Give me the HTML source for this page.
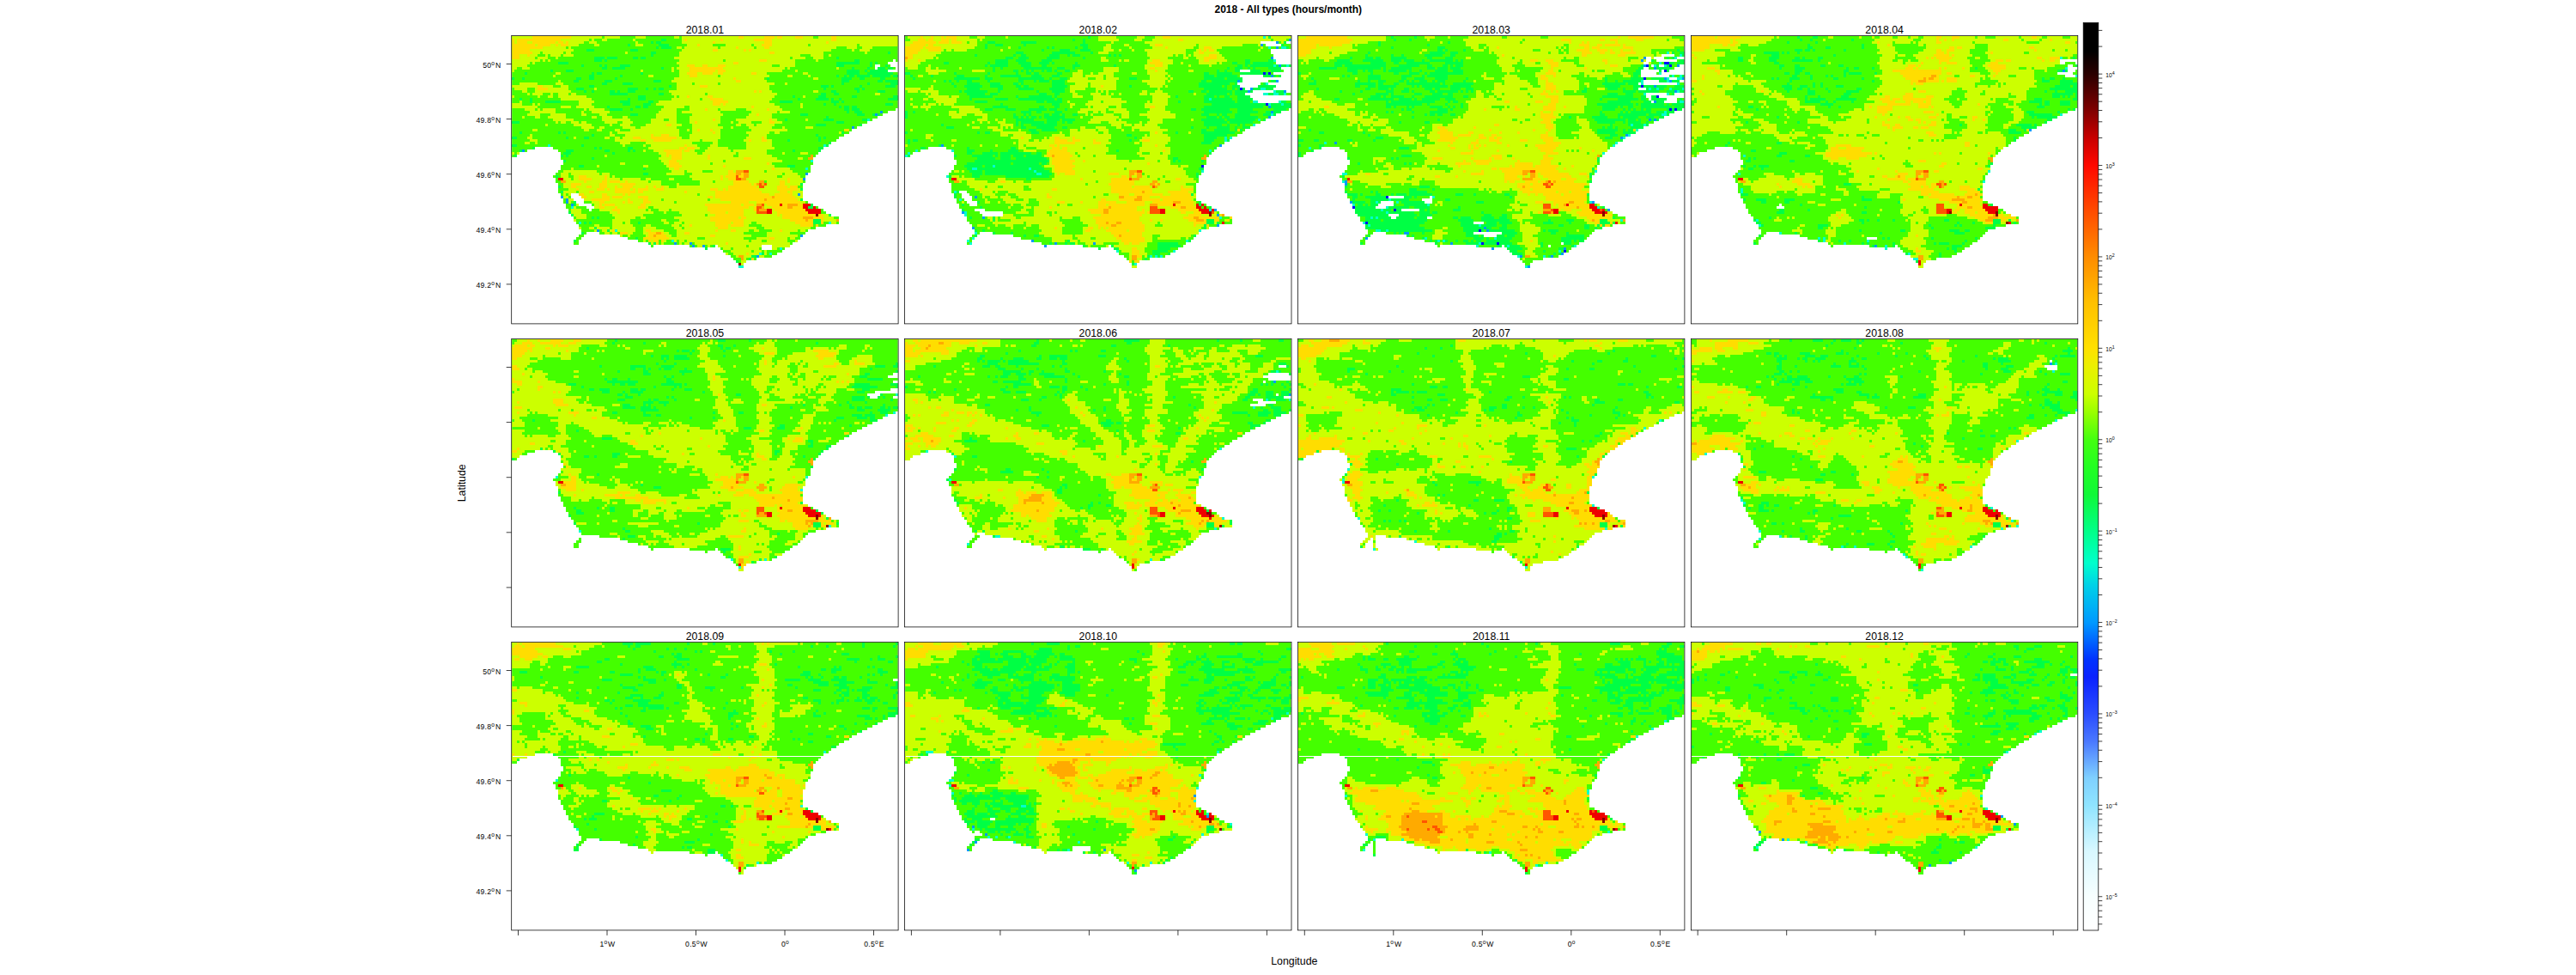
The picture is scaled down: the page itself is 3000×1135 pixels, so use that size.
<!DOCTYPE html><html><head><meta charset="utf-8"><title>2018 - All types (hours/month)</title>
<style>html,body{margin:0;padding:0;background:#fff}svg{display:block}text{font-family:"Liberation Sans",sans-serif;fill:#000}</style></head><body>
<svg width="3000" height="1135" viewBox="0 0 3000 1135">
<rect width="3000" height="1135" fill="#fff"/>
<text x="1500.30" y="15.20" font-size="12" text-anchor="middle" font-weight="bold" >2018 - All types (hours/month)</text>
<g shape-rendering="crispEdges">
<clipPath id="c1"><rect x="0" y="0" width="449.40" height="334.40"/></clipPath>
<g transform="translate(596.20,42.00)" clip-path="url(#c1)"><g transform="scale(3,3) translate(0,0.5)" stroke-width="1" fill="none">
<path stroke="#44ff00" d="M0 0h151M0 1h151M0 2h151M0 3h151M0 4h151M0 5h151M0 6h151M0 7h151M0 8h151M0 9h148M149 9h2M0 10h146M0 11h141M143 11h4M0 12h141M142 12h7M0 13h146M0 14h151M0 15h151M0 16h151M0 17h151M0 18h151M0 19h151M0 20h151M0 21h151M0 22h151M0 23h151M0 24h151M0 25h151M0 26h151M0 27h151M0 28h149M0 29h146M0 30h144M0 31h142M0 32h140M0 33h138M0 34h136M0 35h134M0 36h132M0 37h131M0 38h129M0 39h127M0 40h126M0 41h124M0 42h123M0 43h9M16 43h105M0 44h6M18 44h102M0 45h3M19 45h100M0 46h2M19 46h99M19 47h98M20 48h97M20 49h97M19 50h97M19 51h97M18 52h98M17 53h98M16 54h98M17 55h97M17 56h97M18 57h95M18 58h95M18 59h95M18 60h95M19 61h4M26 61h87M19 62h4M27 62h86M20 63h4M28 63h85M20 64h5M28 64h87M21 65h5M31 65h86M21 66h8M32 66h87M22 67h8M31 67h90M22 68h100M23 69h101M24 70h103M24 71h103M25 72h102M26 73h96M26 74h92M27 75h88M27 76h2M34 76h80M26 77h2M42 77h71M25 78h2M45 78h67M24 79h2M49 79h62M24 80h2M53 80h56M54 81h1M69 81h10M80 81h17M101 81h7M75 82h1M81 82h16M101 82h5M82 83h23M83 84h20M85 85h16M86 86h9M87 87h4M88 88h2M88 89h2"/>
<path stroke="#0099ff" d="M143 29h1M141 30h1M132 35h1M4 44h1M114 53h1M113 55h1M111 61h1M19 62h1M21 63h1M21 64h1M23 65h1M33 75h1M112 77h1M63 80h1M69 80h1M70 81h1M74 81h1M95 85h1"/>
<path stroke="#00ffcc" d="M138 32h1M14 42h1M121 42h1M116 48h1M114 51h1M23 66h1M26 72h1M123 72h1M40 75h1M62 79h1M104 82h1M96 84h1M100 84h1M88 89h2"/>
<path stroke="#00ff44" d="M58 1h2M54 2h1M56 2h2M45 3h1M57 3h4M56 4h1M58 4h4M29 5h3M46 5h3M54 6h2M146 6h1M54 7h1M32 8h4M37 8h4M47 8h2M50 8h2M126 8h1M32 9h3M36 9h1M133 9h2M150 9h1M18 10h4M126 10h9M139 10h1M141 10h1M27 11h1M34 11h1M36 11h1M42 11h4M126 11h3M139 11h1M145 11h1M35 12h2M39 12h5M58 12h1M132 12h1M138 12h1M142 12h3M146 12h2M15 13h1M21 13h3M130 13h5M137 13h1M139 13h7M5 14h1M31 14h1M33 14h2M50 14h1M130 14h5M138 14h10M30 15h2M42 15h1M126 15h1M129 15h1M131 15h2M134 15h5M140 15h7M148 15h3M0 16h1M4 16h1M25 16h2M30 16h2M40 16h1M99 16h1M128 16h4M135 16h2M143 16h2M24 17h2M36 17h3M55 17h3M128 17h3M142 17h2M145 17h6M35 18h2M43 18h4M128 18h1M138 18h1M147 18h4M30 19h2M61 19h1M120 19h3M124 19h1M135 19h1M145 19h4M25 20h3M45 20h4M52 20h1M55 20h1M57 20h2M121 20h1M133 20h2M136 20h1M28 21h1M31 21h1M38 21h2M41 21h1M45 21h3M124 21h2M134 21h1M142 21h3M38 22h7M57 22h2M120 22h2M125 22h2M49 23h3M109 23h1M119 23h3M132 23h2M148 23h3M3 24h1M7 24h1M45 24h1M49 24h3M111 24h1M118 24h5M124 24h1M127 24h1M146 24h4M7 25h1M13 25h6M42 25h4M53 25h2M104 25h5M124 25h3M128 25h1M43 26h3M51 26h3M121 26h1M125 26h1M145 26h3M37 27h1M48 27h2M51 27h2M127 27h1M129 27h2M132 27h2M38 28h5M46 28h1M129 28h2M132 28h3M130 29h1M133 29h3M46 30h3M112 30h3M134 30h3M140 30h1M142 30h1M122 31h1M106 32h1M121 32h4M136 32h2M0 33h3M126 33h3M118 34h4M135 34h1M3 37h1M18 37h1M20 37h1M128 37h1M31 38h1M118 38h1M0 39h2M21 39h1M28 39h2M119 39h1M121 39h1M107 40h1M119 40h1M123 41h1M0 42h2M27 42h1M122 42h1M8 43h1M32 43h1M34 43h1M45 43h2M119 43h2M3 44h1M21 44h3M36 44h2M45 44h1M47 44h1M109 44h1M119 44h1M20 45h3M39 45h1M1 46h1M19 46h1M21 46h1M31 47h1M20 48h1M26 50h2M107 50h3M51 51h1M51 53h2M17 54h1M112 57h1M18 58h1M112 59h1M19 60h1M112 63h1M24 64h1M24 65h1M116 65h1M115 66h2M22 68h1M23 69h1M123 69h1M31 70h1M33 70h1M117 71h3M28 72h1M30 72h1M49 72h1M117 72h3M32 74h1M37 75h1M27 76h1M48 78h1M24 79h1M53 80h1M55 80h1M78 81h1M75 82h1M97 84h1M93 85h2M92 86h1M87 87h1"/>
<path stroke="#ccff00" d="M0 0h8M23 0h12M36 0h6M48 0h4M63 0h2M66 0h22M90 0h8M102 0h1M105 0h5M113 0h4M119 0h5M126 0h25M1 1h1M19 1h11M31 1h1M35 1h2M47 1h1M66 1h1M68 1h13M82 1h12M101 1h23M126 1h25M1 2h1M6 2h2M17 2h1M20 2h1M22 2h6M30 2h3M48 2h1M66 2h12M79 2h19M101 2h21M123 2h28M9 3h1M15 3h2M18 3h1M22 3h4M32 3h2M48 3h3M68 3h4M73 3h5M83 3h10M94 3h3M101 3h14M116 3h18M135 3h16M12 4h9M22 4h1M64 4h2M67 4h13M81 4h6M88 4h6M95 4h3M100 4h26M130 4h4M136 4h4M7 5h17M66 5h12M80 5h10M91 5h1M93 5h31M132 5h1M135 5h4M8 6h3M12 6h8M21 6h2M44 6h1M65 6h35M102 6h19M137 6h1M3 7h3M7 7h3M13 7h1M15 7h4M20 7h4M65 7h47M116 7h5M123 7h1M3 8h6M10 8h4M17 8h1M63 8h45M109 8h5M117 8h4M0 9h11M12 9h1M14 9h1M65 9h17M83 9h13M99 9h11M118 9h1M0 10h7M8 10h1M64 10h22M88 10h22M0 11h6M65 11h3M71 11h3M76 11h4M83 11h18M104 11h6M0 12h2M4 12h3M62 12h1M64 12h5M82 12h24M107 12h1M126 12h1M0 13h1M50 13h1M62 13h1M65 13h4M79 13h1M83 13h22M110 13h1M17 14h2M65 14h3M72 14h2M78 14h2M82 14h11M95 14h4M113 14h2M16 15h1M53 15h2M65 15h4M72 15h8M81 15h19M107 15h2M115 15h1M63 16h23M87 16h11M117 16h2M18 17h1M62 17h25M89 17h10M3 18h7M17 18h3M64 18h6M71 18h9M81 18h21M106 18h1M0 19h10M12 19h4M19 19h3M64 19h9M76 19h24M1 20h5M9 20h1M14 20h8M32 20h1M64 20h36M4 21h2M9 21h14M61 21h33M95 21h1M97 21h4M117 21h2M6 22h1M8 22h4M15 22h1M18 22h4M23 22h2M62 22h13M76 22h27M141 22h2M0 23h1M10 23h1M14 23h2M18 23h11M63 23h1M65 23h3M69 23h7M78 23h24M113 23h1M19 24h12M62 24h11M74 24h3M82 24h19M3 25h1M26 25h6M57 25h21M84 25h16M0 26h4M8 26h1M10 26h1M26 26h5M56 26h22M81 26h1M83 26h19M112 26h1M0 27h10M19 27h4M25 27h7M59 27h8M69 27h24M94 27h10M112 27h1M5 28h4M10 28h1M12 28h5M28 28h1M30 28h6M58 28h6M69 28h6M76 28h4M81 28h6M91 28h8M100 28h5M7 29h10M27 29h1M31 29h7M57 29h7M66 29h15M93 29h10M104 29h4M6 30h5M15 30h6M27 30h2M34 30h3M56 30h8M70 30h12M92 30h3M96 30h5M4 31h1M9 31h2M14 31h7M31 31h2M35 31h4M43 31h2M56 31h8M69 31h12M91 31h10M16 32h8M35 32h11M54 32h5M61 32h3M69 32h9M79 32h2M87 32h13M101 32h2M114 32h1M17 33h1M19 33h2M23 33h3M27 33h2M36 33h5M43 33h4M54 33h10M69 33h2M72 33h9M85 33h1M88 33h5M97 33h3M102 33h3M13 34h1M24 34h7M38 34h1M42 34h4M52 34h8M62 34h4M70 34h10M87 34h2M91 34h3M95 34h7M27 35h5M34 35h2M43 35h5M50 35h14M70 35h12M85 35h1M92 35h9M105 35h1M114 35h3M8 36h2M28 36h2M33 36h2M40 36h2M46 36h19M68 36h1M70 36h2M73 36h4M78 36h3M93 36h14M38 37h1M41 37h24M70 37h8M79 37h2M91 37h9M102 37h2M127 37h1M7 38h1M38 38h2M44 38h10M55 38h3M61 38h4M69 38h12M92 38h7M6 39h2M24 39h1M36 39h2M40 39h2M43 39h4M50 39h4M64 39h2M69 39h12M91 39h6M98 39h1M7 40h3M40 40h10M52 40h3M62 40h11M74 40h6M90 40h2M93 40h4M99 40h2M5 41h2M9 41h1M42 41h4M52 41h18M78 41h2M91 41h10M43 42h1M51 42h1M54 42h13M68 42h4M77 42h3M91 42h10M53 43h12M67 43h1M71 43h2M76 43h8M91 43h11M51 44h1M55 44h4M66 44h1M69 44h2M75 44h10M86 44h13M0 45h1M2 45h1M57 45h3M66 45h6M74 45h13M88 45h11M105 45h1M112 45h3M36 46h1M58 46h2M61 46h1M66 46h10M77 46h9M88 46h13M57 47h5M66 47h10M77 47h13M93 47h10M111 47h2M58 48h3M64 48h18M83 48h22M42 49h2M59 49h2M65 49h12M78 49h21M100 49h1M33 50h1M51 50h2M60 50h1M66 50h16M83 50h19M23 51h1M61 51h2M65 51h36M102 51h6M20 52h13M62 52h5M68 52h6M78 52h6M86 52h1M92 52h6M99 52h10M19 53h3M23 53h11M35 53h3M60 53h7M70 53h14M92 53h13M106 53h5M19 54h3M24 54h2M29 54h7M37 54h1M39 54h1M69 54h12M82 54h1M92 54h11M105 54h7M20 55h3M24 55h2M31 55h5M37 55h5M43 55h7M52 55h2M61 55h2M70 55h11M82 55h2M91 55h16M108 55h5M21 56h7M29 56h6M37 56h1M42 56h2M45 56h8M54 56h4M73 56h5M79 56h7M92 56h4M99 56h5M106 56h1M108 56h5M20 57h3M27 57h7M37 57h5M48 57h10M64 57h1M73 57h13M93 57h1M99 57h5M106 57h6M20 58h3M25 58h4M31 58h3M37 58h3M41 58h2M47 58h5M53 58h2M56 58h2M59 58h2M64 58h20M95 58h1M98 58h5M107 58h1M22 59h3M26 59h7M36 59h1M38 59h2M46 59h1M48 59h1M53 59h3M59 59h18M80 59h2M83 59h1M96 59h7M111 59h1M20 60h5M26 60h4M32 60h8M48 60h1M51 60h16M68 60h11M97 60h7M107 60h1M109 60h4M20 61h1M22 61h1M28 61h7M37 61h6M44 61h1M46 61h26M73 61h6M100 61h2M109 61h2M112 61h1M20 62h2M29 62h6M38 62h1M43 62h6M53 62h23M78 62h1M110 62h3M22 63h2M28 63h3M38 63h7M46 63h5M53 63h5M59 63h17M77 63h4M111 63h1M22 64h1M31 64h3M36 64h7M44 64h1M47 64h4M54 64h9M64 64h21M92 64h3M112 64h2M25 65h1M32 65h2M35 65h1M40 65h10M52 65h23M89 65h1M94 65h1M98 65h1M24 66h1M32 66h2M36 66h4M41 66h8M52 66h1M55 66h21M92 66h2M98 66h3M23 67h4M34 67h5M42 67h10M53 67h1M57 67h4M62 67h14M90 67h4M101 67h1M23 68h4M38 68h3M42 68h13M59 68h1M65 68h12M83 68h1M90 68h5M101 68h2M24 69h5M39 69h12M66 69h9M76 69h3M90 69h13M104 69h1M121 69h2M25 70h4M40 70h8M50 70h2M63 70h14M88 70h1M91 70h14M121 70h4M24 71h1M39 71h7M58 71h2M65 71h12M90 71h18M121 71h5M39 72h4M44 72h2M59 72h2M63 72h3M67 72h12M85 72h1M90 72h3M95 72h15M124 72h2M32 73h2M39 73h8M52 73h2M62 73h3M66 73h3M70 73h9M84 73h1M90 73h2M97 73h15M26 74h1M30 74h2M33 74h5M39 74h9M51 74h5M63 74h3M67 74h13M84 74h11M98 74h18M32 75h1M35 75h2M38 75h1M41 75h7M51 75h1M54 75h5M64 75h15M80 75h5M87 75h5M94 75h2M101 75h3M105 75h6M112 75h2M36 76h2M39 76h2M45 76h2M51 76h2M59 76h2M64 76h3M69 76h21M99 76h9M42 77h1M45 77h1M52 77h1M60 77h2M64 77h13M79 77h14M99 77h12M61 78h11M75 78h15M95 78h5M102 78h5M108 78h2M51 79h1M54 79h1M59 79h1M63 79h1M65 79h2M68 79h24M93 79h4M99 79h8M110 79h1M54 80h1M58 80h1M65 80h1M67 80h2M71 80h12M84 80h24M72 81h2M76 81h1M80 81h11M92 81h5M101 81h7M82 82h3M86 82h10M101 82h2M85 83h8M94 83h3M98 83h1M83 84h1M86 84h5M92 84h4M98 84h1M87 85h1M90 85h3M96 85h2M90 86h1M89 87h2M89 88h1"/>
<path stroke="#ffdd00" d="M8 0h15M88 0h2M98 0h4M103 0h2M110 0h3M124 0h2M0 1h1M2 1h17M67 1h1M81 1h1M94 1h7M124 1h2M0 2h1M2 2h4M8 2h9M18 2h2M21 2h1M78 2h1M98 2h3M122 2h1M0 3h9M10 3h5M17 3h1M19 3h3M72 3h1M97 3h4M0 4h12M87 4h1M98 4h2M0 5h7M78 5h2M90 5h1M92 5h1M0 6h8M100 6h2M0 7h3M6 7h1M0 8h3M96 9h3M86 10h2M68 11h3M74 11h2M80 11h3M69 12h13M69 13h10M80 13h3M68 14h4M74 14h4M80 14h2M93 14h2M69 15h3M86 16h1M87 17h2M10 19h2M73 19h3M10 20h4M94 21h1M96 21h1M68 23h1M76 23h2M77 24h5M78 25h6M78 26h3M82 26h1M93 27h1M75 28h1M99 28h1M95 30h1M78 32h1M100 32h1M71 33h1M100 33h2M60 34h2M72 36h1M77 36h1M129 36h2M78 37h1M54 38h1M58 38h3M47 39h3M54 39h10M97 39h1M50 40h2M55 40h7M92 40h1M97 40h2M67 42h1M65 43h2M68 43h3M59 44h7M67 44h2M60 45h6M60 46h1M62 46h4M76 46h1M62 47h4M76 47h1M90 47h3M61 48h3M61 49h4M99 49h1M61 50h5M82 50h1M63 51h2M101 51h1M84 52h2M84 53h3M89 53h1M26 54h3M36 54h1M81 54h1M83 54h4M88 54h2M26 55h5M36 55h1M81 55h1M84 55h3M107 55h1M28 56h1M35 56h2M38 56h4M44 56h1M86 56h6M104 56h2M107 56h1M23 57h4M34 57h3M42 57h6M86 57h7M94 57h1M104 57h2M23 58h2M29 58h2M34 58h3M40 58h1M43 58h4M52 58h1M55 58h1M58 58h1M84 58h11M103 58h4M108 58h3M25 59h1M33 59h3M37 59h1M40 59h6M47 59h1M49 59h4M56 59h3M77 59h3M82 59h1M84 59h12M103 59h8M30 60h2M40 60h8M49 60h2M67 60h1M79 60h18M104 60h3M108 60h1M26 61h2M35 61h2M43 61h1M45 61h1M79 61h21M102 61h7M27 62h2M35 62h3M39 62h4M49 62h4M76 62h2M79 62h22M102 62h8M31 63h7M45 63h1M51 63h2M81 63h17M99 63h12M34 64h2M43 64h1M45 64h2M51 64h3M85 64h7M95 64h17M34 65h1M36 65h4M50 65h2M75 65h14M90 65h4M99 65h5M105 65h2M111 65h2M34 66h2M40 66h1M49 66h3M76 66h16M94 66h1M101 66h6M109 66h4M39 67h3M76 67h14M94 67h1M102 67h12M41 68h1M77 68h6M84 68h6M103 68h12M79 69h11M103 69h1M105 69h13M119 69h2M77 70h11M89 70h2M105 70h8M117 70h4M77 71h13M108 71h6M115 71h2M120 71h1M79 72h6M86 72h4M110 72h7M120 72h1M69 73h1M79 73h5M85 73h5M112 73h5M118 73h1M80 74h4M39 75h1M52 75h2M79 75h1M85 75h2M104 75h1M42 76h3M53 76h3M58 76h1M67 76h2M53 77h2M56 77h4M77 77h2M51 78h10M100 78h2M53 79h1M55 79h2M58 79h1M56 80h1M83 80h1M91 84h1M93 86h1"/>
<path stroke="#ffaa00" d="M116 46h1M115 47h2M87 52h3M87 53h2M90 53h2M90 54h2M89 55h2M19 56h2M96 56h2M95 57h1M97 57h1M101 62h1M98 63h1M95 65h2M107 65h4M97 66h1M107 66h2M96 67h3M113 70h4M114 71h1M126 71h1M56 76h2M55 77h1M88 85h2M89 86h1"/>
<path stroke="#ff5500" d="M90 52h2M87 54h1M87 55h2M96 57h1M98 57h1M96 58h2M97 65h1M95 66h2M95 67h1M95 68h4"/>
<path stroke="#ee0000" d="M18 55h2M104 65h1M113 65h3M113 66h2M117 66h1M99 67h2M114 67h6M99 68h2M115 68h5"/>
<path stroke="#880000" d="M118 69h1M88 88h1"/>
</g></g>
</g>
<rect x="595.70" y="41.50" width="450.40" height="335.40" fill="none" stroke="#000" stroke-width="0.75"/>
<text x="820.90" y="39.10" font-size="12.3" text-anchor="middle" font-weight="normal" >2018.01</text>
<g shape-rendering="crispEdges">
<clipPath id="c2"><rect x="0" y="0" width="449.40" height="334.40"/></clipPath>
<g transform="translate(1054.10,42.00)" clip-path="url(#c2)"><g transform="scale(3,3) translate(0,0.5)" stroke-width="1" fill="none">
<path stroke="#44ff00" d="M0 0h151M0 1h151M0 2h138M144 2h4M0 3h140M146 3h5M0 4h151M0 5h142M0 6h142M0 7h143M0 8h143M0 9h144M0 10h144M0 11h151M0 12h146M150 12h1M0 13h130M134 13h13M150 13h1M0 14h143M0 15h130M139 15h7M0 16h131M0 17h131M141 17h4M0 18h129M138 18h3M0 19h130M137 19h7M0 20h132M134 20h9M0 21h135M143 21h5M0 22h132M139 22h12M0 23h134M0 24h135M0 25h137M145 25h6M0 26h151M0 27h151M0 28h149M0 29h146M0 30h144M0 31h142M0 32h140M0 33h138M0 34h136M0 35h134M0 36h132M0 37h131M0 38h129M0 39h127M0 40h126M0 41h124M0 42h123M0 43h9M16 43h105M0 44h6M18 44h102M0 45h3M19 45h100M0 46h2M19 46h99M19 47h98M20 48h97M20 49h97M19 50h97M19 51h97M18 52h98M17 53h98M16 54h98M17 55h97M17 56h97M18 57h95M18 58h95M18 59h95M18 60h3M24 60h89M19 61h3M25 61h88M19 62h3M26 62h87M20 63h3M26 63h87M20 64h4M28 64h87M21 65h4M28 65h89M21 66h98M22 67h5M31 67h90M22 68h7M38 68h84M23 69h7M38 69h86M24 70h103M24 71h103M25 72h102M26 73h96M26 74h92M27 75h88M27 76h2M34 76h80M26 77h2M42 77h71M25 78h2M45 78h67M24 79h2M49 79h62M24 80h2M53 80h56M54 81h1M69 81h10M80 81h28M75 82h1M81 82h25M82 83h23M83 84h20M85 85h16M86 86h9M87 87h4M88 88h2M88 89h2"/>
<path stroke="#0000ff" d="M150 13h1M139 14h1M141 14h1M130 20h1M140 26h1M115 50h1"/>
<path stroke="#0099ff" d="M149 1h1M144 2h1M138 3h1M144 4h1M142 8h1M145 11h1M142 15h1M129 17h1M144 17h1M134 20h1M133 21h1M147 21h1M150 25h1M141 27h1M142 29h1M141 31h1M14 42h1M122 42h1M27 62h1M120 67h1M22 68h1M121 69h1M30 70h1M121 73h1M26 74h1M49 79h1M58 80h1M73 80h1M54 81h1"/>
<path stroke="#00ffcc" d="M139 0h1M141 4h1M146 4h2M143 9h1M143 11h1M148 11h1M140 18h1M138 20h2M143 21h1M139 22h2M143 22h2M147 22h1M118 24h1M135 25h2M145 25h1M141 26h1M146 26h1M142 30h1M137 32h1M135 34h1M124 39h1M126 39h1M124 40h1M4 44h1M18 44h1M118 44h1M1 45h1M0 46h1M34 50h1M26 51h2M48 51h1M50 52h1M115 52h1M51 53h2M16 54h1M19 60h1M21 63h1M118 67h1M23 68h1M23 69h1M122 70h1M114 75h1M27 76h1M26 78h1M24 79h1M109 79h1M25 80h1M82 83h1M104 83h1M95 85h1M97 85h1M99 85h1M89 88h1"/>
<path stroke="#00ff44" d="M71 0h1M141 0h1M65 1h1M69 1h1M32 2h3M45 2h6M69 2h1M147 2h1M31 3h1M35 3h3M46 3h1M68 3h3M146 3h1M31 4h1M44 4h1M55 4h1M57 4h1M66 4h1M69 4h2M148 4h1M53 5h1M60 5h4M68 5h4M43 6h3M57 6h9M72 6h1M27 7h1M42 7h1M45 7h2M56 7h4M63 7h1M65 7h3M79 7h1M81 7h1M83 7h1M39 8h3M44 8h4M55 8h5M69 8h1M35 9h5M43 9h4M53 9h4M132 9h2M141 9h2M15 10h2M32 10h1M35 10h5M44 10h5M52 10h4M57 10h1M66 10h1M127 10h2M132 10h2M135 10h8M31 11h1M33 11h7M45 11h4M53 11h2M65 11h3M81 11h1M129 11h2M132 11h1M134 11h9M144 11h1M146 11h2M149 11h2M34 12h1M37 12h1M46 12h11M59 12h3M65 12h1M125 12h1M128 12h3M133 12h1M135 12h1M141 12h5M150 12h1M34 13h1M42 13h2M45 13h1M47 13h1M49 13h1M53 13h1M55 13h2M58 13h1M62 13h2M121 13h1M124 13h1M128 13h2M134 13h4M142 13h4M0 14h2M19 14h1M32 14h1M43 14h1M47 14h2M50 14h2M59 14h2M116 14h2M121 14h6M130 14h9M140 14h1M2 15h1M10 15h1M20 15h3M31 15h1M37 15h8M49 15h4M57 15h3M116 15h4M121 15h8M139 15h3M143 15h1M145 15h1M3 16h1M19 16h10M31 16h3M44 16h10M56 16h1M60 16h3M87 16h3M116 16h8M125 16h6M15 17h1M17 17h1M20 17h1M24 17h2M32 17h1M44 17h2M50 17h1M52 17h4M57 17h5M115 17h2M119 17h10M130 17h1M142 17h2M18 18h1M24 18h5M33 18h4M42 18h2M45 18h1M57 18h5M114 18h12M128 18h1M139 18h1M19 19h1M23 19h7M33 19h5M43 19h2M46 19h2M57 19h6M87 19h1M114 19h9M124 19h1M127 19h3M137 19h7M24 20h5M36 20h2M44 20h6M56 20h6M116 20h9M127 20h1M129 20h1M131 20h1M135 20h3M140 20h3M21 21h1M23 21h9M36 21h1M51 21h1M57 21h5M110 21h2M115 21h2M118 21h9M128 21h5M134 21h1M144 21h3M24 22h7M33 22h3M52 22h3M58 22h2M117 22h8M126 22h1M128 22h4M141 22h2M145 22h2M150 22h1M25 23h9M43 23h1M48 23h9M58 23h1M105 23h1M116 23h4M121 23h1M124 23h2M129 23h5M25 24h1M35 24h5M44 24h14M59 24h2M116 24h2M119 24h8M129 24h6M27 25h5M51 25h3M55 25h6M106 25h1M116 25h12M129 25h5M146 25h2M37 26h1M57 26h3M119 26h21M142 26h4M147 26h3M34 27h6M52 27h2M58 27h2M116 27h23M142 27h8M31 28h3M39 28h4M48 28h7M56 28h3M62 28h1M111 28h2M115 28h11M129 28h6M143 28h5M0 29h1M3 29h1M45 29h4M51 29h2M58 29h3M116 29h11M129 29h8M140 29h2M143 29h3M0 30h1M42 30h1M46 30h1M48 30h1M54 30h2M57 30h3M61 30h1M65 30h2M115 30h3M121 30h1M123 30h2M128 30h6M139 30h3M143 30h1M0 31h1M42 31h2M45 31h1M47 31h1M49 31h2M52 31h1M54 31h8M117 31h4M122 31h1M124 31h2M128 31h9M43 32h7M55 32h5M61 32h5M115 32h9M125 32h11M139 32h1M43 33h1M45 33h9M55 33h4M61 33h1M63 33h2M116 33h9M126 33h9M14 34h1M43 34h1M45 34h1M49 34h10M116 34h7M125 34h1M129 34h1M131 34h1M16 35h3M45 35h2M51 35h7M61 35h2M111 35h1M117 35h1M121 35h5M128 35h1M131 35h3M48 36h3M53 36h6M115 36h2M120 36h6M128 36h1M130 36h1M0 37h1M28 37h1M31 37h2M49 37h3M105 37h1M115 37h13M86 38h2M116 38h9M89 39h1M116 39h5M1 40h1M3 40h2M87 40h1M116 40h4M125 40h1M1 41h1M115 41h4M13 42h1M6 43h2M24 43h1M41 43h2M120 43h1M24 44h3M33 44h1M40 44h4M82 44h1M24 45h2M30 45h6M37 45h12M51 45h2M118 45h1M1 46h1M19 46h1M26 46h8M35 46h1M37 46h4M42 46h4M47 46h6M28 47h7M37 47h4M43 47h12M104 47h2M27 48h29M104 48h1M106 48h1M115 48h1M24 49h17M42 49h10M53 49h2M23 50h7M31 50h3M35 50h18M24 51h2M28 51h20M49 51h5M114 51h2M25 52h5M31 52h19M51 52h5M26 53h4M31 53h20M53 53h4M113 53h1M17 54h1M26 54h3M39 54h17M113 54h1M47 55h2M20 60h1M19 61h1M111 61h1M19 62h1M28 64h1M114 64h1M22 65h1M114 65h1M29 66h1M118 66h1M22 67h1M25 70h1M34 70h1M34 71h1M117 71h3M117 72h3M121 72h1M116 73h1M116 74h1M27 75h1M30 75h1M34 76h1M41 76h1M27 77h1M46 77h1M50 77h2M112 77h1M63 79h1M110 79h1M56 80h1M62 80h1M64 80h2M98 80h8M69 81h1M80 81h1M98 81h9M75 82h1M81 82h2M98 82h5M96 83h6M96 84h3M102 84h1M94 85h1M98 85h1M93 86h1M88 88h1"/>
<path stroke="#ccff00" d="M1 0h5M7 0h3M11 0h3M15 0h1M20 0h5M28 0h3M39 0h1M75 0h7M90 0h3M97 0h3M103 0h36M140 0h1M142 0h9M2 1h3M8 1h1M11 1h3M17 1h1M20 1h8M29 1h1M75 1h8M89 1h3M96 1h10M108 1h34M143 1h5M0 2h3M12 2h1M17 2h1M22 2h2M25 2h3M80 2h1M93 2h45M146 2h1M0 3h2M8 3h1M11 3h17M78 3h2M85 3h2M95 3h2M100 3h13M114 3h17M137 3h1M7 4h1M14 4h13M40 4h1M77 4h3M87 4h1M96 4h5M102 4h10M114 4h2M119 4h4M138 4h1M6 5h3M14 5h1M16 5h2M19 5h5M37 5h1M77 5h4M83 5h1M88 5h1M93 5h16M113 5h1M115 5h1M117 5h1M120 5h1M137 5h1M5 6h9M75 6h4M94 6h15M112 6h2M116 6h6M3 7h9M94 7h10M105 7h1M108 7h1M110 7h1M112 7h6M121 7h2M3 8h8M12 8h1M76 8h2M95 8h7M108 8h2M113 8h3M121 8h3M1 9h4M6 9h2M76 9h3M83 9h1M85 9h2M94 9h2M99 9h5M114 9h2M118 9h7M0 10h6M94 10h1M100 10h4M107 10h1M114 10h7M122 10h1M0 11h5M9 11h1M93 11h4M100 11h2M110 11h1M118 11h1M1 12h4M8 12h2M12 12h1M21 12h1M77 12h6M93 12h2M97 12h5M8 13h8M26 13h5M67 13h2M77 13h6M94 13h3M98 13h3M110 13h2M9 14h4M65 14h4M72 14h1M75 14h6M88 14h2M94 14h8M5 15h2M65 15h4M70 15h7M78 15h3M95 15h6M102 15h1M64 16h7M74 16h3M78 16h5M95 16h7M103 16h1M11 17h1M63 17h19M92 17h9M102 17h1M66 18h5M72 18h10M94 18h7M10 19h1M64 19h7M72 19h4M77 19h5M95 19h5M101 19h1M0 20h6M9 20h2M64 20h6M74 20h8M98 20h1M1 21h4M6 21h7M64 21h2M74 21h1M76 21h1M78 21h1M92 21h2M97 21h3M8 22h1M10 22h3M65 22h2M72 22h4M78 22h1M80 22h1M83 22h1M91 22h3M95 22h7M112 22h1M9 23h8M18 23h3M65 23h4M73 23h7M96 23h7M2 24h1M7 24h2M11 24h9M73 24h11M96 24h6M12 25h8M63 25h1M71 25h5M77 25h9M94 25h1M96 25h6M2 26h1M7 26h1M9 26h3M13 26h1M15 26h4M64 26h2M70 26h14M93 26h9M3 27h2M6 27h4M18 27h9M64 27h1M71 27h1M73 27h6M82 27h2M93 27h2M97 27h4M8 28h1M21 28h8M68 28h10M79 28h7M95 28h6M17 29h3M21 29h9M67 29h4M73 29h2M76 29h2M81 29h6M94 29h9M12 30h1M17 30h7M27 30h5M70 30h1M72 30h1M77 30h4M84 30h3M91 30h14M18 31h4M30 31h2M68 31h1M73 31h10M84 31h3M94 31h11M28 32h4M35 32h1M38 32h1M72 32h10M83 32h1M95 32h5M111 32h1M26 33h1M29 33h1M32 33h1M36 33h3M71 33h5M79 33h7M91 33h1M94 33h6M24 34h1M37 34h5M80 34h4M85 34h3M89 34h3M93 34h5M26 35h3M32 35h4M37 35h1M39 35h1M41 35h1M68 35h2M74 35h4M82 35h2M88 35h11M2 36h1M34 36h4M44 36h1M64 36h3M68 36h6M75 36h4M84 36h1M88 36h1M91 36h11M37 37h10M60 37h1M64 37h11M77 37h2M95 37h2M98 37h2M110 37h1M8 38h3M37 38h3M42 38h7M57 38h5M64 38h16M93 38h1M95 38h7M8 39h2M41 39h4M46 39h3M54 39h1M56 39h2M60 39h5M66 39h14M92 39h11M10 40h1M18 40h2M44 40h4M50 40h2M53 40h5M63 40h2M68 40h5M74 40h5M91 40h1M95 40h8M42 41h1M44 41h14M66 41h7M76 41h4M89 41h2M92 41h10M0 42h1M18 42h1M29 42h1M35 42h1M44 42h2M47 42h9M58 42h1M60 42h18M92 42h5M98 42h3M44 43h3M51 43h6M60 43h1M63 43h6M70 43h9M91 43h12M46 44h5M55 44h1M63 44h16M91 44h9M101 44h2M64 45h2M67 45h11M90 45h2M95 45h4M100 45h3M54 46h1M65 46h2M68 46h5M74 46h8M91 46h11M56 47h1M64 47h18M93 47h9M56 48h1M66 48h3M70 48h17M88 48h10M99 48h4M56 49h1M65 49h29M95 49h8M54 50h4M66 50h40M107 50h3M57 51h1M65 51h20M86 51h22M19 52h2M22 52h1M57 52h1M66 52h7M74 52h13M92 52h17M58 53h1M60 53h2M66 53h13M83 53h4M93 53h16M18 54h3M22 54h1M58 54h26M86 54h1M88 54h2M92 54h2M95 54h5M101 54h9M20 55h7M36 55h3M57 55h11M69 55h11M91 55h7M99 55h6M107 55h5M21 56h1M24 56h8M35 56h2M39 56h3M43 56h3M49 56h25M75 56h5M89 56h7M98 56h3M103 56h10M24 57h46M71 57h8M89 57h6M99 57h10M25 58h6M32 58h4M38 58h8M48 58h32M88 58h1M95 58h1M98 58h9M108 58h4M27 59h2M30 59h16M49 59h8M59 59h21M96 59h11M29 60h5M35 60h1M40 60h40M96 60h6M110 60h2M30 61h5M39 61h1M43 61h12M56 61h21M79 61h4M87 61h2M100 61h3M112 61h1M30 62h1M33 62h3M37 62h4M44 62h11M57 62h16M74 62h9M95 62h4M111 62h2M31 63h1M38 63h5M46 63h2M51 63h25M78 63h5M99 63h1M111 63h1M22 64h1M31 64h2M36 64h1M39 64h9M52 64h7M62 64h6M69 64h6M82 64h4M93 64h3M112 64h1M41 65h1M45 65h2M52 65h7M60 65h3M65 65h10M78 65h1M93 65h2M112 65h1M40 66h1M46 66h3M50 66h6M57 66h18M90 66h5M98 66h5M45 67h2M50 67h21M90 67h2M93 67h2M101 67h5M43 68h5M50 68h5M57 68h1M59 68h13M93 68h1M101 68h6M109 68h3M120 68h1M38 69h4M50 69h6M57 69h19M92 69h18M115 69h3M119 69h2M32 70h2M35 70h1M37 70h6M45 70h15M61 70h4M68 70h5M91 70h17M33 71h1M35 71h1M41 71h19M68 71h6M91 71h4M96 71h3M100 71h10M124 71h1M34 72h12M47 72h14M69 72h5M92 72h6M99 72h13M120 72h1M28 73h3M35 73h1M39 73h3M47 73h2M52 73h10M71 73h4M93 73h4M100 73h12M113 73h3M32 74h1M41 74h1M46 74h1M52 74h6M59 74h2M69 74h2M73 74h2M76 74h1M78 74h1M93 74h22M117 74h1M53 75h8M69 75h1M72 75h6M86 75h1M93 75h21M52 76h9M69 76h11M92 76h22M54 77h11M66 77h15M92 77h4M99 77h12M57 78h8M67 78h5M74 78h8M93 78h3M98 78h9M109 78h1M57 79h5M64 79h3M68 79h16M93 79h3M66 80h1M70 80h3M74 80h3M83 80h2M87 80h1M91 80h3M71 81h1M78 81h1M81 81h13M83 82h5M90 82h3M84 83h4M91 83h2M87 84h1M91 84h3M87 85h1M93 85h1M87 86h1M90 86h2M88 89h2"/>
<path stroke="#ffdd00" d="M6 0h1M10 0h1M14 0h1M16 0h4M100 0h3M5 1h3M9 1h2M14 1h3M18 1h2M106 1h2M3 2h9M13 2h4M18 2h4M2 3h6M9 3h2M97 3h3M0 4h7M8 4h6M101 4h1M116 4h3M0 5h6M9 5h5M114 5h1M116 5h1M118 5h2M0 6h5M114 6h2M0 7h3M118 7h3M1 8h2M116 8h5M0 9h1M5 9h1M96 9h3M116 9h2M95 10h5M97 11h3M95 12h2M97 13h1M76 19h1M95 27h2M129 36h1M97 37h1M45 39h1M58 39h2M65 39h1M58 40h5M65 40h3M73 40h1M92 40h3M58 41h8M73 41h3M56 42h2M59 42h1M97 42h1M57 43h3M61 43h2M56 44h7M100 44h1M55 45h9M55 46h2M58 46h7M57 47h7M57 48h9M69 48h1M57 49h8M94 49h1M58 50h8M58 51h7M58 52h8M59 53h1M62 53h4M79 53h4M89 53h1M84 54h2M68 55h1M80 55h7M105 55h2M37 56h2M80 56h9M79 57h10M97 57h1M80 58h8M89 58h6M107 58h1M29 59h1M57 59h2M80 59h16M107 59h5M80 60h12M93 60h3M102 60h8M55 61h1M83 61h4M89 61h11M103 61h8M55 62h2M85 62h5M92 62h3M99 62h12M76 63h2M83 63h6M92 63h7M100 63h11M59 64h3M68 64h1M75 64h7M86 64h7M96 64h8M107 64h5M75 65h3M79 65h14M98 65h6M105 65h7M56 66h1M75 66h4M80 66h10M103 66h4M109 66h4M71 67h6M79 67h11M92 67h1M106 67h8M72 68h5M79 68h14M94 68h1M107 68h2M112 68h3M76 69h16M110 69h5M122 69h1M73 70h18M108 70h4M114 70h8M126 70h1M74 71h17M95 71h1M99 71h1M110 71h3M116 71h1M120 71h2M125 71h1M74 72h4M79 72h3M84 72h8M112 72h5M75 73h5M82 73h11M112 73h1M117 73h1M58 74h1M71 74h2M75 74h1M77 74h1M79 74h14M70 75h2M78 75h8M87 75h6M80 76h12M81 77h2M84 77h8M82 78h11M84 79h9M85 80h2M88 80h3M88 82h2M88 83h3M88 84h3M90 85h2M87 87h1M89 87h2"/>
<path stroke="#ffaa00" d="M0 8h1M57 46h1M116 46h1M115 47h2M87 52h3M87 53h2M90 53h2M87 54h1M90 54h2M88 55h3M19 56h2M96 56h2M95 57h2M98 57h1M97 58h1M92 60h1M83 62h2M90 62h2M89 63h3M104 64h3M95 65h3M79 66h1M107 66h2M77 67h2M77 68h2M123 69h1M112 70h2M113 71h3M78 72h1M82 72h2M80 73h2M83 77h1M88 85h2M88 86h2"/>
<path stroke="#ff5500" d="M90 52h2M87 55h1M96 58h1M95 66h3M95 67h4M95 68h4M119 68h1"/>
<path stroke="#ee0000" d="M18 55h2M104 65h1M113 65h1M115 65h1M113 66h2M116 66h1M99 67h2M114 67h4M119 67h1M99 68h2M115 68h3M123 72h1"/>
<path stroke="#880000" d="M118 68h1M118 69h1"/>
</g></g>
</g>
<rect x="1053.60" y="41.50" width="450.40" height="335.40" fill="none" stroke="#000" stroke-width="0.75"/>
<text x="1278.80" y="39.10" font-size="12.3" text-anchor="middle" font-weight="normal" >2018.02</text>
<g shape-rendering="crispEdges">
<clipPath id="c3"><rect x="0" y="0" width="449.40" height="334.40"/></clipPath>
<g transform="translate(1512.00,42.00)" clip-path="url(#c3)"><g transform="scale(3,3) translate(0,0.5)" stroke-width="1" fill="none">
<path stroke="#44ff00" d="M0 0h151M0 1h151M0 2h151M0 3h151M0 4h151M0 5h151M0 6h151M0 7h141M146 7h5M0 8h135M137 8h1M142 8h5M0 9h135M137 9h2M147 9h4M0 10h134M136 10h15M0 11h137M138 11h2M142 11h6M0 12h134M136 12h10M0 13h133M140 13h1M142 13h2M150 13h1M0 14h133M139 14h2M0 15h133M144 15h7M0 16h144M147 16h4M0 17h134M140 17h8M0 18h132M133 18h1M147 18h4M0 19h151M0 20h132M135 20h16M0 21h151M0 22h135M143 22h3M0 23h135M137 23h3M0 24h136M137 24h6M147 24h4M0 25h137M138 25h4M147 25h4M0 26h151M0 27h151M0 28h149M0 29h146M0 30h144M0 31h142M0 32h140M0 33h138M0 34h136M0 35h134M0 36h132M0 37h131M0 38h129M0 39h127M0 40h126M0 41h124M0 42h123M0 43h9M16 43h105M0 44h6M18 44h102M0 45h3M19 45h100M0 46h2M19 46h99M19 47h98M20 48h97M20 49h97M19 50h97M19 51h97M18 52h98M17 53h98M16 54h98M17 55h97M17 56h97M18 57h95M18 58h95M18 59h95M18 60h95M19 61h94M19 62h16M41 62h10M52 62h61M20 63h28M52 63h61M20 64h12M37 64h12M52 64h63M21 65h10M37 65h80M21 66h9M34 66h85M22 67h18M47 67h74M22 68h100M23 69h12M39 69h85M24 70h12M38 70h12M52 70h75M24 71h103M25 72h43M72 72h55M26 73h96M26 74h92M27 75h88M27 76h2M34 76h34M79 76h35M26 77h2M42 77h30M77 77h36M25 78h2M45 78h67M24 79h2M49 79h62M24 80h2M53 80h49M103 80h6M54 81h1M69 81h10M80 81h17M98 81h10M75 82h1M81 82h25M82 83h23M83 84h20M85 85h16M86 86h9M87 87h4M88 88h2M88 89h2"/>
<path stroke="#0000ff" d="M142 10h2M135 11h1M144 11h1M142 13h1M134 16h1M133 19h1M139 23h1M144 28h1M146 28h1M34 62h1M21 66h1M37 67h1M26 72h1M70 75h1M71 80h1M77 80h1M103 83h1"/>
<path stroke="#0099ff" d="M134 8h1M133 9h1M134 11h1M147 11h1M138 12h1M150 13h1M142 16h1M149 16h1M144 17h1M138 19h1M146 21h1M138 25h1M136 32h1M138 32h1M127 38h1M125 39h1M14 41h1M18 56h1M18 57h1M20 64h1M114 64h1M120 67h1M72 74h1M73 75h1M41 76h2M26 78h1M59 80h1M75 82h1M103 82h1M102 84h1M86 85h1M98 85h1M89 89h1"/>
<path stroke="#00ffcc" d="M143 6h1M148 7h1M146 8h1M150 9h1M140 10h1M138 11h1M142 11h1M140 14h1M145 15h1M148 15h1M143 16h1M147 16h2M133 17h1M143 17h1M133 18h1M147 18h1M136 20h1M139 20h1M144 20h1M149 20h1M147 21h1M134 22h1M143 22h1M148 25h2M142 29h1M141 30h2M129 34h1M134 34h1M131 36h1M128 38h1M126 39h1M10 41h1M123 41h1M122 42h1M4 43h1M118 45h1M115 52h1M17 53h2M17 56h1M52 62h1M35 63h1M30 64h1M38 64h1M113 64h1M21 65h1M50 65h1M34 66h1M116 66h1M32 67h1M34 68h1M28 70h1M30 70h1M125 71h1M25 72h1M27 73h1M70 73h1M30 75h2M34 75h1M49 78h1M76 78h1M54 79h1M56 79h1M70 80h1M69 81h1M81 81h1M107 81h1M101 83h1M85 85h1M95 85h1M88 89h1"/>
<path stroke="#00ff44" d="M36 0h1M45 0h1M37 1h1M43 1h1M31 2h1M58 2h1M31 3h1M50 3h1M36 4h1M54 4h3M54 5h2M57 5h1M64 5h1M147 5h1M27 6h1M51 6h6M59 6h3M145 6h1M148 6h3M26 7h1M36 7h1M40 7h1M49 7h7M59 7h2M149 7h2M20 8h1M26 8h3M30 8h2M36 8h6M50 8h2M57 8h3M143 8h1M145 8h1M15 9h5M25 9h8M36 9h4M41 9h4M48 9h1M51 9h9M61 9h1M63 9h1M137 9h1M148 9h2M14 10h7M28 10h6M37 10h2M42 10h9M57 10h7M144 10h2M147 10h4M14 11h3M18 11h16M39 11h8M50 11h2M56 11h2M59 11h1M61 11h3M133 11h1M139 11h1M143 11h1M8 12h7M19 12h13M33 12h1M36 12h8M50 12h3M54 12h4M59 12h4M132 12h2M139 12h6M19 13h4M25 13h1M27 13h2M33 13h1M35 13h7M43 13h1M47 13h1M53 13h5M60 13h4M131 13h2M140 13h1M143 13h1M0 14h1M21 14h2M28 14h1M37 14h2M43 14h4M49 14h1M51 14h13M130 14h3M17 15h1M19 15h1M27 15h5M40 15h4M48 15h1M50 15h8M130 15h2M144 15h1M149 15h2M5 16h1M27 16h5M40 16h2M45 16h4M53 16h5M65 16h1M119 16h1M129 16h5M137 16h5M150 16h1M6 17h1M23 17h1M27 17h1M31 17h3M39 17h2M42 17h1M44 17h1M47 17h3M52 17h1M54 17h3M64 17h1M119 17h1M123 17h1M126 17h7M140 17h3M145 17h3M4 18h3M22 18h8M31 18h2M37 18h2M42 18h13M56 18h1M60 18h8M118 18h9M128 18h4M22 19h2M27 19h3M31 19h7M44 19h1M46 19h1M48 19h10M59 19h8M119 19h6M130 19h3M134 19h4M139 19h4M146 19h5M7 20h1M26 20h2M31 20h4M36 20h1M41 20h2M49 20h3M53 20h2M59 20h4M65 20h3M111 20h1M120 20h4M126 20h1M130 20h2M135 20h1M137 20h2M140 20h2M145 20h4M150 20h1M16 21h1M24 21h1M34 21h3M40 21h3M44 21h1M51 21h2M54 21h8M63 21h1M65 21h1M67 21h1M110 21h2M126 21h5M132 21h8M143 21h3M148 21h3M21 22h1M30 22h5M36 22h1M45 22h3M52 22h4M58 22h2M120 22h4M127 22h3M145 22h1M28 23h4M33 23h1M36 23h5M44 23h1M49 23h11M64 23h2M118 23h12M133 23h2M137 23h2M14 24h2M27 24h10M39 24h5M45 24h1M48 24h7M57 24h4M117 24h1M124 24h8M133 24h2M137 24h6M148 24h1M150 24h1M34 25h1M36 25h17M58 25h1M60 25h2M120 25h9M134 25h3M139 25h3M147 25h1M150 25h1M34 26h14M50 26h1M57 26h1M63 26h1M116 26h14M131 26h1M133 26h9M143 26h1M145 26h6M34 27h2M37 27h1M42 27h1M44 27h1M51 27h5M58 27h1M60 27h1M63 27h1M118 27h6M125 27h1M128 27h2M133 27h12M146 27h5M40 28h1M42 28h2M54 28h4M59 28h1M118 28h5M126 28h1M128 28h1M130 28h1M133 28h1M135 28h2M143 28h1M145 28h1M147 28h2M34 29h1M36 29h1M44 29h1M51 29h7M117 29h1M125 29h1M127 29h1M129 29h8M139 29h3M143 29h3M49 30h1M51 30h2M54 30h2M59 30h2M117 30h2M124 30h11M136 30h5M143 30h1M44 31h1M105 31h1M114 31h6M124 31h1M126 31h6M135 31h3M140 31h2M54 32h1M115 32h12M128 32h3M132 32h1M137 32h1M139 32h1M39 33h1M49 33h2M116 33h7M126 33h1M128 33h5M135 33h1M121 34h1M128 34h1M130 34h4M135 34h1M118 35h1M120 35h2M123 35h1M129 35h5M4 36h1M116 36h8M126 36h1M128 36h2M8 37h2M25 37h1M116 37h7M126 37h5M27 38h1M121 38h3M30 39h3M119 39h3M0 40h2M6 40h2M19 40h2M29 40h1M125 40h1M0 42h1M8 42h2M8 43h1M39 43h4M5 44h1M0 45h1M0 46h1M40 46h4M19 47h1M36 47h1M38 47h1M116 47h1M116 48h1M23 49h1M41 49h1M43 49h1M114 51h1M113 53h1M17 54h1M113 54h1M113 56h1M18 58h1M47 58h4M43 59h3M52 59h1M18 60h1M28 60h1M30 60h1M43 60h7M19 61h4M24 61h1M30 61h2M36 61h1M38 61h4M43 61h9M61 61h3M68 61h1M80 61h2M112 61h1M21 62h2M26 62h8M41 62h3M45 62h1M82 62h1M21 63h1M28 63h7M36 63h7M57 63h2M21 64h5M28 64h2M31 64h1M40 64h9M69 64h3M23 65h2M26 65h1M28 65h3M37 65h1M41 65h9M22 66h8M35 66h8M45 66h6M62 66h1M118 66h1M22 67h10M33 67h3M38 67h2M47 67h2M50 67h1M60 67h3M22 68h12M35 68h10M47 68h4M52 68h2M71 68h1M23 69h12M39 69h7M47 69h5M72 69h3M79 69h2M26 70h2M29 70h1M31 70h5M38 70h7M46 70h4M60 70h2M63 70h4M71 70h5M78 70h3M122 70h1M26 71h6M33 71h17M62 71h6M71 71h11M97 71h1M104 71h3M117 71h3M27 72h22M63 72h5M73 72h4M78 72h5M95 72h4M105 72h1M117 72h4M122 72h1M26 73h1M28 73h19M63 73h7M71 73h6M79 73h2M101 73h2M111 73h2M116 73h1M118 73h1M26 74h23M64 74h8M73 74h2M78 74h3M111 74h2M115 74h1M117 74h1M32 75h2M35 75h17M64 75h6M71 75h1M74 75h10M95 75h1M97 75h4M37 76h1M39 76h1M48 76h1M65 76h3M79 76h6M98 76h2M104 76h1M27 77h1M42 77h1M44 77h1M65 77h5M71 77h1M77 77h3M81 77h3M104 77h7M48 78h1M68 78h4M73 78h1M77 78h6M102 78h9M51 79h1M53 79h1M57 79h1M61 79h1M64 79h2M67 79h1M69 79h2M73 79h9M102 79h4M107 79h1M109 79h2M24 80h1M53 80h1M65 80h5M72 80h5M78 80h5M94 80h1M103 80h3M77 81h2M80 81h1M82 81h4M94 81h1M106 81h1M81 82h6M101 82h2M82 83h3M95 83h1M83 84h4M99 84h1M101 84h1M97 85h1"/>
<path stroke="#ccff00" d="M0 0h3M19 0h15M49 0h4M58 0h1M66 0h13M81 0h13M97 0h27M125 0h3M138 0h7M21 1h13M50 1h1M64 1h23M88 1h14M106 1h11M119 1h2M124 1h7M134 1h9M144 1h4M20 2h7M55 2h1M65 2h21M87 2h18M106 2h4M111 2h1M113 2h10M124 2h27M7 3h1M17 3h4M22 3h1M65 3h5M73 3h30M105 3h4M113 3h3M118 3h1M125 3h1M127 3h24M7 4h5M13 4h8M67 4h3M72 4h1M74 4h3M78 4h22M101 4h1M103 4h1M105 4h6M113 4h1M117 4h9M130 4h16M5 5h18M30 5h1M48 5h2M68 5h4M74 5h17M94 5h7M102 5h1M105 5h3M113 5h3M120 5h1M122 5h3M126 5h3M130 5h7M5 6h7M13 6h6M47 6h1M74 6h1M76 6h21M98 6h3M103 6h1M105 6h5M114 6h3M119 6h2M123 6h2M131 6h6M139 6h1M144 6h1M3 7h13M77 7h2M80 7h30M112 7h12M127 7h11M139 7h2M0 8h7M8 8h6M65 8h2M78 8h5M84 8h19M104 8h3M109 8h19M132 8h2M137 8h1M2 9h2M10 9h2M77 9h9M87 9h3M93 9h3M99 9h3M109 9h9M120 9h8M129 9h4M134 9h1M1 10h1M3 10h1M77 10h8M87 10h5M94 10h3M101 10h6M109 10h10M120 10h14M136 10h1M78 11h5M88 11h10M101 11h7M111 11h10M124 11h5M79 12h5M95 12h3M99 12h12M112 12h14M79 13h5M85 13h1M94 13h3M99 13h2M102 13h12M115 13h1M119 13h7M4 14h1M72 14h1M81 14h1M92 14h4M100 14h9M111 14h11M125 14h3M1 15h3M71 15h2M80 15h5M92 15h2M96 15h3M100 15h6M111 15h1M113 15h6M126 15h3M2 16h1M12 16h4M22 16h1M72 16h4M79 16h7M93 16h1M97 16h11M116 16h2M68 17h1M80 17h9M93 17h3M97 17h12M76 18h3M80 18h10M93 18h3M99 18h10M111 18h2M76 19h15M94 19h2M100 19h9M112 19h1M76 20h10M89 20h7M100 20h9M116 20h3M4 21h2M69 21h2M73 21h1M75 21h20M96 21h2M99 21h1M101 21h2M107 21h1M2 22h4M69 22h3M76 22h3M80 22h9M90 22h4M97 22h6M1 23h6M69 23h3M74 23h2M77 23h13M91 23h5M101 23h10M2 24h7M23 24h2M67 24h10M79 24h19M101 24h11M0 25h4M5 25h8M65 25h15M82 25h10M95 25h3M101 25h11M0 26h15M18 26h4M26 26h1M66 26h23M90 26h7M100 26h12M0 27h10M12 27h10M66 27h9M80 27h1M82 27h2M85 27h10M100 27h3M104 27h7M0 28h4M6 28h2M10 28h9M66 28h6M73 28h5M79 28h5M86 28h9M100 28h11M0 29h1M6 29h1M8 29h1M11 29h11M24 29h1M26 29h1M65 29h29M95 29h3M99 29h12M9 30h1M14 30h8M24 30h3M29 30h1M39 30h1M64 30h27M92 30h2M99 30h2M102 30h1M4 31h1M16 31h9M28 31h3M62 31h1M64 31h30M100 31h2M108 31h1M19 32h10M31 32h4M60 32h23M85 32h3M90 32h5M98 32h2M108 32h4M20 33h3M24 33h11M60 33h26M87 33h7M98 33h1M108 33h5M19 34h2M23 34h1M25 34h3M29 34h5M52 34h4M58 34h18M78 34h18M99 34h1M109 34h4M0 35h3M23 35h1M28 35h1M34 35h2M48 35h1M52 35h2M57 35h11M69 35h27M99 35h1M110 35h3M23 36h2M27 36h3M32 36h5M47 36h1M52 36h3M58 36h16M75 36h16M92 36h5M98 36h2M109 36h5M0 37h1M32 37h11M51 37h3M60 37h6M68 37h10M79 37h6M86 37h10M97 37h3M106 37h9M35 38h8M47 38h2M50 38h5M60 38h2M67 38h3M72 38h3M77 38h17M97 38h3M109 38h7M40 39h5M50 39h5M62 39h8M73 39h1M76 39h1M79 39h15M99 39h2M107 39h1M109 39h8M39 40h1M41 40h5M51 40h3M61 40h8M70 40h4M78 40h8M89 40h6M99 40h19M20 41h1M22 41h1M41 41h4M46 41h2M53 41h6M60 41h7M70 41h7M79 41h17M102 41h18M21 42h2M46 42h2M49 42h9M59 42h7M67 42h1M69 42h1M71 42h1M73 42h8M82 42h6M89 42h3M101 42h19M46 43h13M61 43h5M67 43h1M70 43h23M100 43h9M110 43h10M37 44h1M44 44h10M55 44h12M68 44h9M78 44h16M99 44h5M105 44h1M107 44h1M109 44h5M115 44h5M48 45h15M68 45h28M101 45h11M113 45h5M49 46h26M79 46h2M83 46h12M97 46h19M29 47h5M50 47h2M56 47h11M68 47h6M75 47h1M79 47h4M84 47h11M99 47h16M29 48h1M31 48h2M49 48h15M65 48h3M75 48h10M86 48h8M98 48h18M29 49h1M34 49h2M45 49h1M49 49h5M55 49h6M67 49h2M74 49h10M91 49h3M98 49h3M102 49h14M33 50h4M48 50h2M58 50h4M63 50h19M83 50h1M91 50h1M101 50h5M107 50h8M30 51h1M35 51h2M40 51h3M44 51h7M52 51h1M60 51h15M77 51h1M100 51h3M104 51h10M115 51h1M24 52h1M31 52h26M59 52h5M65 52h6M72 52h7M101 52h13M23 53h3M28 53h5M35 53h32M72 53h8M89 53h1M93 53h1M105 53h4M112 53h1M18 54h25M45 54h8M55 54h6M62 54h18M85 54h2M88 54h2M93 54h2M106 54h6M20 55h22M44 55h4M49 55h31M86 55h1M94 55h3M102 55h2M108 55h5M24 56h23M53 56h17M71 56h9M81 56h1M84 56h4M93 56h1M107 56h5M20 57h1M27 57h7M40 57h1M44 57h3M53 57h32M90 57h1M112 57h1M26 58h1M32 58h4M55 58h30M20 59h1M70 59h2M73 59h1M75 59h7M83 59h3M90 59h1M110 59h3M74 60h1M77 60h2M85 60h2M100 60h1M105 60h1M85 61h4M90 61h2M93 61h2M102 61h1M84 62h12M84 63h12M54 64h2M84 64h1M86 64h6M95 64h4M111 64h1M53 65h1M55 65h1M82 65h4M89 65h6M98 65h1M100 65h1M116 65h1M83 66h12M98 66h3M81 67h2M84 67h2M87 67h8M102 67h1M106 67h4M87 68h3M91 68h2M94 68h1M104 68h4M120 68h2M83 69h7M97 69h5M106 69h3M83 70h8M108 70h4M121 70h1M85 71h2M111 71h2M120 71h5M86 72h1M88 72h2M112 72h3M124 72h1M86 73h6M115 73h1M56 74h2M86 74h8M53 75h3M86 75h8M108 75h1M53 76h5M87 76h6M52 77h4M87 77h4M52 78h4M87 78h6M87 79h3M91 79h2M55 80h1M85 80h8M88 81h6M89 82h3M88 83h3M88 84h4M90 85h3M87 86h1"/>
<path stroke="#ffdd00" d="M3 0h16M124 0h1M128 0h10M0 1h21M102 1h4M117 1h2M121 1h3M131 1h3M0 2h20M105 2h1M110 2h1M112 2h1M123 2h1M0 3h7M8 3h9M109 3h4M116 3h2M119 3h6M126 3h1M0 4h7M12 4h1M77 4h1M111 4h2M114 4h3M126 4h4M0 5h5M108 5h5M116 5h4M121 5h1M125 5h1M129 5h1M0 6h5M110 6h4M117 6h2M121 6h2M125 6h6M0 7h3M79 7h1M110 7h2M124 7h3M90 9h3M96 9h3M118 9h2M97 10h4M119 10h1M98 11h3M121 11h3M98 12h1M111 12h1M97 13h2M96 14h4M94 15h2M99 15h1M94 16h3M96 17h1M96 18h3M96 19h4M96 20h4M95 21h1M98 21h1M100 21h1M94 22h3M96 23h5M98 24h3M80 25h2M92 25h3M98 25h3M97 26h3M10 27h2M84 27h1M95 27h5M103 27h1M72 28h1M84 28h2M95 28h5M94 29h1M98 29h1M94 30h5M94 31h6M95 32h3M94 33h4M76 34h2M96 34h3M54 35h3M68 35h1M96 35h3M55 36h3M74 36h1M91 36h1M97 36h1M130 36h1M54 37h6M66 37h2M78 37h1M85 37h1M96 37h1M55 38h5M62 38h5M70 38h2M75 38h2M94 38h3M55 39h7M70 39h3M74 39h2M77 39h2M94 39h5M54 40h7M69 40h1M74 40h4M86 40h3M95 40h4M59 41h1M67 41h3M77 41h2M96 41h6M58 42h1M66 42h1M68 42h1M70 42h1M72 42h1M81 42h1M92 42h9M59 43h2M66 43h1M68 43h2M93 43h7M109 43h1M54 44h1M67 44h1M77 44h1M94 44h5M114 44h1M63 45h5M96 45h5M75 46h4M95 46h2M52 47h4M67 47h1M74 47h1M76 47h3M83 47h1M95 47h4M115 47h1M64 48h1M68 48h7M85 48h1M94 48h4M61 49h6M69 49h5M84 49h7M94 49h4M62 50h1M82 50h1M84 50h7M92 50h9M106 50h1M75 51h2M78 51h22M103 51h1M64 52h1M71 52h1M79 52h8M92 52h9M26 53h2M67 53h5M80 53h7M92 53h1M94 53h11M109 53h3M53 54h2M61 54h1M80 54h5M87 54h1M92 54h1M95 54h11M112 54h1M80 55h6M91 55h3M97 55h5M104 55h4M80 56h1M82 56h2M88 56h5M94 56h2M98 56h1M100 56h7M85 57h5M91 57h4M99 57h13M85 58h2M88 58h8M98 58h13M86 59h4M91 59h19M87 60h13M101 60h4M106 60h7M89 61h1M92 61h1M95 61h7M103 61h9M96 62h16M96 63h16M92 64h3M99 64h6M107 64h4M99 65h1M101 65h2M105 65h8M101 66h7M109 66h4M101 67h1M103 67h3M110 67h4M93 68h1M108 68h7M109 69h9M119 69h3M112 70h9M113 71h1M115 71h2M115 72h2M121 72h1M117 73h1M119 73h2M90 79h1"/>
<path stroke="#ffaa00" d="M116 46h1M87 52h3M87 53h2M90 53h2M90 54h2M87 55h4M19 56h2M96 56h1M99 56h1M97 57h1M87 58h1M105 64h2M103 65h1M108 66h1M95 67h3M98 68h1M114 71h1M126 71h1M88 85h2"/>
<path stroke="#ff5500" d="M90 52h2M97 56h1M95 57h2M98 57h1M96 58h2M95 65h3M95 66h3M98 67h1M117 67h1M95 68h3"/>
<path stroke="#ee0000" d="M19 55h1M104 65h1M113 65h2M113 66h3M99 67h2M114 67h3M118 67h1M99 68h2M115 68h3M119 68h1M123 72h1"/>
<path stroke="#880000" d="M118 68h1M118 69h1"/>
</g></g>
</g>
<rect x="1511.50" y="41.50" width="450.40" height="335.40" fill="none" stroke="#000" stroke-width="0.75"/>
<text x="1736.70" y="39.10" font-size="12.3" text-anchor="middle" font-weight="normal" >2018.03</text>
<g shape-rendering="crispEdges">
<clipPath id="c4"><rect x="0" y="0" width="449.40" height="334.40"/></clipPath>
<g transform="translate(1969.90,42.00)" clip-path="url(#c4)"><g transform="scale(3,3) translate(0,0.5)" stroke-width="1" fill="none">
<path stroke="#44ff00" d="M0 0h151M0 1h151M0 2h151M0 3h151M0 4h151M0 5h151M0 6h151M0 7h151M0 8h151M0 9h143M150 9h1M0 10h143M145 10h4M0 11h146M148 11h3M0 12h146M0 13h146M149 13h2M0 14h142M148 14h3M0 15h145M149 15h2M0 16h151M0 17h151M0 18h151M0 19h151M0 20h151M0 21h151M0 22h151M0 23h151M0 24h151M0 25h151M0 26h151M0 27h151M0 28h149M0 29h146M0 30h144M0 31h142M0 32h140M0 33h138M0 34h136M0 35h134M0 36h132M0 37h131M0 38h129M0 39h127M0 40h126M0 41h124M0 42h123M0 43h9M16 43h105M0 44h6M18 44h102M0 45h3M19 45h100M0 46h2M19 46h99M19 47h98M20 48h97M20 49h97M19 50h97M19 51h97M18 52h98M17 53h98M16 54h98M17 55h97M17 56h97M18 57h95M18 58h95M18 59h95M18 60h95M19 61h94M19 62h94M20 63h93M20 64h95M21 65h13M35 65h82M21 66h12M36 66h83M22 67h99M22 68h100M23 69h101M24 70h103M24 71h103M25 72h102M26 73h96M26 74h92M27 75h88M27 76h2M34 76h80M26 77h2M42 77h71M25 78h2M45 78h23M72 78h40M24 79h2M49 79h62M24 80h2M53 80h56M54 81h1M69 81h10M80 81h28M75 82h1M81 82h25M82 83h23M83 84h20M85 85h16M86 86h9M87 87h4M88 88h2M88 89h2"/>
<path stroke="#0099ff" d="M144 13h1M131 36h1M71 81h1"/>
<path stroke="#00ffcc" d="M143 8h1M145 12h1M149 15h1M143 30h1M20 46h1M115 52h1M18 53h1M113 56h1M19 59h1M19 60h1M25 71h1M26 73h1M34 76h1M49 78h1M51 78h1M51 79h1M68 79h1M59 80h1M75 81h1M75 82h1M84 84h1M86 86h2"/>
<path stroke="#00ff44" d="M41 0h1M47 0h2M42 1h1M46 1h1M62 1h1M37 2h1M48 2h1M45 3h1M66 3h1M45 4h2M52 4h2M66 4h1M40 5h3M44 5h2M47 5h1M59 5h1M28 6h6M35 6h1M37 6h1M41 6h1M31 7h3M55 7h1M18 8h2M30 8h4M40 8h2M43 8h1M49 8h2M148 8h1M18 9h2M30 9h3M39 9h8M49 9h1M32 10h2M34 11h2M40 11h2M50 11h2M57 11h2M149 11h2M34 12h1M40 12h4M60 12h1M63 12h2M70 12h1M110 12h1M40 13h3M59 13h2M142 13h2M145 13h1M36 14h2M40 14h2M44 14h2M59 14h1M61 14h5M71 14h1M39 15h2M46 15h1M52 15h1M54 15h1M59 15h1M31 16h1M33 16h1M38 16h4M46 16h1M55 16h2M66 16h1M136 16h1M139 16h2M144 16h1M38 17h1M70 17h1M136 17h3M143 17h5M150 17h1M37 18h1M47 18h1M50 18h1M143 18h8M35 19h4M42 19h3M47 19h1M50 19h1M56 19h3M141 19h6M148 19h3M36 20h3M41 20h2M45 20h1M52 20h1M64 20h2M139 20h12M37 21h1M45 21h3M53 21h1M60 21h5M137 21h1M141 21h1M145 21h6M45 22h3M59 22h3M140 22h8M149 22h2M44 23h1M49 23h1M58 23h3M140 23h3M144 23h1M146 23h1M149 23h1M44 24h1M46 24h6M56 24h8M133 24h3M148 24h3M44 25h6M52 25h1M55 25h1M62 25h1M131 25h5M137 25h2M143 25h4M50 26h5M135 26h1M137 26h2M143 26h4M22 27h2M53 27h1M57 27h1M134 27h3M25 28h1M146 28h1M148 28h1M130 29h3M142 29h1M131 30h9M33 31h1M132 31h1M134 31h8M138 32h2M21 33h1M41 33h1M137 33h1M104 34h1M126 34h6M133 34h1M128 35h6M123 36h3M129 36h1M123 37h5M125 39h1M125 40h1M14 41h1M33 41h2M13 42h1M23 44h2M34 45h3M33 46h2M44 46h2M22 47h1M24 47h1M21 48h2M38 48h2M116 49h1M20 50h1M24 50h1M26 50h4M115 50h1M22 51h2M27 51h1M59 57h3M111 59h1M19 61h3M66 62h1M20 63h1M25 63h4M36 63h4M66 63h4M27 64h2M36 64h2M80 64h1M42 65h1M116 65h1M67 66h1M34 67h2M45 67h1M33 68h3M66 68h2M30 70h1M24 71h1M65 71h2M68 71h1M72 71h1M78 71h1M98 71h2M117 71h3M123 71h1M25 72h2M66 72h1M103 72h1M109 72h1M117 72h3M125 72h1M27 73h1M49 73h4M92 73h1M102 73h1M104 73h1M117 73h1M49 74h2M93 74h1M114 74h4M65 75h1M81 75h2M100 75h4M106 75h2M40 76h1M73 76h1M102 76h4M26 77h1M74 78h1M76 78h1M93 78h1M110 78h1M49 79h1M57 79h1M61 79h1M106 79h1M24 80h1M66 80h1M68 80h1M78 80h1M94 80h1M96 80h4M105 80h1M70 81h1M78 81h1M101 81h4M99 82h1M101 82h2M102 83h1M83 84h1M96 84h1M96 85h1M87 87h1"/>
<path stroke="#ccff00" d="M9 0h1M19 0h13M33 0h1M53 0h2M65 0h1M70 0h1M73 0h5M80 0h4M85 0h3M90 0h5M97 0h4M104 0h6M111 0h3M118 0h9M128 0h4M134 0h2M138 0h6M147 0h4M15 1h1M17 1h14M51 1h1M71 1h15M89 1h6M96 1h2M99 1h2M102 1h19M123 1h5M129 1h6M136 1h3M140 1h11M15 2h1M18 2h11M70 2h2M73 2h5M79 2h6M86 2h1M88 2h7M97 2h12M110 2h20M135 2h10M147 2h2M7 3h5M14 3h1M17 3h2M22 3h4M72 3h4M77 3h1M88 3h2M91 3h19M115 3h36M7 4h11M72 4h7M91 4h9M102 4h1M105 4h5M115 4h16M133 4h18M5 5h4M15 5h4M73 5h6M90 5h5M97 5h2M102 5h6M115 5h18M134 5h6M141 5h4M146 5h5M0 6h13M72 6h8M88 6h7M98 6h1M100 6h8M114 6h2M117 6h12M131 6h19M1 7h12M23 7h2M74 7h5M80 7h3M86 7h8M100 7h1M102 7h7M115 7h33M0 8h1M2 8h8M23 8h1M73 8h6M87 8h4M92 8h1M94 8h1M101 8h6M110 8h2M115 8h19M136 8h3M146 8h1M0 9h6M7 9h3M22 9h2M73 9h5M80 9h2M84 9h1M88 9h8M100 9h8M116 9h2M121 9h1M124 9h12M137 9h2M141 9h2M0 10h4M23 10h2M53 10h1M72 10h10M83 10h6M90 10h6M97 10h2M103 10h5M114 10h2M119 10h24M0 11h11M12 11h1M73 11h11M87 11h1M89 11h20M113 11h2M122 11h19M0 12h6M9 12h2M73 12h10M86 12h1M88 12h8M97 12h1M99 12h6M106 12h2M114 12h2M122 12h5M130 12h2M133 12h5M0 13h9M11 13h5M74 13h4M97 13h11M115 13h2M120 13h13M137 13h1M0 14h10M11 14h5M21 14h2M74 14h7M97 14h2M101 14h11M116 14h2M119 14h14M0 15h4M5 15h9M15 15h2M18 15h1M23 15h1M71 15h11M96 15h6M104 15h4M110 15h4M115 15h2M118 15h5M126 15h7M0 16h4M5 16h15M73 16h10M96 16h3M103 16h9M113 16h1M116 16h17M2 17h20M23 17h6M74 17h11M96 17h1M98 17h1M103 17h9M119 17h15M0 18h17M18 18h9M74 18h11M86 18h1M90 18h20M118 18h1M120 18h1M122 18h11M0 19h10M12 19h4M24 19h4M73 19h37M111 19h4M116 19h3M120 19h14M1 20h15M25 20h5M72 20h14M87 20h16M105 20h26M0 21h3M4 21h9M25 21h2M28 21h3M32 21h1M71 21h17M91 21h10M107 21h6M114 21h16M1 22h3M5 22h8M28 22h2M31 22h4M72 22h1M74 22h9M86 22h15M106 22h6M114 22h9M124 22h6M0 23h15M30 23h6M69 23h6M77 23h5M86 23h5M94 23h6M106 23h17M126 23h4M0 24h1M2 24h14M33 24h8M68 24h5M77 24h1M81 24h1M93 24h5M103 24h1M107 24h9M117 24h1M123 24h7M2 25h16M22 25h2M26 25h3M37 25h5M71 25h3M79 25h4M85 25h1M90 25h1M93 25h7M105 25h13M125 25h3M1 26h15M28 26h1M37 26h5M67 26h9M85 26h3M93 26h8M105 26h6M112 26h3M121 26h2M125 26h1M0 27h10M11 27h6M27 27h1M29 27h1M38 27h10M67 27h2M70 27h2M78 27h10M92 27h1M94 27h8M104 27h10M115 27h1M122 27h5M0 28h17M18 28h1M36 28h1M39 28h3M44 28h4M63 28h3M67 28h5M78 28h38M125 28h3M1 29h15M17 29h3M40 29h1M46 29h3M61 29h11M76 29h14M94 29h3M98 29h16M116 29h1M124 29h5M0 30h16M18 30h6M29 30h1M36 30h1M46 30h5M57 30h17M75 30h2M78 30h17M96 30h3M101 30h13M115 30h1M125 30h4M0 31h4M7 31h11M20 31h3M37 31h1M50 31h3M58 31h1M62 31h9M72 31h8M81 31h2M85 31h7M95 31h4M101 31h3M107 31h2M111 31h4M125 31h4M0 32h15M24 32h4M45 32h8M60 32h8M69 32h7M77 32h7M86 32h1M89 32h8M98 32h1M104 32h5M110 32h3M114 32h1M125 32h3M2 33h14M17 33h2M26 33h4M36 33h1M45 33h10M56 33h12M69 33h5M75 33h13M89 33h1M91 33h2M95 33h5M106 33h9M123 33h4M0 34h20M27 34h6M50 34h24M77 34h2M81 34h11M95 34h3M107 34h7M121 34h3M0 35h17M26 35h7M45 35h1M53 35h23M77 35h1M82 35h4M88 35h1M92 35h6M107 35h8M121 35h2M0 36h18M19 36h3M24 36h3M28 36h5M39 36h1M54 36h24M79 36h22M105 36h9M0 37h6M11 37h6M21 37h2M27 37h7M38 37h1M40 37h4M55 37h13M69 37h22M94 37h7M102 37h1M104 37h7M113 37h1M115 37h5M0 38h4M32 38h13M49 38h8M59 38h1M61 38h3M67 38h3M73 38h19M95 38h3M105 38h16M1 39h1M33 39h5M39 39h2M47 39h1M51 39h16M68 39h16M85 39h13M103 39h19M0 40h1M16 40h1M18 40h1M34 40h5M52 40h36M90 40h3M94 40h1M96 40h1M98 40h24M0 41h2M5 41h1M21 41h2M38 41h2M41 41h5M52 41h23M76 41h30M108 41h14M0 42h1M45 42h3M53 42h3M62 42h44M108 42h2M111 42h11M29 43h2M44 43h2M53 43h1M57 43h3M67 43h17M85 43h33M119 43h2M52 44h2M66 44h52M2 45h1M48 45h4M70 45h1M72 45h22M95 45h1M97 45h7M105 45h10M116 45h2M0 46h1M51 46h1M68 46h5M74 46h42M117 46h1M51 47h3M57 47h3M65 47h5M71 47h3M75 47h40M53 48h30M84 48h4M91 48h24M54 49h1M57 49h4M62 49h20M85 49h12M99 49h4M104 49h6M111 49h4M60 50h23M86 50h10M98 50h16M19 51h1M62 51h10M73 51h38M113 51h3M39 52h1M50 52h1M57 52h1M61 52h3M65 52h14M80 52h7M92 52h2M96 52h19M28 53h4M40 53h2M44 53h4M57 53h3M63 53h17M84 53h3M92 53h22M29 54h7M40 54h11M63 54h6M71 54h3M76 54h3M83 54h4M88 54h2M92 54h21M20 55h2M26 55h11M38 55h2M43 55h8M61 55h15M83 55h1M91 55h22M18 56h1M21 56h2M24 56h15M43 56h4M48 56h3M61 56h21M84 56h1M91 56h5M98 56h2M101 56h5M107 56h5M20 57h13M34 57h7M46 57h5M66 57h3M70 57h14M91 57h2M99 57h14M23 58h11M35 58h8M44 58h1M47 58h1M51 58h1M56 58h1M64 58h21M89 58h1M92 58h1M95 58h1M98 58h6M108 58h4M23 59h17M41 59h7M56 59h4M65 59h8M77 59h7M94 59h10M110 59h1M112 59h1M24 60h9M36 60h1M40 60h8M59 60h2M73 60h16M96 60h11M30 61h1M41 61h2M50 61h2M59 61h2M72 61h5M82 61h7M92 61h1M102 61h4M33 62h1M72 62h5M81 62h7M90 62h2M54 63h4M81 63h1M83 63h13M45 64h3M81 64h19M112 64h1M49 65h3M63 65h1M82 65h13M98 65h5M112 65h1M82 66h8M91 66h4M98 66h5M58 67h2M73 67h1M81 67h8M92 67h3M101 67h1M104 67h2M56 68h4M81 68h5M87 68h3M92 68h3M103 68h3M110 68h1M120 68h1M54 69h2M57 69h1M59 69h2M72 69h1M82 69h2M86 69h13M103 69h5M121 69h2M33 70h1M37 70h1M39 70h1M53 70h4M58 70h4M84 70h8M107 70h3M32 71h3M53 71h10M83 71h1M85 71h7M111 71h1M122 71h1M124 71h2M54 72h7M85 72h2M88 72h3M113 72h1M120 72h2M42 73h2M54 73h4M85 73h5M41 74h1M53 74h1M55 74h1M85 74h5M39 75h4M52 75h4M85 75h7M42 76h1M52 76h4M84 76h8M53 77h3M66 77h1M84 77h3M88 77h4M53 78h1M82 78h8M52 79h2M81 79h10M54 80h1M81 80h10M82 81h7M84 82h3M88 82h3M86 83h1M89 83h5M87 84h6M85 85h3M90 85h2M90 86h3M89 87h2M89 88h1M88 89h2"/>
<path stroke="#ffdd00" d="M0 0h9M10 0h9M95 0h2M101 0h3M132 0h2M0 1h15M16 1h1M95 1h1M98 1h1M101 1h1M121 1h2M139 1h1M0 2h15M16 2h2M72 2h1M95 2h2M145 2h2M0 3h7M12 3h2M15 3h2M76 3h1M0 4h7M100 4h2M103 4h2M131 4h2M0 5h5M95 5h2M99 5h3M133 5h1M95 6h3M99 6h1M116 6h1M0 7h1M94 7h6M101 7h1M1 8h1M91 8h1M93 8h1M95 8h6M134 8h2M139 8h4M96 9h4M118 9h3M122 9h2M136 9h1M139 9h2M89 10h1M96 10h1M99 10h4M116 10h3M84 11h3M88 11h1M115 11h7M6 12h3M83 12h3M87 12h1M96 12h1M98 12h1M105 12h1M116 12h6M9 13h2M78 13h19M117 13h3M10 14h1M81 14h16M99 14h2M118 14h1M4 15h1M82 15h11M95 15h1M108 15h2M117 15h1M4 16h1M83 16h7M91 16h1M94 16h2M99 16h4M0 17h2M85 17h3M91 17h5M97 17h1M99 17h4M85 18h1M87 18h3M3 21h1M27 21h1M88 21h3M4 22h1M83 22h3M75 23h2M82 23h4M91 23h3M73 24h4M78 24h3M82 24h11M74 25h5M83 25h2M86 25h4M91 25h2M76 26h9M88 26h5M111 26h1M10 27h1M69 27h1M72 27h6M88 27h4M93 27h1M72 28h6M72 29h4M90 29h4M74 30h1M95 30h1M71 31h1M80 31h1M83 31h2M92 31h3M109 31h2M76 32h1M84 32h2M87 32h2M109 32h1M113 32h1M74 33h1M88 33h1M90 33h1M93 33h2M74 34h3M79 34h2M92 34h3M76 35h1M78 35h4M86 35h2M89 35h3M78 36h1M130 36h1M91 37h3M92 38h3M106 41h2M56 42h6M106 42h2M54 43h3M60 43h7M54 44h12M52 45h18M71 45h1M94 45h1M96 45h1M115 45h1M52 46h16M54 47h3M60 47h5M88 48h3M97 49h2M96 50h2M72 51h1M111 51h2M64 52h1M79 52h1M94 52h2M80 53h4M89 53h1M74 54h2M79 54h1M81 54h2M40 55h3M76 55h7M84 55h3M39 56h4M82 56h2M85 56h6M33 57h1M41 57h5M84 57h7M93 57h2M34 58h1M43 58h1M45 58h2M85 58h4M90 58h2M93 58h2M104 58h4M84 59h10M104 59h6M89 60h7M107 60h5M89 61h3M93 61h9M106 61h4M111 61h2M92 62h11M104 62h3M109 62h3M82 63h1M96 63h5M106 63h7M100 64h5M107 64h5M103 65h1M105 65h7M103 66h4M109 66h4M102 67h2M106 67h8M101 68h2M106 68h4M111 68h4M56 69h1M58 69h1M108 69h9M119 69h2M123 69h1M57 70h1M110 70h5M119 70h7M112 71h2M120 71h2M114 72h3M87 77h1M87 82h1M87 83h2"/>
<path stroke="#ffaa00" d="M93 15h2M90 16h1M92 16h2M88 17h3M115 47h2M116 48h1M87 52h3M87 53h2M90 53h2M80 54h1M87 54h1M90 54h2M88 55h3M19 56h2M96 56h2M97 57h1M97 58h1M110 61h1M103 62h1M107 62h2M101 63h5M105 64h2M107 66h2M117 69h1M115 70h4M114 71h3M126 71h1M88 85h2M88 86h2"/>
<path stroke="#ff5500" d="M90 52h2M87 55h1M95 57h2M98 57h1M96 58h1M95 65h3M95 66h3M95 67h4M95 68h4"/>
<path stroke="#ee0000" d="M18 55h2M104 65h1M113 65h2M113 66h6M99 67h2M114 67h5M99 68h1M115 68h3M123 72h1M88 87h1M88 88h1"/>
<path stroke="#880000" d="M100 68h1M118 68h1M118 69h1M122 72h1"/>
</g></g>
</g>
<rect x="1969.40" y="41.50" width="450.40" height="335.40" fill="none" stroke="#000" stroke-width="0.75"/>
<text x="2194.60" y="39.10" font-size="12.3" text-anchor="middle" font-weight="normal" >2018.04</text>
<g shape-rendering="crispEdges">
<clipPath id="c5"><rect x="0" y="0" width="449.40" height="334.40"/></clipPath>
<g transform="translate(596.20,395.00)" clip-path="url(#c5)"><g transform="scale(3,3) translate(0,0.5)" stroke-width="1" fill="none">
<path stroke="#44ff00" d="M0 0h151M0 1h151M0 2h151M0 3h151M0 4h151M0 5h151M0 6h151M0 7h151M0 8h151M0 9h151M0 10h151M0 11h151M0 12h151M0 13h148M0 14h146M0 15h151M0 16h148M0 17h151M0 18h151M0 19h147M0 20h141M0 21h138M143 21h8M0 22h139M142 22h6M0 23h151M0 24h151M0 25h151M0 26h151M0 27h151M0 28h149M0 29h146M0 30h144M0 31h142M0 32h140M0 33h138M0 34h136M0 35h134M0 36h132M0 37h131M0 38h129M0 39h127M0 40h126M0 41h124M0 42h123M0 43h9M16 43h105M0 44h6M18 44h102M0 45h3M19 45h100M0 46h2M19 46h99M19 47h98M20 48h97M20 49h97M19 50h97M19 51h97M18 52h98M17 53h98M16 54h98M17 55h97M17 56h97M18 57h95M18 58h95M18 59h95M18 60h95M19 61h94M19 62h94M20 63h93M20 64h95M21 65h96M21 66h98M22 67h99M22 68h100M23 69h101M24 70h103M24 71h103M25 72h102M26 73h96M26 74h92M27 75h88M34 76h80M26 77h1M42 77h71M25 78h2M45 78h67M24 79h2M49 79h62M24 80h2M53 80h56M54 81h1M69 81h10M80 81h28M75 82h1M81 82h25M82 83h23M83 84h20M85 85h16M86 86h9M87 87h4M88 88h2M88 89h2"/>
<path stroke="#00ffcc" d="M149 21h1M148 28h1M145 29h1M17 53h1M114 53h1M112 58h1M123 72h1M26 74h1M85 85h1M98 85h1M88 88h1"/>
<path stroke="#00ff44" d="M40 0h1M80 0h3M92 0h1M39 1h1M51 1h1M118 1h1M80 2h2M86 2h1M29 3h1M81 3h1M83 3h2M64 4h1M66 4h3M70 4h1M82 4h1M69 5h1M54 6h1M58 6h3M63 6h5M82 6h1M58 7h1M60 7h1M63 7h6M59 8h1M56 9h1M63 9h1M149 9h2M34 10h1M46 10h6M58 10h5M141 10h4M148 10h2M46 11h2M51 11h1M53 11h1M57 11h1M59 11h3M67 11h1M139 11h1M41 12h1M51 12h2M65 12h5M149 12h1M51 13h3M66 13h1M137 13h2M59 14h1M62 14h1M135 14h3M36 15h1M39 15h2M45 15h1M60 15h2M138 15h6M37 16h12M60 16h3M22 17h3M39 17h1M42 17h2M45 17h3M58 17h8M67 17h1M133 17h6M147 17h4M27 18h1M55 18h1M63 18h1M65 18h1M132 18h10M149 18h2M30 19h2M34 19h4M46 19h3M50 19h2M62 19h1M67 19h3M136 19h3M35 20h3M43 20h1M46 20h5M74 20h1M134 20h3M41 21h2M44 21h1M49 21h1M87 21h2M143 21h1M150 21h1M44 22h3M60 22h1M62 22h1M132 22h5M138 22h1M142 22h1M144 22h1M41 23h3M53 23h1M55 23h2M63 23h1M132 23h5M147 23h1M51 24h4M57 24h4M130 24h1M137 24h1M43 25h3M51 25h1M53 25h1M59 25h1M113 25h1M127 25h1M131 25h1M144 25h1M43 26h5M50 26h4M55 26h1M108 26h1M131 26h2M134 26h2M137 26h3M143 26h2M146 26h1M148 26h2M50 27h7M134 27h3M142 27h5M39 28h2M51 28h1M78 28h1M88 28h2M139 28h1M143 28h3M51 29h3M56 29h2M132 29h4M137 29h4M69 30h1M78 30h1M126 30h3M134 30h4M139 30h2M8 31h1M125 31h1M139 31h3M104 33h2M131 33h1M90 34h3M103 34h3M25 35h1M130 37h1M35 38h4M115 39h2M116 40h1M115 41h2M122 41h2M11 42h1M122 42h1M16 43h1M102 43h2M120 43h1M18 44h1M39 44h3M102 44h1M119 44h1M28 45h2M32 45h1M39 45h2M113 45h1M0 46h1M117 46h1M116 49h1M33 52h1M50 56h1M55 57h3M18 59h1M112 63h1M24 65h1M33 65h1M38 65h2M25 66h2M38 66h2M118 66h1M25 67h3M120 67h1M22 68h1M122 69h1M24 71h1M72 71h1M117 71h3M126 71h1M117 72h3M43 73h1M44 74h2M103 75h1M45 76h3M43 77h1M81 81h4M82 82h1M84 84h1M102 84h1M96 85h1M93 86h1"/>
<path stroke="#ccff00" d="M2 0h4M7 0h3M11 0h4M20 0h4M27 0h10M77 0h1M99 0h2M102 0h1M110 0h1M1 1h3M8 1h3M19 1h3M25 1h11M58 1h2M74 1h1M76 1h2M79 1h1M95 1h1M98 1h4M0 2h1M6 2h1M9 2h7M17 2h1M22 2h5M34 2h3M41 2h1M43 2h1M57 2h1M59 2h1M73 2h3M94 2h8M127 2h3M137 2h2M8 3h5M15 3h11M44 3h2M72 3h5M92 3h5M98 3h5M114 3h2M117 3h6M124 3h1M126 3h4M137 3h1M139 3h1M6 4h1M8 4h13M22 4h4M33 4h1M35 4h1M51 4h4M73 4h4M86 4h2M94 4h9M114 4h3M123 4h4M136 4h1M5 5h13M19 5h4M28 5h1M51 5h1M73 5h3M96 5h2M102 5h1M109 5h10M126 5h1M4 6h8M13 6h10M72 6h4M88 6h1M98 6h4M107 6h11M125 6h1M134 6h6M2 7h5M10 7h2M19 7h4M31 7h1M73 7h4M97 7h4M105 7h1M107 7h12M121 7h5M132 7h8M0 8h10M75 8h5M96 8h2M99 8h2M103 8h9M113 8h14M131 8h2M134 8h6M0 9h7M73 9h7M94 9h1M96 9h2M99 9h3M103 9h5M110 9h1M112 9h2M115 9h10M127 9h1M131 9h2M137 9h4M2 10h4M72 10h9M86 10h1M96 10h5M102 10h5M111 10h2M115 10h6M126 10h12M3 11h2M6 11h2M75 11h7M95 11h13M111 11h24M0 12h8M9 12h3M24 12h2M75 12h8M96 12h12M111 12h6M119 12h16M0 13h4M5 13h9M35 13h1M76 13h3M97 13h10M108 13h1M110 13h2M114 13h16M131 13h4M0 14h7M8 14h5M24 14h2M76 14h2M79 14h2M94 14h7M103 14h4M109 14h2M114 14h7M122 14h1M126 14h6M1 15h13M76 15h2M79 15h5M89 15h1M91 15h1M93 15h7M104 15h4M111 15h2M114 15h6M121 15h1M124 15h9M4 16h6M11 16h6M77 16h5M93 16h7M103 16h7M111 16h15M127 16h1M129 16h1M131 16h2M0 17h2M4 17h17M77 17h5M93 17h16M111 17h8M121 17h10M0 18h10M12 18h11M76 18h7M94 18h5M102 18h11M114 18h4M120 18h1M122 18h8M0 19h2M3 19h7M11 19h12M77 19h5M95 19h4M101 19h2M104 19h10M115 19h1M117 19h1M119 19h7M130 19h3M1 20h15M17 20h1M19 20h3M78 20h4M96 20h2M100 20h14M115 20h1M118 20h8M0 21h21M78 21h2M81 21h2M96 21h4M102 21h8M111 21h1M114 21h1M122 21h3M0 22h27M29 22h1M80 22h4M97 22h3M104 22h5M115 22h3M120 22h4M0 23h16M20 23h5M29 23h1M71 23h2M79 23h4M86 23h3M96 23h3M106 23h7M119 23h6M0 24h2M3 24h13M20 24h6M28 24h1M79 24h5M85 24h5M96 24h14M111 24h1M113 24h1M119 24h3M125 24h1M0 25h17M22 25h9M39 25h3M79 25h5M95 25h2M99 25h3M117 25h1M120 25h1M0 26h1M4 26h32M78 26h7M95 26h8M117 26h5M0 27h6M7 27h11M19 27h4M24 27h5M31 27h1M33 27h4M80 27h6M95 27h6M112 27h2M118 27h5M0 28h2M3 28h4M8 28h1M10 28h12M26 28h9M80 28h6M96 28h2M99 28h1M117 28h1M0 29h6M14 29h10M25 29h10M81 29h5M95 29h5M113 29h5M0 30h3M18 30h13M33 30h2M36 30h2M41 30h1M82 30h5M95 30h6M108 30h1M113 30h4M1 31h3M15 31h26M61 31h1M80 31h2M83 31h4M96 31h5M112 31h5M0 32h5M18 32h5M24 32h19M44 32h1M51 32h3M57 32h4M62 32h1M64 32h2M78 32h9M96 32h4M111 32h6M119 32h1M121 32h1M123 32h1M133 32h2M136 32h1M0 33h5M18 33h3M26 33h27M60 33h1M63 33h1M65 33h4M79 33h8M95 33h7M112 33h4M10 34h1M17 34h4M28 34h23M53 34h4M58 34h15M78 34h10M95 34h6M110 34h2M113 34h3M128 34h1M0 35h5M18 35h3M30 35h22M53 35h1M55 35h13M69 35h10M80 35h1M83 35h2M86 35h2M94 35h2M98 35h2M109 35h2M112 35h3M121 35h1M0 36h4M19 36h2M31 36h13M46 36h6M54 36h3M58 36h21M80 36h2M85 36h1M96 36h5M112 36h2M0 37h5M6 37h1M8 37h6M17 37h5M32 37h3M39 37h11M51 37h32M93 37h7M107 37h8M0 38h23M41 38h32M74 38h9M91 38h5M105 38h2M108 38h2M113 38h2M122 38h2M0 39h15M17 39h4M28 39h1M42 39h4M48 39h35M93 39h8M105 39h4M113 39h1M119 39h4M0 40h7M9 40h12M45 40h1M49 40h35M93 40h7M106 40h8M0 41h14M16 41h3M31 41h1M47 41h8M56 41h2M59 41h17M77 41h5M94 41h7M103 41h1M106 41h5M0 42h2M3 42h8M12 42h1M14 42h1M16 42h6M48 42h8M58 42h10M70 42h13M92 42h1M94 42h7M105 42h6M2 43h3M17 43h1M19 43h3M24 43h1M53 43h7M61 43h19M88 43h1M94 43h7M105 43h3M0 44h4M19 44h4M44 44h1M53 44h13M67 44h2M71 44h10M88 44h4M93 44h2M96 44h5M105 44h3M110 44h1M0 45h3M20 45h3M45 45h5M55 45h30M93 45h2M98 45h3M104 45h5M19 46h2M60 46h25M89 46h1M94 46h3M99 46h1M103 46h7M20 47h2M59 47h9M69 47h17M88 47h1M90 47h1M92 47h17M21 48h1M42 48h3M64 48h23M90 48h3M95 48h15M22 49h1M40 49h5M57 49h1M64 49h3M71 49h14M86 49h4M92 49h16M19 50h8M61 50h1M63 50h1M70 50h2M74 50h15M92 50h8M101 50h6M108 50h6M20 51h7M57 51h1M62 51h2M74 51h40M19 52h3M23 52h3M69 52h4M75 52h4M80 52h7M92 52h22M22 53h1M25 53h1M29 53h3M39 53h1M76 53h5M84 53h1M86 53h1M92 53h17M110 53h4M19 54h4M25 54h2M38 54h1M40 54h2M76 54h3M88 54h2M92 54h8M102 54h11M17 55h1M25 55h3M29 55h1M40 55h2M48 55h1M50 55h1M78 55h4M91 55h3M95 55h4M100 55h11M113 55h1M17 56h2M25 56h9M41 56h4M46 56h1M76 56h6M88 56h8M98 56h8M112 56h2M18 57h1M25 57h12M40 57h6M77 57h4M90 57h5M99 57h1M101 57h4M111 57h2M19 58h2M25 58h2M28 58h21M70 58h1M72 58h12M87 58h3M94 58h2M98 58h2M101 58h3M111 58h1M19 59h22M46 59h4M52 59h5M70 59h8M79 59h1M81 59h6M95 59h10M20 60h4M25 60h11M42 60h1M44 60h4M50 60h8M65 60h3M72 60h8M81 60h5M90 60h2M23 61h8M32 61h8M53 61h14M73 61h21M23 62h3M27 62h3M35 62h3M44 62h4M50 62h1M60 62h35M37 63h1M39 63h2M44 63h7M56 63h3M60 63h2M64 63h16M85 63h11M111 63h1M36 64h1M50 64h27M79 64h3M85 64h11M102 64h1M104 64h1M114 64h1M35 65h1M50 65h6M58 65h10M69 65h3M75 65h1M85 65h10M98 65h5M47 66h4M53 66h6M60 66h4M66 66h9M82 66h6M89 66h1M92 66h3M98 66h5M37 67h1M47 67h2M53 67h4M59 67h4M81 67h8M90 67h5M101 67h3M33 68h1M47 68h2M53 68h1M59 68h5M65 68h1M75 68h2M82 68h2M85 68h1M88 68h1M91 68h4M101 68h2M121 68h1M50 69h3M59 69h5M83 69h21M121 69h1M39 70h2M60 70h1M82 70h6M92 70h2M96 70h8M106 70h1M125 70h1M25 71h4M33 71h1M45 71h12M81 71h15M97 71h12M121 71h1M125 71h1M49 72h4M63 72h2M81 72h15M99 72h10M124 72h2M75 73h1M77 73h1M79 73h11M91 73h7M101 73h9M115 73h3M119 73h1M121 73h1M54 74h5M76 74h13M91 74h9M107 74h1M111 74h4M38 75h3M55 75h6M64 75h1M69 75h2M73 75h21M95 75h5M110 75h3M41 76h1M49 76h3M55 76h1M58 76h4M65 76h1M72 76h9M83 76h1M90 76h2M93 76h7M101 76h2M110 76h3M51 77h1M60 77h1M62 77h17M84 77h18M110 77h3M52 78h5M59 78h16M85 78h15M107 78h4M50 79h1M53 79h1M55 79h1M61 79h5M67 79h9M86 79h9M96 79h1M98 79h2M106 79h3M63 80h9M86 80h2M89 80h10M86 81h2M89 81h11M85 82h9M97 82h4M86 83h6M93 83h7M102 83h3M86 84h2M92 84h8M87 85h1M90 85h6M97 85h1M99 85h1M87 86h1M90 86h1M92 86h1M88 89h2"/>
<path stroke="#ffdd00" d="M6 0h1M10 0h1M15 0h5M24 0h3M4 1h4M11 1h8M22 1h3M1 2h5M7 2h2M16 2h1M18 2h4M0 3h8M13 3h2M97 3h1M0 4h6M7 4h1M21 4h1M117 4h6M0 5h5M98 5h4M119 5h7M0 6h4M118 6h7M0 7h2M119 7h2M98 8h1M133 8h1M98 9h1M125 9h2M133 9h4M0 10h2M121 10h5M0 11h3M4 13h1M130 13h1M78 14h1M0 15h1M78 15h1M0 16h4M10 16h1M126 16h1M128 16h1M130 16h1M2 17h2M10 18h2M10 19h1M16 20h1M18 20h1M80 21h1M16 23h4M2 24h1M16 24h4M17 25h5M97 25h2M1 26h3M2 28h1M22 28h4M24 29h1M31 30h2M35 30h1M82 31h1M112 34h1M96 35h2M111 35h1M57 36h1M129 36h2M50 37h1M73 38h1M107 38h1M110 38h3M46 39h2M109 39h4M7 40h2M46 40h3M76 41h1M2 42h1M0 43h2M18 43h1M66 44h1M95 44h1M95 45h3M97 46h2M20 48h1M21 49h1M22 52h1M79 52h1M23 53h2M81 53h3M85 53h1M89 53h1M109 53h1M23 54h2M79 54h8M20 55h5M82 55h5M94 55h1M21 56h4M82 56h6M106 56h6M19 57h6M81 57h4M86 57h4M105 57h6M21 58h4M27 58h1M84 58h3M90 58h4M104 58h7M41 59h5M87 59h8M105 59h8M24 60h1M36 60h6M43 60h1M48 60h2M80 60h1M86 60h4M92 60h20M40 61h13M94 61h7M102 61h11M48 62h2M51 62h9M95 62h12M108 62h5M51 63h5M59 63h1M96 63h15M96 64h6M103 64h1M105 64h9M68 65h1M103 65h1M105 65h8M88 66h1M90 66h2M103 66h4M109 66h4M89 67h1M104 67h10M89 68h2M103 68h12M120 68h1M104 69h14M119 69h2M88 70h4M104 70h2M107 70h7M119 70h5M109 71h5M115 71h1M120 71h1M122 71h3M109 72h6M116 72h1M120 72h2M90 73h1M110 73h5M89 74h2M84 76h6M88 80h1M88 81h1M92 83h1M88 84h4M91 86h1M89 87h2M89 88h1"/>
<path stroke="#ffaa00" d="M116 46h1M115 47h2M116 48h1M87 52h3M87 53h2M90 53h2M87 54h1M90 54h2M88 55h3M19 56h2M96 56h2M85 57h1M95 57h4M96 58h2M101 61h1M107 62h1M107 66h2M96 67h2M95 68h4M123 69h1M114 70h5M114 71h1M116 71h1M115 72h1M88 85h2M88 86h2"/>
<path stroke="#ff5500" d="M90 52h2M87 55h1M95 65h3M95 66h3M95 67h1M98 67h1"/>
<path stroke="#ee0000" d="M18 55h2M104 65h1M113 65h3M113 66h5M99 67h2M114 67h6M99 68h2M115 68h3M119 68h1M88 87h1"/>
<path stroke="#880000" d="M118 68h1M118 69h1M122 72h1"/>
</g></g>
</g>
<rect x="595.70" y="394.50" width="450.40" height="335.40" fill="none" stroke="#000" stroke-width="0.75"/>
<text x="820.90" y="392.10" font-size="12.3" text-anchor="middle" font-weight="normal" >2018.05</text>
<g shape-rendering="crispEdges">
<clipPath id="c6"><rect x="0" y="0" width="449.40" height="334.40"/></clipPath>
<g transform="translate(1054.10,395.00)" clip-path="url(#c6)"><g transform="scale(3,3) translate(0,0.5)" stroke-width="1" fill="none">
<path stroke="#44ff00" d="M0 0h151M0 1h151M0 2h151M0 3h151M0 4h151M0 5h151M0 6h151M0 7h151M0 8h151M0 9h151M0 10h145M148 10h3M0 11h151M0 12h151M0 13h141M149 13h2M0 14h139M0 15h141M0 16h139M140 16h11M0 17h151M0 18h151M0 19h151M0 20h151M0 21h144M145 21h6M0 22h147M0 23h135M139 23h12M0 24h137M144 24h7M0 25h134M140 25h11M0 26h151M0 27h151M0 28h149M0 29h146M0 30h144M0 31h142M0 32h140M0 33h138M0 34h136M0 35h134M0 36h132M0 37h131M0 38h129M0 39h127M0 40h126M0 41h124M0 42h123M0 43h9M16 43h105M0 44h6M18 44h102M0 45h3M19 45h100M0 46h2M19 46h99M19 47h98M20 48h97M20 49h97M19 50h97M19 51h97M18 52h98M17 53h98M16 54h98M17 55h97M17 56h97M18 57h95M18 58h95M18 59h95M18 60h95M19 61h94M19 62h94M20 63h93M20 64h95M21 65h96M21 66h98M22 67h99M22 68h100M23 69h101M24 70h103M24 71h103M25 72h102M26 73h96M26 74h92M27 75h1M31 75h84M27 76h2M34 76h80M26 77h2M42 77h71M25 78h2M45 78h67M24 79h2M49 79h62M24 80h2M53 80h56M54 81h1M69 81h10M80 81h28M75 82h1M81 82h25M82 83h23M83 84h20M85 85h16M86 86h9M87 87h4M88 88h2M88 89h2"/>
<path stroke="#0099ff" d="M143 16h1M149 21h1"/>
<path stroke="#00ffcc" d="M144 12h1M150 13h1M140 23h1M149 23h1M135 26h1M122 42h1M8 43h1M19 45h1M114 53h1M17 54h1M123 69h1M120 73h1M35 76h2M24 79h1M95 85h1"/>
<path stroke="#00ff44" d="M51 0h1M85 0h6M121 0h1M130 0h1M145 0h2M50 1h2M86 1h2M49 2h2M80 2h2M102 2h1M44 4h1M64 4h1M66 4h1M76 4h2M39 5h1M29 6h2M52 6h1M56 6h7M75 6h3M136 6h3M28 7h2M37 7h1M42 7h4M51 7h2M56 7h3M60 7h3M85 7h1M28 8h1M30 8h1M32 8h5M38 8h1M40 8h8M61 8h1M86 8h1M32 9h4M40 9h12M61 9h2M145 9h3M11 10h1M30 10h3M35 10h2M43 10h1M57 10h1M60 10h1M148 10h1M150 10h1M36 11h3M45 11h1M51 11h1M62 11h1M38 12h7M48 12h2M53 12h1M62 12h2M77 12h1M142 12h2M145 12h1M38 13h3M43 13h4M48 13h1M52 13h6M65 13h1M83 13h1M149 13h1M5 14h1M32 14h1M35 14h1M37 14h3M44 14h2M54 14h8M67 14h1M85 14h2M44 15h3M62 15h1M34 16h2M38 16h7M62 16h1M86 16h1M142 16h1M148 16h1M42 17h7M77 17h1M86 17h1M138 17h1M140 17h1M142 17h1M146 17h1M149 17h2M0 18h1M39 18h1M42 18h2M56 18h4M61 18h2M68 18h1M147 18h1M150 18h1M19 19h1M37 19h2M61 19h2M70 19h1M135 19h2M149 19h1M9 20h1M11 20h1M38 20h3M43 20h4M59 20h1M61 20h1M134 20h3M140 20h3M146 20h3M58 21h1M60 21h1M133 21h3M137 21h1M140 21h3M146 21h3M150 21h1M53 22h2M60 22h1M104 22h1M132 22h2M140 22h7M45 23h3M52 23h1M131 23h2M141 23h1M144 23h4M150 23h1M31 25h2M110 25h1M141 25h2M48 26h1M77 26h1M112 26h1M138 26h1M142 26h4M43 27h1M48 27h1M73 27h1M77 27h1M139 27h2M143 27h3M149 27h1M49 28h4M127 28h6M137 28h5M143 28h5M51 29h1M133 29h1M137 29h4M143 29h3M78 31h2M140 31h2M76 32h5M82 32h2M133 32h2M139 32h1M53 33h3M77 33h3M134 33h4M106 34h1M134 34h1M82 35h1M105 36h2M25 38h1M23 39h5M69 39h1M18 44h1M26 45h2M111 47h1M116 48h1M19 50h1M39 50h2M53 50h1M115 50h1M37 51h5M55 51h1M51 53h1M55 53h1M16 54h1M61 56h2M60 57h1M62 57h1M59 58h2M59 59h2M75 60h1M19 62h1M20 63h1M72 63h1M75 63h1M71 64h2M78 64h2M68 65h1M71 65h1M117 66h1M126 70h1M117 71h3M126 71h1M117 72h3M123 72h1M27 74h1M30 74h1M66 74h1M34 76h1M60 80h2M69 81h3M76 81h1M99 85h1"/>
<path stroke="#ccff00" d="M0 0h3M5 0h1M28 0h9M56 0h1M64 0h1M68 0h2M95 0h6M135 0h3M1 1h3M18 1h3M25 1h5M32 1h5M95 1h6M4 2h1M18 2h9M28 2h9M39 2h1M41 2h2M60 2h1M65 2h2M68 2h1M94 2h6M122 2h2M127 2h5M133 2h5M3 3h3M16 3h8M27 3h3M93 3h10M104 3h2M112 3h4M119 3h2M125 3h15M3 4h1M17 4h5M25 4h1M27 4h3M31 4h1M93 4h7M104 4h4M110 4h1M112 4h1M118 4h3M126 4h3M133 4h5M6 5h8M17 5h3M82 5h1M94 5h7M105 5h3M111 5h1M114 5h3M118 5h12M133 5h4M5 6h1M7 6h13M95 6h4M105 6h4M113 6h3M118 6h13M0 7h11M12 7h6M81 7h2M95 7h7M107 7h3M111 7h5M117 7h6M124 7h3M130 7h2M144 7h6M2 8h12M80 8h2M95 8h6M102 8h1M108 8h18M129 8h2M142 8h2M0 9h8M23 9h2M79 9h3M93 9h1M95 9h7M106 9h6M114 9h1M120 9h1M123 9h5M130 9h4M139 9h4M0 10h4M22 10h1M78 10h5M95 10h2M99 10h3M103 10h1M105 10h2M115 10h1M119 10h3M125 10h3M129 10h5M139 10h4M0 11h4M23 11h2M26 11h1M78 11h6M95 11h6M108 11h3M116 11h7M125 11h9M137 11h6M19 12h1M81 12h1M95 12h6M108 12h12M123 12h9M137 12h4M16 13h2M23 13h4M80 13h2M94 13h5M104 13h10M116 13h2M126 13h1M130 13h9M79 14h3M94 14h3M98 14h5M106 14h5M114 14h1M117 14h2M125 14h3M130 14h2M133 14h6M2 15h1M15 15h1M50 15h1M79 15h4M94 15h8M104 15h1M111 15h1M117 15h3M128 15h7M0 16h6M15 16h3M21 16h1M50 16h2M56 16h1M68 16h3M80 16h3M96 16h5M116 16h1M118 16h3M127 16h2M131 16h4M4 17h3M50 17h2M96 17h5M110 17h4M116 17h6M123 17h11M51 18h2M73 18h1M94 18h7M107 18h17M127 18h1M129 18h4M4 19h2M11 19h1M24 19h1M81 19h1M83 19h1M92 19h9M117 19h3M121 19h1M126 19h7M65 20h2M81 20h1M83 20h3M87 20h1M93 20h9M111 20h16M128 20h5M0 21h8M14 21h1M20 21h1M28 21h1M47 21h2M63 21h3M83 21h2M89 21h1M91 21h1M96 21h6M115 21h8M124 21h6M0 22h9M13 22h6M27 22h2M32 22h3M42 22h1M62 22h5M83 22h2M94 22h7M112 22h1M116 22h4M122 22h7M0 23h3M5 23h4M10 23h3M14 23h5M24 23h3M61 23h2M64 23h3M77 23h3M83 23h4M94 23h1M96 23h5M115 23h14M0 24h4M5 24h1M7 24h12M62 24h8M83 24h4M96 24h8M116 24h4M121 24h6M0 25h24M26 25h2M63 25h7M82 25h5M93 25h7M116 25h7M0 26h9M10 26h2M14 26h14M64 26h2M67 26h5M82 26h4M96 26h4M116 26h7M0 27h18M19 27h12M64 27h7M83 27h5M93 27h9M114 27h5M120 27h2M0 28h15M17 28h3M23 28h1M26 28h1M28 28h3M64 28h4M69 28h3M84 28h3M93 28h9M112 28h9M1 29h2M4 29h1M6 29h8M17 29h7M25 29h1M27 29h2M30 29h2M33 29h1M66 29h3M70 29h4M77 29h1M84 29h1M93 29h5M112 29h2M115 29h8M2 30h33M41 30h1M67 30h8M85 30h3M92 30h1M94 30h5M110 30h1M113 30h2M116 30h1M118 30h5M1 31h17M19 31h1M21 31h5M28 31h7M36 31h3M47 31h2M68 31h7M85 31h2M95 31h3M102 31h1M114 31h2M117 31h5M0 32h12M16 32h9M27 32h15M68 32h7M95 32h4M105 32h1M113 32h6M122 32h4M3 33h21M26 33h19M59 33h1M70 33h6M85 33h1M93 33h1M97 33h3M110 33h1M112 33h6M1 34h1M4 34h1M6 34h5M12 34h7M21 34h18M40 34h9M62 34h1M64 34h3M72 34h5M93 34h8M108 34h1M110 34h3M114 34h10M3 35h2M6 35h5M12 35h6M20 35h32M53 35h2M60 35h1M72 35h7M85 35h1M92 35h2M97 35h2M108 35h9M120 35h4M126 35h1M0 36h6M9 36h13M25 36h1M27 36h16M44 36h6M52 36h5M65 36h2M74 36h7M82 36h1M85 36h2M92 36h8M109 36h8M118 36h1M1 37h3M11 37h6M19 37h3M28 37h1M33 37h9M44 37h13M64 37h2M74 37h7M85 37h3M92 37h5M98 37h1M107 37h6M114 37h1M120 37h1M1 38h1M5 38h2M14 38h8M32 38h7M40 38h3M45 38h13M60 38h1M63 38h2M73 38h1M76 38h7M86 38h2M93 38h4M106 38h2M110 38h4M0 39h3M6 39h1M14 39h5M33 39h33M77 39h7M87 39h3M94 39h4M106 39h7M3 40h5M13 40h9M43 40h8M54 40h13M77 40h7M87 40h2M93 40h7M105 40h9M120 40h1M122 40h2M1 41h4M6 41h2M9 41h1M12 41h11M46 41h20M74 41h1M76 41h8M87 41h2M91 41h5M100 41h2M105 41h4M2 42h14M17 42h8M48 42h17M66 42h6M74 42h10M86 42h16M103 42h9M120 42h1M0 43h6M16 43h1M18 43h5M47 43h13M63 43h21M85 43h14M103 43h10M0 44h6M19 44h3M49 44h1M54 44h7M63 44h10M78 44h6M86 44h6M95 44h2M98 44h1M100 44h9M0 45h3M56 45h9M66 45h9M76 45h1M78 45h4M83 45h12M96 45h2M102 45h8M0 46h2M50 46h2M53 46h1M59 46h1M62 46h14M78 46h15M96 46h2M102 46h7M22 47h1M54 47h2M63 47h25M90 47h4M95 47h4M102 47h4M107 47h1M22 48h1M67 48h24M94 48h3M98 48h1M101 48h5M28 49h1M67 49h24M93 49h5M101 49h4M27 50h1M29 50h3M68 50h21M90 50h9M101 50h7M111 50h2M31 51h1M46 51h3M66 51h1M70 51h30M101 51h3M109 51h5M46 52h6M71 52h7M80 52h4M92 52h9M104 52h1M107 52h1M109 52h6M39 53h1M60 53h2M72 53h1M76 53h4M89 53h1M92 53h1M94 53h20M31 54h1M60 54h1M72 54h1M78 54h3M92 54h18M20 55h6M27 55h13M42 55h8M67 55h1M78 55h2M91 55h4M100 55h13M22 56h31M78 56h3M92 56h4M98 56h1M100 56h1M104 56h10M18 57h31M50 57h4M78 57h3M84 57h1M94 57h1M99 57h10M18 58h18M38 58h6M45 58h12M79 58h9M98 58h4M103 58h1M108 58h5M18 59h1M21 59h22M46 59h1M51 59h2M57 59h1M82 59h6M102 59h4M107 59h4M20 60h9M30 60h2M33 60h10M57 60h1M81 60h6M98 60h1M101 60h4M111 60h2M24 61h3M30 61h8M39 61h5M57 61h2M79 61h1M81 61h8M101 61h5M112 61h1M23 62h2M27 62h2M30 62h2M33 62h11M58 62h3M81 62h14M98 62h2M102 62h1M106 62h1M29 63h2M35 63h9M60 63h2M81 63h4M89 63h1M91 63h2M97 63h1M21 64h5M35 64h1M38 64h4M59 64h4M81 64h5M92 64h1M114 64h1M21 65h2M24 65h2M39 65h3M58 65h6M83 65h3M91 65h4M98 65h3M21 66h6M28 66h1M39 66h2M58 66h2M61 66h5M68 66h2M79 66h1M85 66h8M94 66h1M98 66h4M23 67h2M26 67h2M38 67h1M40 67h1M42 67h3M56 67h15M86 67h3M90 67h5M101 67h4M113 67h1M22 68h4M27 68h1M37 68h8M47 68h1M57 68h10M68 68h5M80 68h1M82 68h1M86 68h5M92 68h3M101 68h4M121 68h1M24 69h2M33 69h1M36 69h5M42 69h7M55 69h4M62 69h1M71 69h3M81 69h3M85 69h5M92 69h2M98 69h11M119 69h1M24 70h2M36 70h12M49 70h2M55 70h3M64 70h3M69 70h1M71 70h2M74 70h6M81 70h1M85 70h6M92 70h3M97 70h7M108 70h3M125 70h1M26 71h1M31 71h2M42 71h1M45 71h13M63 71h1M65 71h2M69 71h12M84 71h6M91 71h4M101 71h6M108 71h1M123 71h3M30 72h3M40 72h4M45 72h1M48 72h10M70 72h12M83 72h6M92 72h2M103 72h9M116 72h1M124 72h3M30 73h3M36 73h4M41 73h2M44 73h1M46 73h9M56 73h3M71 73h5M77 73h10M92 73h1M99 73h8M108 73h5M114 73h3M28 74h2M31 74h19M52 74h6M71 74h11M84 74h4M92 74h4M100 74h2M110 74h4M27 75h1M31 75h27M69 75h6M78 75h4M85 75h2M93 75h2M103 75h2M111 75h4M37 76h11M50 76h3M55 76h5M68 76h6M75 76h8M86 76h3M90 76h5M111 76h3M43 77h6M50 77h7M58 77h2M72 77h10M86 77h2M90 77h5M107 77h1M110 77h3M46 78h1M48 78h4M53 78h1M55 78h6M62 78h1M64 78h1M73 78h13M92 78h2M98 78h1M103 78h6M50 79h8M75 79h12M89 79h5M98 79h2M106 79h3M53 80h2M58 80h2M62 80h1M64 80h2M68 80h1M75 80h23M102 80h1M107 80h1M54 81h1M78 81h1M80 81h11M92 81h4M104 81h4M81 82h8M90 82h5M100 82h5M82 83h6M89 83h7M97 83h8M84 84h1M86 84h14M86 85h2M91 85h4M96 85h3M87 86h1M90 86h3M87 87h1M89 87h2M88 89h1"/>
<path stroke="#ffdd00" d="M3 0h2M6 0h22M0 1h1M4 1h9M15 1h3M21 1h4M30 1h2M0 2h4M5 2h4M10 2h8M27 2h1M0 3h3M6 3h2M9 3h7M0 4h3M4 4h13M0 5h6M14 5h3M0 6h5M6 6h1M0 8h2M97 10h2M3 23h2M63 23h1M4 24h1M6 24h1M120 24h1M9 26h1M12 26h2M66 26h1M18 27h1M119 27h1M15 28h2M20 28h3M24 28h2M27 28h1M68 28h1M3 29h1M5 29h1M14 29h3M24 29h1M26 29h1M29 29h1M69 29h1M114 29h1M115 30h1M117 30h1M18 31h1M20 31h1M26 31h2M116 31h1M12 32h4M25 32h2M0 33h3M24 33h2M94 33h3M0 34h1M2 34h2M5 34h1M11 34h1M19 34h2M39 34h1M113 34h1M0 35h3M11 35h1M18 35h2M94 35h3M6 36h3M43 36h1M50 36h2M129 36h2M4 37h7M17 37h2M42 37h2M0 38h1M2 38h3M7 38h7M39 38h1M43 38h2M108 38h2M3 39h3M7 39h3M11 39h3M0 40h3M8 40h5M51 40h3M0 41h1M5 41h1M8 41h1M10 41h2M75 41h1M96 41h4M0 42h2M60 43h3M61 44h2M97 44h1M65 45h1M82 45h1M97 48h1M89 50h1M78 52h2M84 52h3M80 53h7M81 54h6M88 54h2M80 55h7M95 55h5M81 56h11M99 56h1M101 56h3M81 57h3M85 57h9M36 58h2M44 58h1M88 58h8M102 58h1M104 58h4M43 59h3M47 59h4M53 59h4M88 59h14M106 59h1M111 59h2M29 60h1M43 60h6M54 60h3M87 60h11M99 60h2M105 60h6M27 61h3M38 61h1M44 61h4M53 61h4M89 61h12M106 61h4M111 61h1M44 62h2M53 62h5M95 62h3M100 62h2M103 62h3M107 62h6M44 63h2M47 63h6M54 63h6M85 63h4M90 63h1M93 63h4M98 63h5M104 63h8M42 64h17M86 64h6M93 64h13M107 64h7M23 65h1M42 65h16M86 65h5M101 65h3M105 65h8M41 66h10M52 66h6M102 66h5M111 66h2M45 67h11M89 67h1M105 67h1M107 67h6M45 68h2M48 68h9M91 68h1M105 68h10M120 68h1M49 69h6M90 69h2M109 69h9M120 69h3M51 70h4M91 70h1M111 70h4M116 70h1M118 70h7M90 71h1M109 71h5M115 71h2M120 71h3M89 72h3M112 72h4M120 72h2M40 73h1M55 73h1M76 73h1M87 73h5M113 73h1M50 74h2M88 74h4M87 75h6M53 76h2M89 76h1M57 77h1M88 77h2M86 78h6M87 79h2M89 82h1M88 83h1M90 85h1M89 88h1"/>
<path stroke="#ffaa00" d="M13 1h2M9 2h1M8 3h1M10 39h1M116 46h1M115 47h2M87 52h3M87 53h2M90 53h2M87 54h1M90 54h2M87 55h4M19 56h2M96 56h1M95 57h4M49 60h5M48 61h5M110 61h1M46 62h7M46 63h1M53 63h1M103 63h1M106 64h1M51 66h1M107 66h4M106 67h1M95 68h3M115 70h1M117 70h1M114 71h1M88 85h2M88 86h2"/>
<path stroke="#ff5500" d="M90 52h2M97 56h1M96 58h2M95 65h3M95 66h3M95 67h4M98 68h1"/>
<path stroke="#ee0000" d="M18 55h2M104 65h1M113 65h3M113 66h4M118 66h1M99 67h2M114 67h3M99 68h2M115 68h3M119 68h1M118 69h1M88 87h1M88 88h1"/>
<path stroke="#880000" d="M117 67h2M118 68h1M122 72h1"/>
</g></g>
</g>
<rect x="1053.60" y="394.50" width="450.40" height="335.40" fill="none" stroke="#000" stroke-width="0.75"/>
<text x="1278.80" y="392.10" font-size="12.3" text-anchor="middle" font-weight="normal" >2018.06</text>
<g shape-rendering="crispEdges">
<clipPath id="c7"><rect x="0" y="0" width="449.40" height="334.40"/></clipPath>
<g transform="translate(1512.00,395.00)" clip-path="url(#c7)"><g transform="scale(3,3) translate(0,0.5)" stroke-width="1" fill="none">
<path stroke="#44ff00" d="M0 0h151M0 1h151M0 2h151M0 3h151M0 4h151M0 5h151M0 6h151M0 7h151M0 8h151M0 9h151M0 10h151M0 11h151M0 12h151M0 13h151M0 14h151M0 15h151M0 16h151M0 17h151M0 18h151M0 19h151M0 20h151M0 21h151M0 22h151M0 23h151M0 24h151M0 25h151M0 26h151M0 27h151M0 28h149M0 29h146M0 30h144M0 31h142M0 32h140M0 33h138M0 34h136M0 35h134M0 36h132M0 37h131M0 38h129M0 39h127M0 40h126M0 41h124M0 42h123M0 43h9M16 43h105M0 44h6M18 44h102M0 45h3M19 45h100M0 46h2M19 46h99M19 47h98M20 48h97M20 49h97M19 50h97M19 51h97M18 52h98M17 53h98M16 54h98M17 55h97M17 56h97M18 57h95M18 58h95M18 59h95M18 60h95M19 61h94M19 62h94M20 63h93M20 64h95M21 65h96M21 66h98M22 67h99M22 68h100M23 69h101M24 70h103M24 71h103M25 72h102M26 73h96M26 74h92M27 75h88M27 76h3M34 76h80M26 77h2M29 77h1M42 77h71M25 78h2M29 78h1M45 78h67M24 79h2M29 79h1M49 79h62M24 80h2M29 80h1M53 80h56M29 81h2M54 81h1M69 81h10M80 81h28M75 82h1M81 82h25M82 83h23M83 84h20M85 85h16M86 86h9M87 87h4M88 88h2M88 89h2"/>
<path stroke="#00ffcc" d="M140 31h1M134 34h1M19 50h1M114 53h1M17 54h1M17 55h1M114 64h1M23 69h1M119 73h1M45 78h1M29 81h1M88 88h1"/>
<path stroke="#00ff44" d="M59 2h1M49 3h1M55 3h1M122 4h1M46 5h1M88 5h1M120 5h1M52 6h1M137 6h2M127 7h1M146 7h1M149 7h2M59 8h1M106 8h1M116 8h2M126 8h2M114 9h1M38 10h1M130 10h1M149 10h1M19 11h3M104 11h1M113 11h2M146 11h1M19 12h1M35 12h1M40 12h1M132 12h1M26 13h1M87 14h3M103 15h2M44 17h1M124 17h3M128 17h2M51 18h3M56 18h2M135 18h1M147 18h2M36 19h4M36 20h1M38 20h5M44 20h1M46 20h4M74 20h1M134 20h2M36 21h2M54 21h3M135 21h2M44 22h1M81 22h2M87 22h1M103 22h1M105 22h1M135 22h1M137 22h1M50 23h2M55 23h3M80 23h2M115 23h2M124 23h2M44 24h1M115 24h4M146 24h2M50 25h1M52 25h1M79 25h2M114 25h1M45 26h3M49 26h1M74 26h3M79 26h2M87 26h1M91 26h1M123 26h1M44 27h1M46 27h3M72 27h1M74 27h2M102 27h1M122 27h1M61 28h1M85 28h1M104 28h1M122 28h3M50 29h1M85 29h2M113 29h1M124 29h1M126 29h1M84 30h1M104 30h1M106 30h1M123 30h1M106 31h3M141 31h1M101 32h1M107 32h1M107 33h1M117 36h1M115 37h2M110 39h1M113 39h1M104 42h4M7 43h1M108 45h1M118 45h1M1 46h1M19 46h1M30 46h1M82 47h1M20 48h1M38 48h1M18 52h1M115 52h1M52 55h1M66 55h5M53 56h1M69 56h1M112 59h1M54 60h1M56 60h1M38 62h1M68 62h2M76 62h4M33 64h1M66 64h1M81 65h2M116 65h1M31 66h1M35 66h1M77 66h1M81 66h1M46 67h1M72 67h1M75 67h2M81 69h2M33 70h1M35 70h1M39 70h1M41 70h1M117 71h3M117 72h3M125 72h1M74 73h1M45 74h1M58 74h1M82 74h2M77 75h2M80 75h1M39 76h1M76 76h3M76 77h2M75 78h2M24 80h1M58 80h1M108 80h1M83 84h1M86 86h1"/>
<path stroke="#ccff00" d="M2 0h2M6 0h3M20 0h5M26 0h8M39 0h5M61 0h1M65 0h26M92 0h9M107 0h4M112 0h1M116 0h8M128 0h7M138 0h11M150 0h1M0 1h5M19 1h6M28 1h4M61 1h25M87 1h16M104 1h13M118 1h4M123 1h23M150 1h1M0 2h1M4 2h2M17 2h4M22 2h6M29 2h2M61 2h14M79 2h1M81 2h3M88 2h27M117 2h13M132 2h1M134 2h1M143 2h4M149 2h2M11 3h10M23 3h5M61 3h11M73 3h1M82 3h2M92 3h21M114 3h3M118 3h4M137 3h1M147 3h1M10 4h10M27 4h1M29 4h1M64 4h3M94 4h13M116 4h3M144 4h1M146 4h2M149 4h2M9 5h7M64 5h2M95 5h10M146 5h2M150 5h1M7 6h9M37 6h3M63 6h4M80 6h1M95 6h4M100 6h4M0 7h1M3 7h4M10 7h1M12 7h4M17 7h4M37 7h2M63 7h4M89 7h1M95 7h6M102 7h1M0 8h4M5 8h2M22 8h3M62 8h6M94 8h1M97 8h3M0 9h7M25 9h1M64 9h4M76 9h4M0 10h6M63 10h6M77 10h3M96 10h3M1 11h6M47 11h1M49 11h3M64 11h5M94 11h1M97 11h4M1 12h6M23 12h2M51 12h1M65 12h3M96 12h5M124 12h2M0 13h9M65 13h3M72 13h5M94 13h6M124 13h1M0 14h8M18 14h1M21 14h3M29 14h1M31 14h2M45 14h1M47 14h1M63 14h5M73 14h1M79 14h1M93 14h4M107 14h1M147 14h4M0 15h8M15 15h2M52 15h5M64 15h3M90 15h3M94 15h3M140 15h5M150 15h1M0 16h12M22 16h1M50 16h2M53 16h2M64 16h4M71 16h4M91 16h2M94 16h6M143 16h1M2 17h4M7 17h7M21 17h3M65 17h2M74 17h1M93 17h1M95 17h5M138 17h1M148 17h1M0 18h1M3 18h11M15 18h1M17 18h9M65 18h2M97 18h3M0 19h4M5 19h11M17 19h2M21 19h2M24 19h3M64 19h1M66 19h4M86 19h2M91 19h2M99 19h5M131 19h1M0 20h20M27 20h1M31 20h1M65 20h6M96 20h1M0 21h22M30 21h1M68 21h4M90 21h12M150 21h1M0 22h11M13 22h9M69 22h2M94 22h2M97 22h5M110 22h2M114 22h2M141 22h1M149 22h2M0 23h25M60 23h1M66 23h4M93 23h6M100 23h1M110 23h2M2 24h16M19 24h10M31 24h4M65 24h5M95 24h2M98 24h2M111 24h2M3 25h22M26 25h9M36 25h2M58 25h1M66 25h5M85 25h1M96 25h2M99 25h2M145 25h4M0 26h5M6 26h3M12 26h1M14 26h24M65 26h6M97 26h3M135 26h2M143 26h8M0 27h22M25 27h13M40 27h1M63 27h8M94 27h5M100 27h1M134 27h3M140 27h10M0 28h10M11 28h1M17 28h14M32 28h9M66 28h6M93 28h6M100 28h1M128 28h1M134 28h2M141 28h1M143 28h1M145 28h2M148 28h1M2 29h1M17 29h21M39 29h8M56 29h1M65 29h4M71 29h2M94 29h6M130 29h16M0 30h3M15 30h32M52 30h1M59 30h15M75 30h1M77 30h1M91 30h9M132 30h12M0 31h3M15 31h33M50 31h4M55 31h2M62 31h7M71 31h5M78 31h2M88 31h10M133 31h7M0 32h4M15 32h15M31 32h9M41 32h10M52 32h4M61 32h20M83 32h7M91 32h7M132 32h7M1 33h2M8 33h1M14 33h32M50 33h6M58 33h11M71 33h1M73 33h18M92 33h6M122 33h16M0 34h4M9 34h1M17 34h4M22 34h15M38 34h8M47 34h47M97 34h1M127 34h2M131 34h3M135 34h1M0 35h3M4 35h1M8 35h3M12 35h16M29 35h2M32 35h3M37 35h12M50 35h50M119 35h3M123 35h6M132 35h1M0 36h6M7 36h18M27 36h20M48 36h36M85 36h15M103 36h4M122 36h3M128 36h1M0 37h4M5 37h9M15 37h49M66 37h8M75 37h7M85 37h4M93 37h8M120 37h1M122 37h5M0 38h3M5 38h3M15 38h4M21 38h4M26 38h18M45 38h10M57 38h2M60 38h21M92 38h9M120 38h4M18 39h9M28 39h6M35 39h4M41 39h33M75 39h5M93 39h3M101 39h1M118 39h1M120 39h3M17 40h23M42 40h8M51 40h5M57 40h5M63 40h1M65 40h4M70 40h6M79 40h2M92 40h8M116 40h7M16 41h21M38 41h6M45 41h17M63 41h1M66 41h4M71 41h9M91 41h4M97 41h4M115 41h6M1 42h1M14 42h2M18 42h27M46 42h19M66 42h5M72 42h9M93 42h7M110 42h2M113 42h9M16 43h1M18 43h10M33 43h1M39 43h4M46 43h35M91 43h9M112 43h7M18 44h1M20 44h4M25 44h2M38 44h2M47 44h37M95 44h6M112 44h5M24 45h3M34 45h1M50 45h1M54 45h10M66 45h4M75 45h7M95 45h7M112 45h5M20 46h2M23 46h3M43 46h2M52 46h2M56 46h19M76 46h7M91 46h1M95 46h7M110 46h6M19 47h1M24 47h3M52 47h2M55 47h6M63 47h16M92 47h3M96 47h5M110 47h4M25 48h1M52 48h2M55 48h18M74 48h7M93 48h7M108 48h3M113 48h1M20 49h2M24 49h3M51 49h3M57 49h3M61 49h2M65 49h2M68 49h3M72 49h17M92 49h12M106 49h6M20 50h4M38 50h3M42 50h1M46 50h3M50 50h35M86 50h2M92 50h21M20 51h1M24 51h3M31 51h3M35 51h14M50 51h2M53 51h17M71 51h41M19 52h1M25 52h27M57 52h4M67 52h15M83 52h4M92 52h18M111 52h2M18 53h1M24 53h23M50 53h1M52 53h1M71 53h11M86 53h1M92 53h8M101 53h11M16 54h1M18 54h1M23 54h10M34 54h12M51 54h3M73 54h4M79 54h2M88 54h2M92 54h6M100 54h12M25 55h3M30 55h3M37 55h9M75 55h1M79 55h2M91 55h21M17 56h2M25 56h25M59 56h1M79 56h6M90 56h4M98 56h1M100 56h4M106 56h6M18 57h2M24 57h25M80 57h6M89 57h4M99 57h5M106 57h6M18 58h3M25 58h16M43 58h6M59 58h1M84 58h3M90 58h1M95 58h1M98 58h11M18 59h3M24 59h10M35 59h7M45 59h4M71 59h1M82 59h6M96 59h3M100 59h8M19 60h3M24 60h15M40 60h2M46 60h4M69 60h1M81 60h3M85 60h1M20 61h1M25 61h3M31 61h6M40 61h5M46 61h1M48 61h5M54 61h1M75 61h1M81 61h6M88 61h1M21 62h2M24 62h4M32 62h1M43 62h10M82 62h9M92 62h3M112 62h1M20 63h2M23 63h6M42 63h7M51 63h1M53 63h2M58 63h1M82 63h16M111 63h1M20 64h2M24 64h4M42 64h4M47 64h1M54 64h7M77 64h1M84 64h4M91 64h9M21 65h1M23 65h4M44 65h13M60 65h1M63 65h2M85 65h10M98 65h6M21 66h3M25 66h3M50 66h3M54 66h8M63 66h5M85 66h10M98 66h5M23 67h6M42 67h1M49 67h4M54 67h1M56 67h7M64 67h5M82 67h2M85 67h4M92 67h3M101 67h4M23 68h5M41 68h1M49 68h13M65 68h5M86 68h3M92 68h3M101 68h5M24 69h2M28 69h1M49 69h1M52 69h1M55 69h5M68 69h1M74 69h1M86 69h14M101 69h5M107 69h1M24 70h5M53 70h1M56 70h1M58 70h1M78 70h1M80 70h1M87 70h3M94 70h15M25 71h3M42 71h1M51 71h3M64 71h2M86 71h23M121 71h3M26 72h1M31 72h1M52 72h2M77 72h2M80 72h1M83 72h12M96 72h11M120 72h2M124 72h1M26 73h4M34 73h1M39 73h1M51 73h4M78 73h1M80 73h1M83 73h5M89 73h22M26 74h3M30 74h9M53 74h1M86 74h2M89 74h29M27 75h13M85 75h30M27 76h1M29 76h1M34 76h1M36 76h3M40 76h12M85 76h6M92 76h7M100 76h14M26 77h2M29 77h1M42 77h1M44 77h2M48 77h2M51 77h1M87 77h8M96 77h6M103 77h10M25 78h2M46 78h18M85 78h14M100 78h7M111 78h1M24 79h1M29 79h1M49 79h5M55 79h11M69 79h1M75 79h1M77 79h15M94 79h14M109 79h2M25 80h1M29 80h1M54 80h3M59 80h2M62 80h9M73 80h1M80 80h13M94 80h14M30 81h1M54 81h1M69 81h6M76 81h1M80 81h26M107 81h1M81 82h17M99 82h7M82 83h1M85 83h7M93 83h8M102 83h3M84 84h3M88 84h1M90 84h1M93 84h8M102 84h1M85 85h3M90 85h11M87 86h1M90 86h5M89 87h2M89 88h1M88 89h2"/>
<path stroke="#ffdd00" d="M4 0h2M9 0h3M16 0h4M25 0h1M62 0h3M111 0h1M113 0h3M124 0h4M5 1h14M25 1h3M117 1h1M1 2h3M6 2h11M115 2h2M0 3h11M117 3h1M0 4h10M0 5h9M0 6h7M99 6h1M1 7h2M4 8h1M6 17h1M16 19h1M65 19h1M11 22h2M96 22h1M18 24h1M97 24h1M9 26h3M13 26h1M22 27h3M31 28h1M142 28h1M144 28h1M0 29h2M38 29h1M30 32h1M40 32h1M0 33h1M46 33h4M72 33h1M21 34h1M37 34h1M46 34h1M129 34h2M35 35h2M49 35h1M129 35h3M6 36h1M25 36h2M47 36h1M125 36h3M129 36h2M4 37h1M14 37h1M64 37h2M74 37h1M127 37h2M130 37h1M3 38h2M8 38h7M44 38h1M59 38h1M124 38h5M0 39h18M27 39h1M39 39h2M123 39h4M0 40h17M40 40h2M56 40h1M62 40h1M64 40h1M123 40h1M125 40h1M0 41h16M62 41h1M64 41h2M95 41h2M121 41h3M0 42h1M2 42h11M16 42h2M65 42h1M122 42h1M0 43h7M8 43h1M17 43h1M119 43h2M0 44h6M19 44h1M24 44h1M117 44h2M0 45h3M19 45h5M51 45h3M70 45h5M117 45h1M22 46h1M75 46h1M117 46h1M20 47h4M61 47h2M114 47h1M21 48h4M54 48h1M111 48h2M114 48h2M22 49h2M54 49h3M63 49h2M71 49h1M112 49h5M113 50h3M19 51h1M21 51h3M70 51h1M112 51h4M20 52h5M82 52h1M113 52h2M19 53h5M82 53h4M89 53h1M112 53h2M19 54h4M81 54h6M98 54h2M112 54h2M20 55h5M81 55h6M112 55h2M21 56h4M85 56h5M94 56h2M104 56h2M112 56h2M20 57h4M86 57h3M93 57h2M104 57h2M112 57h1M21 58h4M41 58h1M87 58h3M91 58h4M109 58h4M21 59h3M34 59h1M42 59h3M88 59h8M99 59h1M108 59h3M22 60h2M42 60h4M84 60h1M86 60h13M100 60h13M19 61h1M21 61h4M45 61h1M47 61h1M87 61h1M89 61h17M107 61h6M19 62h2M23 62h1M91 62h1M95 62h17M49 63h2M52 63h1M98 63h7M107 63h4M46 64h1M48 64h6M100 64h14M105 65h8M53 66h1M103 66h3M109 66h2M112 66h1M53 67h1M55 67h1M89 67h3M105 67h2M109 67h5M120 67h1M89 68h3M106 68h9M120 68h2M100 69h1M106 69h1M108 69h10M119 69h4M90 70h4M109 70h10M121 70h3M125 70h2M110 71h1M112 71h2M115 71h2M120 71h1M124 71h2M107 72h10M126 72h1M111 73h8M120 73h2M28 76h1M99 76h1M99 78h1M98 82h1M101 83h1"/>
<path stroke="#ffaa00" d="M12 0h4M116 46h1M115 47h2M116 48h1M87 52h3M87 53h2M90 53h2M87 54h1M90 54h2M88 55h3M19 56h2M97 56h1M97 57h2M42 58h1M111 59h1M99 60h1M106 61h1M105 63h2M95 65h3M95 66h3M106 66h3M111 66h1M107 67h2M119 70h2M109 71h1M111 71h1M114 71h1M126 71h1M88 85h2M88 86h2"/>
<path stroke="#ff5500" d="M90 52h2M87 55h1M96 56h1M95 57h2M96 58h2M95 67h4M95 68h4"/>
<path stroke="#ee0000" d="M18 55h2M104 65h1M113 65h3M113 66h6M99 67h2M114 67h6M99 68h2M115 68h3M119 68h1M123 72h1M88 87h1"/>
<path stroke="#880000" d="M118 68h1M118 69h1M122 72h1"/>
</g></g>
</g>
<rect x="1511.50" y="394.50" width="450.40" height="335.40" fill="none" stroke="#000" stroke-width="0.75"/>
<text x="1736.70" y="392.10" font-size="12.3" text-anchor="middle" font-weight="normal" >2018.07</text>
<g shape-rendering="crispEdges">
<clipPath id="c8"><rect x="0" y="0" width="449.40" height="334.40"/></clipPath>
<g transform="translate(1969.90,395.00)" clip-path="url(#c8)"><g transform="scale(3,3) translate(0,0.5)" stroke-width="1" fill="none">
<path stroke="#44ff00" d="M0 0h151M0 1h151M0 2h151M0 3h151M0 4h151M0 5h151M0 6h151M0 7h151M0 8h139M140 8h11M0 9h151M0 10h137M142 10h9M0 11h138M142 11h9M0 12h151M0 13h151M0 14h151M0 15h151M0 16h151M0 17h151M0 18h151M0 19h151M0 20h151M0 21h151M0 22h151M0 23h151M0 24h151M0 25h151M0 26h151M0 27h151M0 28h149M0 29h146M0 30h144M0 31h142M0 32h140M0 33h138M0 34h136M0 35h134M0 36h132M0 37h131M0 38h129M0 39h127M0 40h126M0 41h124M0 42h123M0 43h9M16 43h105M0 44h6M18 44h102M0 45h3M19 45h100M0 46h2M19 46h99M19 47h98M20 48h97M20 49h97M19 50h97M19 51h97M18 52h98M17 53h98M16 54h98M17 55h97M17 56h97M18 57h95M18 58h95M18 59h95M18 60h95M19 61h94M19 62h94M20 63h93M20 64h95M21 65h96M21 66h98M22 67h99M22 68h100M23 69h101M24 70h103M24 71h103M25 72h102M26 73h96M26 74h92M27 75h88M27 76h2M34 76h80M26 77h2M42 77h71M25 78h2M45 78h67M24 79h2M49 79h62M24 80h2M53 80h56M54 81h1M69 81h10M80 81h28M75 82h1M81 82h25M82 83h23M83 84h20M85 85h16M86 86h9M87 87h4M88 88h2M88 89h2"/>
<path stroke="#0099ff" d="M139 9h1"/>
<path stroke="#00ffcc" d="M141 9h1M140 12h1M149 27h1M141 31h1M126 39h1M5 44h1M19 62h1M20 63h1M116 65h1M124 70h1M126 72h1M120 73h1M26 74h1M34 76h1M26 77h1M58 80h1M63 80h1M108 80h1M82 83h1M83 84h1M89 89h1"/>
<path stroke="#00ff44" d="M38 0h1M47 0h4M55 0h1M58 0h4M64 0h1M66 0h1M54 1h1M64 1h2M81 1h1M137 1h1M52 2h1M63 3h1M146 3h1M58 4h1M144 4h4M29 5h2M32 5h2M42 5h4M56 5h3M60 5h1M72 5h1M83 5h1M146 5h1M32 6h1M34 6h1M36 6h1M44 6h4M50 6h3M64 6h1M79 6h1M90 6h1M110 6h1M141 6h1M143 6h6M150 6h1M33 7h4M41 7h1M43 7h2M48 7h4M62 7h1M66 7h2M91 7h1M117 7h1M119 7h4M140 7h1M33 8h2M44 8h1M47 8h1M49 8h1M61 8h3M105 8h1M119 8h5M141 8h1M34 9h1M55 9h1M61 9h1M64 9h1M113 9h2M120 9h1M140 9h1M33 10h2M40 10h1M54 10h4M61 10h4M66 10h1M113 10h2M122 10h3M33 11h2M67 11h1M114 11h1M120 11h3M34 12h2M38 12h1M41 12h1M88 12h1M121 12h3M135 12h1M32 13h3M36 13h1M65 13h1M67 13h1M112 13h1M137 13h1M143 13h4M150 13h1M29 14h1M31 14h1M37 14h2M41 14h4M53 14h1M59 14h1M63 14h2M81 14h1M150 14h1M32 15h1M35 15h1M37 15h9M60 15h6M34 16h5M40 16h2M44 16h3M61 16h1M63 16h4M144 16h2M33 17h1M39 17h3M58 17h1M60 17h4M65 17h1M138 17h1M21 18h1M25 18h2M44 18h1M137 18h1M39 19h1M55 19h4M136 19h3M142 19h1M56 20h3M64 20h2M130 20h1M134 20h1M137 20h7M148 20h3M47 21h1M65 21h4M71 21h1M88 21h3M130 21h1M136 21h2M141 21h3M148 21h2M46 22h9M68 22h1M70 22h3M86 22h5M147 22h4M50 23h2M54 23h1M137 23h2M149 23h1M137 24h3M142 24h1M131 25h1M135 25h1M137 25h6M75 26h1M84 26h3M136 26h1M139 26h4M39 27h1M140 27h4M39 28h1M41 28h1M142 28h5M131 29h2M137 29h1M141 29h1M145 29h1M130 30h3M123 34h1M125 34h1M112 35h1M99 36h1M112 37h2M116 37h2M105 38h1M86 40h1M27 41h1M89 41h1M24 42h1M111 42h2M18 44h1M39 45h1M19 46h1M42 46h1M20 49h1M46 49h1M26 51h3M54 51h2M50 52h2M62 52h1M48 54h3M19 61h1M27 63h3M20 64h1M26 64h2M29 64h1M32 64h2M55 64h1M114 64h1M22 65h1M26 65h2M38 65h1M26 66h4M31 66h1M47 66h2M83 66h1M45 67h1M47 67h1M57 68h5M54 69h1M122 69h1M31 71h2M35 71h1M81 71h1M117 71h3M117 72h3M123 72h1M42 73h1M60 73h1M35 74h1M42 74h2M64 74h2M76 74h1M77 75h1M38 76h1M44 76h1M78 76h1M113 76h1M44 77h1M77 78h2M60 79h1M68 79h3M76 79h1M109 79h1M59 80h1M77 80h1M80 81h1"/>
<path stroke="#ccff00" d="M2 0h5M8 0h6M22 0h8M31 0h3M76 0h3M92 0h8M127 0h2M132 0h1M134 0h1M2 1h7M18 1h4M26 1h2M94 1h5M121 1h3M132 1h1M146 1h1M0 2h1M2 2h7M18 2h13M65 2h1M74 2h2M77 2h1M93 2h6M102 2h1M121 2h3M140 2h1M150 2h1M0 3h3M8 3h1M12 3h4M18 3h10M51 3h1M78 3h1M80 3h1M93 3h1M97 3h4M119 3h4M149 3h2M8 4h2M13 4h11M47 4h1M91 4h4M96 4h5M117 4h4M2 5h18M78 5h1M92 5h8M115 5h2M119 5h2M0 6h10M13 6h2M25 6h1M86 6h1M93 6h7M121 6h1M123 6h1M134 6h3M0 7h8M93 7h8M135 7h3M1 8h8M96 8h1M99 8h2M133 8h5M0 9h4M5 9h5M27 9h1M85 9h1M95 9h5M131 9h5M81 10h1M95 10h4M131 10h6M1 11h2M12 11h1M78 11h1M94 11h4M129 11h5M15 12h1M77 12h1M95 12h5M118 12h1M126 12h3M130 12h3M0 13h2M95 13h6M125 13h8M75 14h5M91 14h1M95 14h6M124 14h4M129 14h5M1 15h1M77 15h3M95 15h5M123 15h4M0 16h3M25 16h2M31 16h1M76 16h4M93 16h8M116 16h1M122 16h5M0 17h10M12 17h1M15 17h1M31 17h1M77 17h2M94 17h7M102 17h3M107 17h7M119 17h8M1 18h17M77 18h1M94 18h4M99 18h2M102 18h2M106 18h1M108 18h1M111 18h4M118 18h9M0 19h12M14 19h7M78 19h2M86 19h1M96 19h5M102 19h1M105 19h9M116 19h10M0 20h1M3 20h7M16 20h2M21 20h2M49 20h1M78 20h2M94 20h21M117 20h9M0 21h22M77 21h1M94 21h7M106 21h13M120 21h3M0 22h6M9 22h5M15 22h8M25 22h2M28 22h1M37 22h3M77 22h1M82 22h1M93 22h8M104 22h20M0 23h22M24 23h4M36 23h2M92 23h4M97 23h4M105 23h14M124 23h4M131 23h1M0 24h13M14 24h6M21 24h7M55 24h1M63 24h5M94 24h4M102 24h17M128 24h1M0 25h22M23 25h7M63 25h8M94 25h5M104 25h15M120 25h1M0 26h3M4 26h1M6 26h30M41 26h2M62 26h11M91 26h2M94 26h5M101 26h2M104 26h3M108 26h11M0 27h1M6 27h5M12 27h9M24 27h12M47 27h1M50 27h1M59 27h1M64 27h9M90 27h25M116 27h1M125 27h2M2 28h25M29 28h6M47 28h1M67 28h4M92 28h7M100 28h1M102 28h5M108 28h5M118 28h1M0 29h4M5 29h2M11 29h1M18 29h9M29 29h8M48 29h1M59 29h1M69 29h7M82 29h2M88 29h1M94 29h1M96 29h1M100 29h1M108 29h7M120 29h1M1 30h2M19 30h23M52 30h2M59 30h4M69 30h8M78 30h1M80 30h5M87 30h1M93 30h8M109 30h2M0 31h3M9 31h1M18 31h4M23 31h21M47 31h1M64 31h1M75 31h5M91 31h10M108 31h4M23 32h1M27 32h23M61 32h4M75 32h1M78 32h2M92 32h9M107 32h5M2 33h2M21 33h17M40 33h12M59 33h4M72 33h8M92 33h8M108 33h1M129 33h2M0 34h6M21 34h29M53 34h2M57 34h8M66 34h1M68 34h2M73 34h8M93 34h7M127 34h7M0 35h6M20 35h24M46 35h4M52 35h10M64 35h4M70 35h1M72 35h10M94 35h5M107 35h2M118 35h1M128 35h6M0 36h5M8 36h8M18 36h8M27 36h9M39 36h22M62 36h8M71 36h8M80 36h2M94 36h5M128 36h1M131 36h1M0 37h8M13 37h6M20 37h1M23 37h11M35 37h3M40 37h7M48 37h17M66 37h15M89 37h2M92 37h6M123 37h7M0 38h7M17 38h4M27 38h15M44 38h1M47 38h2M50 38h4M55 38h7M63 38h11M75 38h9M90 38h1M94 38h4M122 38h7M0 39h1M2 39h1M15 39h4M20 39h3M24 39h1M29 39h2M32 39h16M49 39h1M54 39h15M70 39h12M91 39h2M94 39h5M120 39h1M122 39h3M19 40h2M32 40h9M42 40h5M48 40h1M53 40h30M92 40h10M118 40h2M122 40h4M7 41h4M17 41h4M32 41h16M49 41h20M71 41h12M93 41h5M118 41h2M121 41h3M9 42h2M18 42h3M37 42h14M52 42h27M81 42h2M92 42h10M106 42h1M117 42h4M16 43h7M41 43h4M47 43h2M50 43h34M88 43h1M91 43h6M98 43h4M117 43h3M0 44h2M19 44h4M43 44h3M47 44h9M57 44h18M77 44h8M87 44h1M92 44h9M117 44h3M0 45h3M20 45h3M46 45h3M52 45h3M59 45h7M67 45h6M76 45h5M82 45h1M84 45h2M89 45h2M93 45h11M117 45h2M0 46h2M20 46h3M46 46h9M60 46h20M84 46h5M93 46h9M104 46h2M113 46h1M117 46h1M20 47h4M50 47h4M61 47h17M84 47h4M89 47h2M93 47h3M98 47h5M108 47h1M114 47h1M22 48h2M39 48h1M49 48h4M62 48h15M86 48h26M113 48h3M21 49h2M49 49h4M64 49h3M68 49h7M76 49h2M87 49h16M105 49h1M108 49h4M113 49h3M19 50h1M21 50h1M39 50h2M50 50h1M64 50h16M86 50h30M19 51h4M65 51h11M87 51h23M111 51h5M18 52h6M65 52h12M92 52h24M18 53h2M25 53h1M29 53h2M64 53h13M85 53h2M89 53h1M92 53h15M108 53h7M18 54h8M29 54h4M36 54h6M64 54h8M73 54h3M84 54h2M88 54h2M92 54h22M20 55h3M26 55h6M33 55h15M52 55h3M65 55h1M69 55h3M73 55h3M91 55h3M95 55h6M106 55h3M110 55h4M17 56h2M25 56h1M27 56h29M65 56h2M69 56h9M90 56h6M98 56h13M112 56h1M18 57h1M25 57h8M34 57h1M36 57h1M38 57h6M46 57h9M66 57h4M73 57h7M81 57h4M94 57h1M99 57h1M101 57h3M112 57h1M18 58h2M26 58h6M33 58h1M38 58h33M74 58h8M83 58h2M93 58h3M98 58h8M19 59h4M26 59h22M52 59h19M73 59h5M79 59h7M99 59h10M24 60h3M32 60h1M36 60h1M38 60h6M45 60h1M48 60h5M54 60h14M71 60h16M101 60h7M20 61h3M48 61h32M81 61h7M92 61h1M95 61h1M101 61h5M108 61h1M111 61h1M42 62h1M50 62h5M56 62h2M61 62h3M66 62h13M86 62h6M103 62h1M40 63h2M56 63h7M64 63h10M76 63h5M86 63h9M22 64h2M48 64h3M58 64h4M63 64h6M74 64h1M77 64h3M85 64h1M87 64h10M113 64h1M85 65h10M98 65h3M62 66h1M85 66h10M98 66h7M22 67h3M68 67h1M85 67h8M94 67h1M101 67h9M48 68h1M83 68h9M94 68h1M101 68h6M121 68h1M68 69h1M84 69h8M94 69h12M121 69h1M29 70h1M43 70h5M70 70h2M85 70h21M122 70h2M126 70h1M39 71h1M49 71h5M72 71h1M86 71h5M92 71h13M106 71h6M125 71h1M28 72h1M48 72h5M57 72h2M83 72h1M85 72h7M93 72h1M95 72h19M125 72h1M49 73h4M55 73h1M69 73h5M83 73h2M86 73h10M99 73h12M112 73h8M121 73h1M50 74h1M86 74h14M101 74h16M52 75h2M62 75h1M66 75h1M85 75h8M95 75h16M36 76h1M47 76h1M49 76h3M84 76h14M100 76h1M102 76h6M48 77h2M84 77h7M99 77h1M102 77h5M47 78h4M87 78h4M104 78h6M25 79h1M49 79h1M86 79h3M95 79h3M103 79h6M84 80h2M87 80h3M95 80h13M85 81h9M95 81h8M105 81h3M83 82h1M85 82h2M88 82h15M84 83h3M88 83h1M91 83h9M101 83h2M86 84h17M90 85h4M97 85h1M90 86h4"/>
<path stroke="#ffdd00" d="M7 0h1M14 0h8M9 1h9M22 1h4M9 2h9M3 3h5M9 3h3M16 3h2M94 3h3M0 4h8M10 4h3M95 4h1M0 5h2M0 8h1M0 18h1M98 18h1M12 19h2M1 20h2M10 20h6M18 20h3M6 22h3M14 22h1M23 22h2M22 23h2M96 23h1M13 24h1M20 24h1M99 26h2M21 27h3M27 28h2M99 28h1M27 29h2M95 29h1M97 29h3M22 32h1M24 32h3M38 33h2M44 35h2M62 35h2M26 36h1M36 36h3M61 36h1M79 36h1M129 36h2M8 37h5M34 37h1M38 37h2M7 38h10M42 38h2M45 38h2M49 38h1M54 38h1M62 38h1M1 39h1M3 39h12M19 39h1M48 39h1M50 39h4M125 39h1M2 40h17M47 40h1M49 40h4M0 41h7M11 41h6M48 41h1M69 41h2M120 41h1M0 42h9M11 42h2M14 42h4M51 42h1M121 42h1M0 43h8M49 43h1M2 44h3M49 45h3M66 45h1M81 45h1M83 45h1M80 46h4M78 47h2M82 47h2M20 48h2M77 48h9M78 49h9M103 49h2M106 49h2M116 49h1M20 50h1M80 50h6M76 51h11M77 52h10M20 53h5M77 53h8M107 53h1M76 54h8M86 54h1M23 55h3M66 55h3M76 55h11M94 55h1M109 55h1M21 56h4M26 56h1M67 56h2M78 56h12M111 56h1M19 57h3M23 57h2M33 57h1M35 57h1M37 57h1M70 57h3M80 57h1M85 57h9M100 57h1M104 57h8M20 58h6M32 58h1M34 58h4M71 58h3M85 58h8M106 58h7M23 59h3M48 59h4M71 59h2M78 59h1M86 59h13M109 59h4M87 60h3M91 60h10M108 60h3M112 60h1M88 61h4M93 61h2M96 61h5M106 61h2M109 61h2M58 62h3M64 62h2M92 62h11M104 62h9M63 63h1M95 63h18M97 64h11M109 64h4M101 65h3M105 65h3M109 65h4M105 66h2M109 66h4M93 67h1M110 67h4M107 68h8M120 68h1M106 69h12M119 69h2M106 70h7M116 70h6M91 71h1M105 71h1M112 71h2M115 71h1M120 71h5M92 72h1M94 72h1M114 72h3M120 72h2M124 72h1M96 73h3M111 73h1M100 74h1M93 75h2M98 76h2M101 76h1M91 77h8M100 77h2M91 78h13M89 79h6M98 79h5M86 80h1M90 80h5M94 81h1M87 82h1M87 83h1M89 83h2"/>
<path stroke="#ffaa00" d="M0 40h2M116 46h1M80 47h2M115 47h2M116 48h1M87 52h3M87 53h2M90 53h2M87 54h1M90 54h2M88 55h3M19 56h2M22 57h1M95 57h1M97 57h1M96 58h1M90 60h1M111 60h1M108 64h1M97 65h1M108 65h1M95 66h3M107 66h2M96 67h3M98 68h1M123 69h1M113 70h3M114 71h1M116 71h1M126 71h1M88 85h2M88 86h2"/>
<path stroke="#ff5500" d="M90 52h2M87 55h1M96 56h2M96 57h1M98 57h1M97 58h1M95 65h2M95 67h1M95 68h3"/>
<path stroke="#ee0000" d="M18 55h2M104 65h1M113 65h2M113 66h4M118 66h1M99 67h2M114 67h6M99 68h2M115 68h3M119 68h1M88 87h1M88 88h1"/>
<path stroke="#880000" d="M118 68h1M118 69h1M122 72h1"/>
</g></g>
</g>
<rect x="1969.40" y="394.50" width="450.40" height="335.40" fill="none" stroke="#000" stroke-width="0.75"/>
<text x="2194.60" y="392.10" font-size="12.3" text-anchor="middle" font-weight="normal" >2018.08</text>
<g shape-rendering="crispEdges">
<clipPath id="c9"><rect x="0" y="0" width="449.40" height="334.40"/></clipPath>
<g transform="translate(596.20,748.00)" clip-path="url(#c9)"><g transform="scale(3,3) translate(0,0.5)" stroke-width="1" fill="none">
<path stroke="#44ff00" d="M0 0h151M0 1h151M0 2h151M0 3h151M0 4h151M0 5h151M0 6h151M0 7h151M0 8h151M0 9h151M0 10h151M0 11h151M0 12h151M0 13h151M0 14h148M0 15h151M0 16h151M0 17h151M0 18h151M0 19h151M0 20h151M0 21h151M0 22h151M0 23h151M0 24h151M0 25h151M0 26h151M0 27h151M0 28h149M0 29h146M0 30h144M0 31h142M0 32h140M0 33h138M0 34h136M0 35h134M0 36h132M0 37h131M0 38h129M0 39h127M0 40h126M0 41h124M0 42h123M0 43h9M16 43h105M0 44h6M18 44h102M0 45h3M19 45h100M0 46h2M19 46h99M19 47h98M20 48h97M20 49h97M19 50h97M19 51h97M18 52h98M17 53h98M16 54h98M17 55h97M17 56h97M18 57h95M18 58h95M18 59h95M18 60h95M19 61h94M19 62h94M20 63h93M20 64h95M21 65h96M21 66h98M22 67h99M22 68h100M23 69h101M24 70h103M24 71h103M25 72h102M26 73h96M26 74h92M27 75h88M27 76h2M34 76h80M26 77h2M42 77h71M25 78h2M45 78h67M24 79h2M49 79h62M24 80h2M53 80h56M54 81h1M69 81h10M80 81h28M75 82h1M81 82h25M82 83h23M83 84h20M85 85h16M86 86h9M87 87h4M88 88h2M88 89h2"/>
<path stroke="#00ffcc" d="M121 42h1M17 53h1M112 63h1M25 72h1M81 82h1M83 84h1M95 85h1"/>
<path stroke="#00ff44" d="M43 0h4M48 0h6M68 0h1M78 0h1M136 0h1M149 0h2M45 1h1M48 1h2M116 1h1M122 1h1M136 1h1M148 1h1M47 2h1M60 2h1M63 2h1M67 2h1M55 3h1M71 3h1M73 3h1M100 3h1M109 3h1M62 4h1M64 4h2M104 4h1M128 4h3M57 5h2M63 5h3M142 5h1M149 5h2M36 6h2M64 6h5M130 6h5M139 6h1M142 6h3M150 6h1M33 7h2M63 7h1M133 7h1M146 7h2M42 8h1M62 8h4M68 8h1M102 8h1M25 9h5M51 9h4M63 9h1M66 9h1M111 9h1M125 9h1M127 9h1M138 9h1M140 9h1M49 10h1M52 10h4M71 10h1M120 10h2M124 10h4M142 10h2M3 11h3M24 11h2M38 11h2M49 11h1M56 11h1M58 11h2M113 11h3M124 11h2M142 11h4M42 12h5M58 12h1M76 12h1M83 12h1M112 12h4M119 12h1M138 12h1M140 12h1M143 12h1M11 13h1M49 13h1M51 13h1M81 13h2M114 13h1M116 13h1M120 13h1M125 13h2M128 13h2M135 13h1M35 14h4M51 14h5M59 14h1M106 14h6M115 14h5M124 14h6M138 14h1M53 15h3M117 15h6M127 15h6M138 15h4M149 15h2M42 16h1M49 16h2M64 16h2M107 16h2M119 16h4M125 16h5M145 16h1M149 16h2M33 17h1M43 17h5M64 17h2M75 17h4M89 17h1M110 17h1M127 17h4M136 17h4M147 17h4M47 18h2M77 18h1M117 18h3M126 18h2M130 18h1M132 18h1M134 18h5M150 18h1M25 19h1M41 19h1M58 19h1M125 19h1M128 19h3M136 19h2M149 19h2M46 20h5M57 20h2M127 20h1M129 20h2M136 20h3M148 20h1M25 21h1M44 21h3M50 21h1M55 21h3M113 21h2M128 21h1M134 21h1M136 21h2M139 21h3M148 21h1M36 22h2M39 22h1M47 22h7M117 22h3M126 22h3M130 22h1M133 22h3M137 22h4M142 22h1M38 23h1M49 23h4M63 23h2M83 23h1M119 23h1M124 23h1M126 23h1M138 23h2M144 23h2M44 24h3M49 24h10M150 24h1M40 25h1M42 25h1M51 25h1M53 25h6M60 25h1M82 25h1M136 25h3M140 25h2M146 25h5M50 26h2M86 26h1M118 26h1M140 26h1M149 26h2M42 27h1M84 27h4M117 27h1M121 27h1M146 27h5M44 28h1M84 28h2M117 28h3M134 28h5M144 28h1M146 28h3M84 29h1M137 29h3M141 29h1M144 29h1M45 30h1M45 31h2M85 31h1M133 31h1M137 31h1M141 31h1M50 32h4M87 32h1M127 32h2M52 33h3M85 33h1M129 33h1M108 34h1M132 34h1M135 34h1M75 35h1M115 35h2M51 36h1M92 36h2M122 36h2M71 37h2M74 37h1M84 37h2M109 37h1M111 37h1M74 38h1M115 38h2M124 40h2M20 42h1M16 43h1M2 45h1M22 51h1M45 52h1M53 54h1M58 57h4M55 59h2M65 59h1M64 60h1M35 61h2M61 61h1M81 63h2M85 63h1M114 64h1M116 65h1M32 66h4M79 66h1M31 67h1M75 67h1M28 68h1M30 68h3M68 68h2M78 69h2M83 69h1M29 70h1M24 71h1M84 71h1M117 71h3M126 71h1M32 72h1M117 72h3M77 74h1M48 75h1M34 76h1M72 76h1M67 77h4M25 78h1M47 78h1M25 79h1M66 79h1M68 79h2M24 80h2M76 80h3M76 81h3M98 85h1M91 86h1"/>
<path stroke="#ccff00" d="M0 0h2M3 0h1M17 0h18M74 0h2M94 0h3M98 0h1M100 0h11M112 0h1M118 0h1M126 0h2M0 1h1M4 1h1M20 1h4M25 1h7M35 1h1M83 1h2M88 1h1M95 1h7M9 2h11M23 2h7M84 2h1M95 2h4M128 2h1M10 3h15M26 3h1M77 3h2M96 3h3M125 3h1M150 3h1M12 4h15M95 4h5M0 5h3M10 5h2M14 5h2M20 5h3M41 5h3M80 5h8M94 5h7M115 5h2M0 6h1M3 6h2M8 6h6M96 6h5M103 6h2M123 6h1M0 7h8M11 7h3M79 7h2M95 7h6M0 8h7M11 8h2M78 8h4M94 8h2M99 8h1M0 9h7M14 9h1M20 9h3M88 9h1M90 9h2M94 9h7M11 10h1M20 10h1M86 10h1M93 10h6M100 10h2M63 11h3M67 11h1M95 11h7M61 12h1M63 12h1M65 12h3M73 12h1M94 12h8M150 12h1M0 13h1M34 13h1M63 13h4M96 13h6M0 14h1M64 14h2M96 14h1M98 14h5M13 15h1M22 15h2M65 15h4M96 15h6M11 16h2M67 16h2M91 16h9M101 16h1M0 17h2M3 17h5M16 17h2M68 17h2M93 17h4M98 17h5M2 18h10M22 18h1M29 18h2M68 18h2M81 18h1M94 18h3M98 18h1M100 18h1M0 19h12M13 19h3M30 19h1M69 19h2M93 19h9M0 20h17M18 20h1M66 20h1M68 20h2M93 20h2M96 20h6M111 20h2M0 21h20M36 21h1M68 21h2M92 21h9M2 22h19M69 22h3M85 22h2M88 22h1M90 22h1M94 22h8M108 22h2M0 23h3M6 23h18M29 23h1M33 23h1M68 23h6M90 23h1M94 23h4M99 23h5M111 23h1M115 23h1M0 24h5M6 24h12M21 24h9M69 24h6M94 24h3M98 24h4M108 24h9M0 25h19M20 25h13M69 25h5M75 25h2M78 25h1M93 25h9M109 25h7M1 26h17M22 26h6M30 26h2M66 26h8M93 26h9M104 26h1M108 26h6M126 26h2M1 27h3M13 27h2M16 27h3M21 27h11M68 27h8M90 27h2M95 27h6M104 27h10M0 28h2M13 28h1M15 28h5M23 28h10M61 28h1M67 28h10M93 28h8M104 28h6M111 28h1M0 29h3M13 29h10M27 29h10M67 29h10M94 29h1M96 29h6M0 30h3M16 30h8M30 30h9M40 30h1M60 30h3M66 30h1M70 30h8M87 30h2M93 30h8M0 31h4M17 31h8M28 31h1M31 31h11M75 31h2M91 31h7M99 31h3M8 32h1M15 32h12M28 32h2M35 32h6M42 32h3M56 32h3M73 32h7M91 32h2M94 32h3M99 32h3M114 32h1M119 32h1M125 32h1M14 33h2M18 33h14M34 33h3M39 33h9M58 33h1M75 33h1M78 33h2M92 33h1M94 33h8M123 33h2M0 34h4M10 34h1M15 34h6M23 34h26M56 34h1M58 34h1M78 34h2M92 34h9M0 35h3M10 35h5M17 35h1M20 35h3M24 35h14M40 35h7M58 35h2M78 35h2M95 35h5M101 35h1M0 36h6M10 36h10M22 36h4M27 36h8M38 36h9M48 36h2M77 36h3M96 36h5M126 36h1M0 37h5M11 37h1M13 37h6M22 37h4M27 37h24M67 37h1M77 37h3M96 37h4M101 37h1M103 37h1M0 38h2M3 38h1M5 38h13M30 38h21M80 38h1M82 38h1M87 38h3M92 38h1M94 38h5M0 39h5M6 39h12M25 39h1M27 39h1M32 39h14M49 39h3M71 39h2M79 39h2M82 39h3M86 39h5M93 39h4M98 39h1M112 39h1M0 40h5M6 40h6M13 40h6M22 40h2M25 40h1M33 40h2M37 40h6M44 40h15M63 40h5M70 40h6M80 40h2M83 40h11M95 40h3M100 40h1M0 41h11M14 41h5M36 41h24M63 41h14M81 41h5M87 41h10M100 41h1M0 42h9M13 42h1M15 42h3M25 42h4M47 42h1M49 42h44M94 42h9M1 43h4M6 43h3M26 43h1M28 43h4M37 43h1M43 43h3M47 43h31M81 43h7M90 43h6M97 43h6M0 44h6M26 44h2M29 44h5M35 44h49M85 44h8M95 44h8M0 45h2M22 45h8M31 45h2M34 45h26M63 45h1M65 45h27M93 45h6M101 45h3M23 46h3M27 46h10M38 46h17M56 46h53M28 47h4M33 47h11M45 47h9M57 47h35M95 47h9M105 47h9M21 48h6M28 48h13M45 48h8M54 48h6M61 48h4M69 48h14M85 48h3M96 48h8M106 48h9M23 49h5M29 49h1M33 49h10M44 49h23M70 49h6M86 49h1M100 49h14M21 50h1M23 50h1M25 50h4M36 50h10M49 50h7M57 50h20M102 50h12M37 51h6M54 51h1M57 51h2M61 51h3M65 51h10M102 51h1M106 51h10M58 52h1M62 52h14M104 52h1M106 52h9M66 53h5M72 53h1M75 53h2M82 53h1M89 53h1M97 53h1M110 53h3M25 54h1M42 54h2M72 54h1M74 54h3M78 54h1M89 54h1M110 54h4M23 55h5M38 55h2M75 55h6M84 55h1M112 55h1M23 56h3M27 56h2M37 56h1M40 56h3M74 56h5M80 56h1M98 56h3M112 56h2M18 57h4M24 57h9M37 57h2M41 57h1M43 57h3M75 57h6M94 57h1M99 57h1M103 57h2M18 58h5M25 58h9M38 58h3M42 58h3M76 58h3M80 58h1M103 58h2M19 59h2M26 59h1M28 59h1M30 59h2M37 59h10M77 59h6M103 59h2M112 59h1M19 60h1M24 60h2M42 60h4M47 60h3M52 60h2M83 60h12M24 61h2M27 61h1M38 61h11M55 61h1M71 61h3M85 61h9M101 61h1M25 62h2M37 62h13M86 62h8M112 62h1M22 63h4M37 63h2M40 63h19M60 63h4M65 63h6M88 63h2M93 63h1M100 63h1M23 64h1M39 64h3M43 64h1M46 64h3M54 64h1M56 64h1M58 64h9M68 64h3M87 64h2M90 64h7M101 64h1M113 64h1M41 65h9M51 65h3M57 65h7M65 65h4M87 65h3M91 65h4M98 65h5M106 65h1M23 66h1M28 66h1M43 66h4M48 66h5M54 66h5M61 66h1M63 66h5M87 66h3M91 66h4M98 66h3M105 66h2M25 67h2M39 67h1M50 67h6M57 67h2M60 67h1M64 67h2M71 67h2M87 67h2M91 67h4M101 67h5M112 67h1M39 68h1M42 68h1M58 68h3M62 68h4M87 68h2M91 68h1M93 68h2M101 68h6M121 68h1M49 69h1M52 69h4M59 69h6M72 69h3M85 69h1M90 69h18M122 69h1M51 70h7M62 70h3M70 70h1M86 70h22M122 70h3M126 70h1M52 71h4M65 71h1M71 71h3M87 71h12M100 71h3M52 72h2M56 72h2M81 72h6M88 72h29M126 72h1M48 73h1M53 73h2M56 73h3M60 73h1M66 73h3M84 73h17M102 73h13M116 73h4M52 74h4M60 74h5M86 74h11M99 74h17M54 75h2M61 75h2M83 75h3M87 75h18M106 75h8M53 76h3M85 76h4M90 76h21M51 77h6M86 77h3M90 77h2M93 77h6M102 77h4M109 77h2M51 78h5M74 78h3M86 78h6M96 78h3M108 78h3M52 79h3M86 79h12M100 79h1M107 79h2M110 79h1M53 80h3M70 80h1M85 80h2M89 80h11M101 80h1M103 80h1M54 81h1M71 81h3M84 81h16M102 81h1M104 81h1M85 82h2M89 82h10M105 82h1M85 83h2M90 83h9M86 84h13M86 85h2M90 85h5M97 85h1M86 86h2M90 86h1M94 86h1M87 87h1M89 87h1M89 88h1M89 89h1"/>
<path stroke="#ffdd00" d="M2 0h1M4 0h13M97 0h1M99 0h1M1 1h3M5 1h15M0 2h9M20 2h3M0 3h10M0 4h12M3 5h7M12 5h2M1 6h2M5 6h3M96 8h3M99 10h1M64 12h1M97 14h1M100 16h1M97 17h1M0 18h2M95 20h1M3 23h3M98 23h1M5 24h1M97 24h1M0 26h1M28 26h2M0 27h1M95 29h1M98 31h1M97 32h2M37 33h2M35 36h3M129 36h2M46 39h3M43 40h1M94 40h1M93 42h1M0 43h1M5 43h1M78 43h3M96 43h1M84 44h1M93 44h2M30 45h1M33 45h1M60 45h3M64 45h1M92 45h1M37 46h1M55 46h1M44 47h1M54 47h3M92 47h3M41 48h4M53 48h1M60 48h1M65 48h4M83 48h2M88 48h8M43 49h1M67 49h3M76 49h10M87 49h13M77 50h25M64 51h1M75 51h23M99 51h3M103 51h3M76 52h11M92 52h7M101 52h3M105 52h1M77 53h5M83 53h4M92 53h5M98 53h12M77 54h1M79 54h8M88 54h1M92 54h18M81 55h3M85 55h2M91 55h21M113 55h1M20 56h1M26 56h1M38 56h2M79 56h1M81 56h15M101 56h2M104 56h8M39 57h2M42 57h1M81 57h13M97 57h1M100 57h3M105 57h8M41 58h1M79 58h1M81 58h15M98 58h5M105 58h8M83 59h20M105 59h7M46 60h1M95 60h12M109 60h4M94 61h7M102 61h10M94 62h12M107 62h5M39 63h1M94 63h6M101 63h11M49 64h5M55 64h1M57 64h1M67 64h1M89 64h1M97 64h4M102 64h4M108 64h5M50 65h1M54 65h3M64 65h1M90 65h1M103 65h1M105 65h1M107 65h6M53 66h1M59 66h2M62 66h1M90 66h1M101 66h4M109 66h4M59 67h1M61 67h3M89 67h2M106 67h6M113 67h1M61 68h1M89 68h2M92 68h1M107 68h8M120 68h1M86 69h4M108 69h10M119 69h3M108 70h7M116 70h6M103 71h11M115 71h2M120 71h6M54 72h2M87 72h1M120 72h2M124 72h1M55 73h1M101 73h1M115 73h1M105 75h1M89 76h1M89 77h1M92 77h1M92 78h4M87 80h2M87 82h2M87 83h3"/>
<path stroke="#ffaa00" d="M116 46h1M115 47h2M116 48h1M98 51h1M87 52h3M99 52h2M87 53h2M90 53h2M87 54h1M90 54h2M88 55h3M19 56h1M96 56h2M103 56h1M95 57h2M98 57h1M107 60h2M106 62h1M106 64h2M95 65h2M96 66h2M107 66h2M95 68h1M98 68h1M123 69h1M115 70h1M114 71h1M88 85h2M88 86h2"/>
<path stroke="#ff5500" d="M90 52h2M87 55h1M96 58h2M97 65h1M95 66h1M95 67h4M96 68h2"/>
<path stroke="#ee0000" d="M18 55h2M104 65h1M113 65h3M113 66h6M99 67h2M114 67h6M99 68h2M115 68h3M119 68h1M123 72h1M88 87h1M88 88h1"/>
<path stroke="#880000" d="M118 68h1M118 69h1M122 72h1"/>
</g></g>
</g>
<rect x="596.70" y="880" width="448.40" height="1" fill="#fff" shape-rendering="crispEdges"/>
<rect x="595.70" y="747.50" width="450.40" height="335.40" fill="none" stroke="#000" stroke-width="0.75"/>
<text x="820.90" y="745.10" font-size="12.3" text-anchor="middle" font-weight="normal" >2018.09</text>
<g shape-rendering="crispEdges">
<clipPath id="c10"><rect x="0" y="0" width="449.40" height="334.40"/></clipPath>
<g transform="translate(1054.10,748.00)" clip-path="url(#c10)"><g transform="scale(3,3) translate(0,0.5)" stroke-width="1" fill="none">
<path stroke="#44ff00" d="M0 0h151M0 1h151M0 2h151M0 3h151M0 4h151M0 5h151M0 6h151M0 7h151M0 8h151M0 9h151M0 10h151M0 11h151M0 12h151M0 13h151M0 14h151M0 15h151M0 16h151M0 17h151M0 18h151M0 19h151M0 20h151M0 21h151M0 22h151M0 23h151M0 24h151M0 25h151M0 26h151M0 27h151M0 28h149M0 29h146M0 30h144M0 31h142M0 32h140M0 33h138M0 34h136M0 35h134M0 36h132M0 37h131M0 38h129M0 39h127M0 40h126M0 41h124M0 42h123M0 43h9M16 43h105M0 44h6M18 44h102M0 45h3M19 45h100M0 46h2M19 46h99M19 47h98M20 48h97M20 49h97M19 50h97M19 51h97M18 52h98M17 53h98M16 54h98M17 55h97M17 56h97M18 57h95M18 58h95M18 59h95M18 60h95M19 61h94M19 62h94M20 63h93M20 64h95M21 65h96M21 66h98M22 67h99M22 68h11M35 68h87M23 69h101M24 70h103M24 71h103M25 72h102M26 73h1M29 73h93M30 74h88M27 75h88M27 76h2M34 76h80M26 77h2M42 77h71M25 78h2M45 78h67M24 79h2M49 79h16M72 79h39M24 80h2M53 80h12M72 80h37M54 81h1M69 81h10M80 81h28M75 82h1M81 82h25M82 83h23M83 84h20M85 85h16M86 86h9M87 87h4M88 88h2M88 89h2"/>
<path stroke="#0099ff" d="M150 27h1M112 59h1M117 67h1M26 71h1M31 74h1M27 77h1M24 80h1M77 80h1M89 88h1"/>
<path stroke="#00ffcc" d="M148 27h1M142 29h1M8 42h3M121 42h1M114 51h1M17 53h2M17 55h1M113 56h1M18 58h1M112 61h1M45 63h2M117 66h1M126 70h1M26 72h1M115 74h1M32 75h1M35 75h1M40 75h1M42 77h1M67 77h1M63 80h1M86 85h1M95 85h1"/>
<path stroke="#00ff44" d="M49 0h1M55 0h5M126 0h2M129 0h2M63 1h1M66 1h2M52 2h5M63 2h1M148 2h2M28 3h5M38 3h8M50 3h7M90 3h1M137 3h1M29 4h4M35 4h1M37 4h3M45 4h2M51 4h7M60 4h2M92 4h1M116 4h1M129 4h2M138 4h1M27 5h6M38 5h4M45 5h4M50 5h6M58 5h1M60 5h5M113 5h1M115 5h2M121 5h10M146 5h2M26 6h2M29 6h6M36 6h11M48 6h7M60 6h6M87 6h3M105 6h1M113 6h2M117 6h1M131 6h5M138 6h1M145 6h1M22 7h1M26 7h12M40 7h7M48 7h7M59 7h1M65 7h1M89 7h1M109 7h4M115 7h4M123 7h3M132 7h3M136 7h9M24 8h1M26 8h4M40 8h8M49 8h4M56 8h1M58 8h1M63 8h3M108 8h2M111 8h1M116 8h4M123 8h1M127 8h1M135 8h4M12 9h1M27 9h3M31 9h1M38 9h8M47 9h4M52 9h1M54 9h3M62 9h4M106 9h3M115 9h4M123 9h5M132 9h1M26 10h7M34 10h2M37 10h8M46 10h10M63 10h3M114 10h10M129 10h6M145 10h5M29 11h14M49 11h2M63 11h3M67 11h1M106 11h3M116 11h14M131 11h5M146 11h2M24 12h1M27 12h1M30 12h7M40 12h2M43 12h1M46 12h4M52 12h1M57 12h3M63 12h1M117 12h2M120 12h8M144 12h1M24 13h1M32 13h2M40 13h10M56 13h10M111 13h1M117 13h3M132 13h2M135 13h1M143 13h1M149 13h2M22 14h1M28 14h2M36 14h3M44 14h6M52 14h1M56 14h1M58 14h8M110 14h4M116 14h4M124 14h1M132 14h3M142 14h2M14 15h1M27 15h7M45 15h1M49 15h6M61 15h4M116 15h3M127 15h5M137 15h1M139 15h5M149 15h2M26 16h6M39 16h1M42 16h1M48 16h10M59 16h1M61 16h7M107 16h3M125 16h5M138 16h6M146 16h2M149 16h2M27 17h4M34 17h2M42 17h2M45 17h13M61 17h7M120 17h2M123 17h2M126 17h1M129 17h4M137 17h5M148 17h1M19 18h1M21 18h1M33 18h3M41 18h1M43 18h3M48 18h9M61 18h7M80 18h1M118 18h3M130 18h2M133 18h1M136 18h2M142 18h4M11 19h1M31 19h1M34 19h7M48 19h6M60 19h6M116 19h6M126 19h5M135 19h2M143 19h2M150 19h1M36 20h5M45 20h1M48 20h5M62 20h4M78 20h1M114 20h6M128 20h1M130 20h1M133 20h2M149 20h2M35 21h1M37 21h3M45 21h10M124 21h6M134 21h6M141 21h5M147 21h4M36 22h5M48 22h6M114 22h2M122 22h1M125 22h5M137 22h1M143 22h1M146 22h3M36 23h2M39 23h7M47 23h6M113 23h2M116 23h1M123 23h3M127 23h1M146 23h3M36 24h15M114 24h2M121 24h1M126 24h1M128 24h1M130 24h5M140 24h2M28 25h1M37 25h4M45 25h10M56 25h3M113 25h2M117 25h1M119 25h8M129 25h1M131 25h1M142 25h4M147 25h4M42 26h9M54 26h2M113 26h13M136 26h1M139 26h2M143 26h8M41 27h8M50 27h7M114 27h2M119 27h11M138 27h1M141 27h1M143 27h5M51 28h4M56 28h1M58 28h1M120 28h1M123 28h3M143 28h3M48 29h1M51 29h1M85 29h2M88 29h1M118 29h6M125 29h1M128 29h4M133 29h1M143 29h3M117 30h2M124 30h1M137 30h4M143 30h1M87 31h1M115 31h5M125 31h3M135 31h5M58 32h1M125 32h6M126 33h3M133 33h2M137 33h1M118 34h1M120 35h1M121 36h2M128 36h1M122 37h1M120 38h2M123 38h1M127 38h1M100 39h9M119 39h1M104 40h1M105 41h1M121 41h2M16 42h1M6 43h1M8 43h1M18 44h1M105 44h1M30 46h1M33 46h2M32 49h1M116 49h1M19 50h1M24 51h1M115 52h1M34 57h2M21 58h1M25 58h1M29 58h1M33 58h5M41 58h2M18 59h1M23 59h4M28 59h5M34 59h14M19 60h1M22 60h15M39 60h9M19 61h1M21 61h8M34 61h1M37 61h1M40 61h7M22 62h2M26 62h3M31 62h1M33 62h5M42 62h5M48 62h1M50 62h1M27 63h1M31 63h2M34 63h11M47 63h2M26 64h1M32 64h2M37 64h4M44 64h6M24 65h3M32 65h5M39 65h2M43 65h4M48 65h2M23 66h4M28 66h4M33 66h2M41 66h4M47 66h4M24 67h12M40 67h1M44 67h3M23 68h1M26 68h4M39 68h11M23 69h4M28 69h6M35 69h15M74 69h1M24 70h1M28 70h5M35 70h8M44 70h1M48 70h1M28 71h4M35 71h2M40 71h2M47 71h1M63 71h1M117 71h3M125 71h2M29 72h1M31 72h12M46 72h2M73 72h1M117 72h3M32 73h3M36 73h1M39 73h2M43 73h1M47 73h2M117 73h1M37 74h1M42 74h4M47 74h1M65 74h1M39 75h1M47 75h3M104 75h1M27 76h2M102 76h2M26 77h1M111 77h1M25 78h1M47 78h1M50 79h1M110 79h1M59 80h1M61 80h2M69 81h1M73 81h1M103 83h1M101 84h1M100 85h1M92 86h1M89 89h1"/>
<path stroke="#ccff00" d="M0 0h5M11 0h3M22 0h2M25 0h11M73 0h1M95 0h3M101 0h2M104 0h1M140 0h5M0 1h4M5 1h2M19 1h1M23 1h7M31 1h3M96 1h2M100 1h2M108 1h1M118 1h1M0 2h1M4 2h1M18 2h7M26 2h2M76 2h3M96 2h8M9 3h11M96 3h4M101 3h2M110 3h1M8 4h12M96 4h7M8 5h2M12 5h7M95 5h7M1 6h10M15 6h2M92 6h9M0 7h17M70 7h3M84 7h1M96 7h7M0 8h5M6 8h4M71 8h1M83 8h1M94 8h9M0 9h5M89 9h2M98 9h4M73 10h1M88 10h1M96 10h8M95 11h8M10 12h2M20 12h1M94 12h5M100 12h3M13 13h1M17 13h2M68 13h1M74 13h1M91 13h2M95 13h1M98 13h3M18 14h1M41 14h1M72 14h5M85 14h1M89 14h3M95 14h6M19 15h1M73 15h1M95 15h6M0 16h2M71 16h2M95 16h6M16 17h1M94 17h7M8 18h2M94 18h5M0 19h5M8 19h1M58 19h1M96 19h5M0 20h5M7 20h3M56 20h4M71 20h3M96 20h2M99 20h2M0 21h5M6 21h1M8 21h4M17 21h2M23 21h1M56 21h6M97 21h4M106 21h1M0 22h23M55 22h7M63 22h2M94 22h2M97 22h1M99 22h2M105 22h1M2 23h21M55 23h6M62 23h5M83 23h2M95 23h1M98 23h2M3 24h20M33 24h1M58 24h2M62 24h7M95 24h2M98 24h3M0 25h23M24 25h2M32 25h1M34 25h2M66 25h5M72 25h2M83 25h1M94 25h8M104 25h2M107 25h1M0 26h22M25 26h7M63 26h2M66 26h7M94 26h6M0 27h34M63 27h4M68 27h5M95 27h4M0 28h2M4 28h9M14 28h5M23 28h13M67 28h4M74 28h2M93 28h3M99 28h3M0 29h10M13 29h7M21 29h1M23 29h7M31 29h5M44 29h2M67 29h3M72 29h5M93 29h10M0 30h12M13 30h1M15 30h7M26 30h14M72 30h12M93 30h10M0 31h23M26 31h3M30 31h11M71 31h13M93 31h2M98 31h5M0 32h24M27 32h3M31 32h11M45 32h3M71 32h4M76 32h9M96 32h7M109 32h1M0 33h6M8 33h16M33 33h7M42 33h1M45 33h2M76 33h10M96 33h1M98 33h5M0 34h13M14 34h5M20 34h1M22 34h5M35 34h2M42 34h5M50 34h2M78 34h10M91 34h10M114 34h1M0 35h14M16 35h2M19 35h2M23 35h7M34 35h16M58 35h4M79 35h11M92 35h8M104 35h4M0 36h17M25 36h28M59 36h2M67 36h4M72 36h5M78 36h18M98 36h1M114 36h1M0 37h4M8 37h10M24 37h12M39 37h2M43 37h5M49 37h2M52 37h2M55 37h6M65 37h3M71 37h3M80 37h11M94 37h6M0 38h18M24 38h1M26 38h4M31 38h1M34 38h18M58 38h2M61 38h2M85 38h1M87 38h2M91 38h1M97 38h3M0 39h6M7 39h9M24 39h1M27 39h20M49 39h2M98 39h1M1 40h16M29 40h5M35 40h3M41 40h5M49 40h2M52 40h1M97 40h2M1 41h2M5 41h6M12 41h5M28 41h1M32 41h3M39 41h14M66 41h2M85 41h1M94 41h5M0 42h6M11 42h5M18 42h2M33 42h4M39 42h13M75 42h2M92 42h2M98 42h3M0 43h5M33 43h19M87 43h1M90 43h1M98 43h4M0 44h2M3 44h2M22 44h3M26 44h11M38 44h13M84 44h1M86 44h1M88 44h5M96 44h7M116 44h1M0 45h1M2 45h1M23 45h1M25 45h2M28 45h3M33 45h1M37 45h14M72 45h1M82 45h22M1 46h1M25 46h2M38 46h13M68 46h3M72 46h6M80 46h24M105 46h1M113 46h1M27 47h1M37 47h15M68 47h1M73 47h5M79 47h22M102 47h1M104 47h4M28 48h1M37 48h1M39 48h1M41 48h9M51 48h3M67 48h2M70 48h17M88 48h9M102 48h4M107 48h8M37 49h13M51 49h2M54 49h1M68 49h1M71 49h9M88 49h1M92 49h2M99 49h1M101 49h14M39 50h1M42 50h13M68 50h10M86 50h3M102 50h14M38 51h18M68 51h3M73 51h2M104 51h7M112 51h2M37 52h1M39 52h2M42 52h17M66 52h1M71 52h1M104 52h11M37 53h3M42 53h1M44 53h8M53 53h4M58 53h4M66 53h7M89 53h1M108 53h7M18 54h3M22 54h1M36 54h4M44 54h13M58 54h1M67 54h4M88 54h1M107 54h5M113 54h1M20 55h8M31 55h28M68 55h4M106 55h2M109 55h2M21 56h4M28 56h3M36 56h8M48 56h12M67 56h6M103 56h4M110 56h3M24 57h2M27 57h4M44 57h3M51 57h10M66 57h9M76 57h5M94 57h1M52 58h12M66 58h2M69 58h11M82 58h3M103 58h3M53 59h12M71 59h14M91 59h3M103 59h3M51 60h14M74 60h1M76 60h11M89 60h3M99 60h3M105 60h1M51 61h10M62 61h3M69 61h1M75 61h14M94 61h1M53 62h20M80 62h15M51 63h21M74 63h2M80 63h17M51 64h9M62 64h1M64 64h15M80 64h1M87 64h5M94 64h5M112 64h2M51 65h8M60 65h4M66 65h14M85 65h1M89 65h6M98 65h2M101 65h2M111 65h1M52 66h16M69 66h10M84 66h2M90 66h2M98 66h6M51 67h21M74 67h7M87 67h1M93 67h2M101 67h3M108 67h3M120 67h1M52 68h13M66 68h1M68 68h1M78 68h11M92 68h3M101 68h3M51 69h7M69 69h2M81 69h7M94 69h1M100 69h8M121 69h1M51 70h2M55 70h2M78 70h1M80 70h1M86 70h3M99 70h7M123 70h2M51 71h2M55 71h3M78 71h1M86 71h2M99 71h11M111 71h1M123 71h2M51 72h9M89 72h1M99 72h12M115 72h2M121 72h1M124 72h3M52 73h8M88 73h2M98 73h5M104 73h13M120 73h2M51 74h3M55 74h2M58 74h1M83 74h1M86 74h2M96 74h7M106 74h9M116 74h2M53 75h7M63 75h1M87 75h2M91 75h1M93 75h6M111 75h4M52 76h8M86 76h11M109 76h3M113 76h1M52 77h9M69 77h1M82 77h1M84 77h14M108 77h3M112 77h1M46 78h1M52 78h5M59 78h1M76 78h4M81 78h1M86 78h12M111 78h1M51 79h5M78 79h21M53 80h2M76 80h1M78 80h2M81 80h18M54 81h1M70 81h1M77 81h2M81 81h13M95 81h4M100 81h2M84 82h4M91 82h7M83 83h10M96 83h6M84 84h1M86 84h2M90 84h9M100 84h1M85 85h1M87 85h1M90 85h5M96 85h2M99 85h1M90 86h2M93 86h2"/>
<path stroke="#ffdd00" d="M5 0h6M14 0h8M98 0h3M4 1h1M7 1h12M20 1h3M98 1h2M1 2h3M5 2h13M0 3h9M100 3h1M0 4h8M0 5h8M0 6h1M99 12h1M96 13h2M98 20h1M62 22h1M96 22h1M98 22h1M0 23h2M61 23h1M96 23h2M0 24h3M60 24h2M97 24h1M23 25h1M22 26h3M2 28h2M13 28h1M96 28h3M10 29h3M30 29h1M12 30h1M14 30h1M95 31h3M40 33h2M43 33h2M97 33h1M13 34h1M37 34h5M77 36h1M129 36h2M48 37h1M51 37h1M54 37h1M68 37h3M74 37h6M91 37h3M52 38h6M60 38h1M63 38h13M77 38h8M86 38h1M89 38h2M92 38h5M47 39h2M51 39h9M61 39h37M46 40h3M51 40h1M53 40h44M53 41h6M62 41h4M68 41h17M86 41h8M52 42h23M77 42h15M94 42h4M52 43h18M72 43h15M88 43h2M91 43h7M51 44h33M85 44h1M87 44h1M93 44h3M51 45h14M67 45h5M73 45h9M51 46h8M64 46h1M66 46h2M71 46h1M78 46h2M52 47h4M57 47h1M65 47h3M69 47h4M78 47h1M101 47h1M103 47h1M38 48h1M40 48h1M50 48h1M54 48h1M66 48h1M69 48h1M87 48h1M97 48h5M50 49h1M55 49h1M66 49h2M69 49h2M80 49h8M89 49h3M94 49h5M100 49h1M55 50h2M67 50h1M78 50h8M89 50h8M99 50h3M56 51h3M66 51h2M71 51h2M75 51h21M98 51h6M111 51h1M41 52h1M59 52h1M62 52h4M67 52h4M72 52h15M92 52h3M96 52h8M40 53h2M43 53h1M52 53h1M57 53h1M62 53h4M73 53h1M75 53h9M85 53h1M92 53h16M40 54h4M57 54h1M59 54h2M64 54h3M71 54h12M84 54h3M89 54h1M92 54h15M59 55h3M63 55h1M65 55h3M72 55h3M77 55h5M85 55h2M91 55h15M108 55h1M44 56h4M60 56h7M73 56h9M88 56h8M98 56h5M107 56h3M61 57h5M75 57h1M81 57h5M88 57h6M99 57h14M64 58h2M68 58h1M80 58h2M85 58h11M99 58h4M106 58h7M65 59h6M85 59h6M94 59h3M98 59h5M106 59h6M65 60h9M87 60h2M92 60h7M102 60h3M106 60h5M112 60h1M65 61h4M70 61h5M89 61h5M95 61h17M73 62h7M95 62h11M107 62h6M72 63h2M76 63h4M97 63h9M107 63h3M111 63h2M60 64h2M63 64h1M79 64h1M81 64h6M92 64h2M99 64h13M64 65h2M80 65h5M86 65h3M100 65h1M103 65h1M105 65h1M107 65h1M109 65h2M112 65h1M68 66h1M79 66h5M86 66h4M92 66h3M104 66h3M109 66h4M81 67h6M88 67h5M104 67h4M111 67h3M89 68h3M104 68h11M88 69h6M95 69h5M108 69h3M112 69h6M119 69h2M53 70h2M89 70h10M106 70h12M120 70h1M53 71h2M88 71h11M110 71h1M112 71h2M115 71h2M120 71h3M90 72h5M97 72h2M111 72h4M90 73h8M88 74h8M89 75h2M92 75h1M94 81h1M88 82h3M93 83h3M88 84h2"/>
<path stroke="#ffaa00" d="M76 38h1M60 39h1M59 41h3M70 43h2M65 45h2M59 46h5M65 46h1M116 46h1M56 47h1M58 47h7M115 47h2M55 48h11M116 48h1M56 49h10M57 50h10M97 50h2M59 51h7M96 51h2M60 52h2M87 52h3M95 52h1M74 53h1M84 53h1M86 53h3M90 53h2M61 54h3M83 54h1M87 54h1M90 54h2M62 55h1M64 55h1M75 55h2M82 55h3M88 55h3M19 56h2M82 56h6M86 57h2M95 57h1M97 57h1M98 58h1M97 59h1M111 60h1M106 62h1M106 63h1M110 63h1M106 65h1M108 65h1M96 66h1M107 66h2M95 67h2M95 68h1M111 69h1M118 70h2M121 70h1M114 71h1M95 72h2M88 85h2M88 86h1"/>
<path stroke="#ff5500" d="M90 52h2M87 55h1M96 56h2M96 57h1M98 57h1M96 58h2M95 65h3M95 66h1M97 66h1M97 67h2M96 68h3"/>
<path stroke="#ee0000" d="M18 55h2M104 65h1M113 65h1M115 65h1M113 66h3M118 66h1M99 67h2M114 67h3M118 67h2M99 68h2M115 68h3M119 68h1M88 87h1"/>
<path stroke="#880000" d="M118 68h1M118 69h1M122 72h1"/>
</g></g>
</g>
<rect x="1054.60" y="880" width="448.40" height="1" fill="#fff" shape-rendering="crispEdges"/>
<rect x="1053.60" y="747.50" width="450.40" height="335.40" fill="none" stroke="#000" stroke-width="0.75"/>
<text x="1278.80" y="745.10" font-size="12.3" text-anchor="middle" font-weight="normal" >2018.10</text>
<g shape-rendering="crispEdges">
<clipPath id="c11"><rect x="0" y="0" width="449.40" height="334.40"/></clipPath>
<g transform="translate(1512.00,748.00)" clip-path="url(#c11)"><g transform="scale(3,3) translate(0,0.5)" stroke-width="1" fill="none">
<path stroke="#44ff00" d="M0 0h151M0 1h151M0 2h151M0 3h151M0 4h151M0 5h151M0 6h151M0 7h151M0 8h151M0 9h151M0 10h151M0 11h151M0 12h151M0 13h151M0 14h151M0 15h151M0 16h151M0 17h151M0 18h151M0 19h151M0 20h151M0 21h151M0 22h151M0 23h151M0 24h151M0 25h151M0 26h151M0 27h151M0 28h149M0 29h146M0 30h144M0 31h142M0 32h140M0 33h138M0 34h136M0 35h134M0 36h132M0 37h131M0 38h129M0 39h127M0 40h126M0 41h124M0 42h123M0 43h9M16 43h105M0 44h6M18 44h102M0 45h3M19 45h100M0 46h2M19 46h99M19 47h98M20 48h97M20 49h97M19 50h97M19 51h97M18 52h98M17 53h98M16 54h98M17 55h97M17 56h97M18 57h95M18 58h95M18 59h95M18 60h95M19 61h94M19 62h94M20 63h93M20 64h95M21 65h96M21 66h98M22 67h99M22 68h100M23 69h101M24 70h103M24 71h103M25 72h102M26 73h96M26 74h92M27 75h88M27 76h3M34 76h80M26 77h2M29 77h1M42 77h71M25 78h2M29 78h1M45 78h67M24 79h2M29 79h1M49 79h62M24 80h2M29 80h1M53 80h56M29 81h1M54 81h1M69 81h10M80 81h28M29 82h1M75 82h1M81 82h25M82 83h23M83 84h20M85 85h16M86 86h9M87 87h4M88 88h2M88 89h2"/>
<path stroke="#00ffcc" d="M142 30h1M137 33h1M131 36h1M118 45h1M112 57h1M112 58h1M18 59h1M120 73h1M26 74h1M29 76h1M40 76h1M25 80h1M74 81h1M96 85h1M92 86h1"/>
<path stroke="#00ff44" d="M34 0h1M71 0h1M92 0h1M121 0h4M143 0h2M45 1h1M53 1h1M73 1h1M141 1h3M148 1h3M140 2h1M142 2h1M150 2h1M43 3h2M60 3h1M76 3h1M139 3h4M52 4h2M59 4h3M74 4h1M109 4h1M139 4h7M25 5h1M27 5h1M41 5h2M46 5h1M61 5h1M84 5h1M132 5h1M140 5h9M25 6h1M27 6h3M33 6h2M38 6h8M60 6h1M62 6h3M123 6h1M125 6h1M127 6h1M129 6h1M131 6h4M139 6h2M143 6h6M39 7h5M55 7h2M61 7h2M64 7h2M124 7h5M134 7h1M136 7h1M140 7h2M143 7h8M23 8h1M32 8h4M39 8h5M54 8h2M60 8h6M107 8h1M119 8h3M125 8h4M134 8h1M139 8h3M143 8h1M145 8h1M148 8h3M24 9h1M30 9h1M33 9h1M36 9h2M40 9h1M43 9h1M50 9h4M56 9h1M62 9h7M119 9h10M134 9h17M15 10h1M24 10h3M30 10h2M35 10h2M38 10h3M42 10h10M63 10h5M108 10h3M116 10h11M128 10h3M133 10h1M135 10h5M145 10h1M147 10h4M26 11h1M38 11h1M40 11h1M42 11h4M59 11h3M63 11h1M65 11h1M115 11h1M117 11h1M120 11h1M123 11h4M130 11h1M134 11h5M143 11h7M32 12h2M56 12h1M58 12h1M61 12h5M115 12h8M127 12h1M129 12h1M133 12h4M140 12h11M1 13h1M31 13h3M42 13h4M47 13h3M54 13h11M117 13h1M119 13h5M127 13h1M130 13h8M139 13h4M147 13h1M149 13h2M27 14h4M33 14h2M36 14h8M45 14h4M51 14h1M53 14h1M118 14h1M122 14h9M132 14h16M27 15h3M33 15h3M37 15h1M39 15h1M41 15h9M63 15h1M65 15h1M118 15h1M120 15h1M122 15h14M137 15h1M139 15h6M146 15h1M149 15h2M27 16h3M31 16h3M35 16h1M39 16h4M45 16h7M58 16h3M65 16h2M69 16h1M119 16h10M133 16h4M143 16h7M15 17h3M25 17h1M27 17h3M32 17h4M38 17h17M56 17h2M60 17h1M62 17h1M65 17h1M69 17h1M101 17h5M115 17h10M126 17h1M128 17h9M141 17h9M32 18h5M43 18h6M50 18h5M61 18h2M70 18h2M84 18h1M117 18h8M127 18h8M141 18h1M143 18h1M146 18h3M26 19h9M41 19h3M47 19h11M62 19h7M117 19h1M120 19h2M124 19h8M133 19h3M137 19h2M140 19h2M27 20h8M41 20h3M45 20h1M49 20h9M62 20h4M102 20h1M120 20h3M124 20h2M132 20h1M134 20h1M136 20h5M149 20h2M22 21h1M33 21h1M38 21h7M50 21h3M62 21h4M120 21h5M128 21h10M148 21h3M35 22h1M43 22h2M47 22h1M50 22h6M60 22h4M66 22h1M114 22h2M120 22h1M123 22h3M127 22h10M144 22h7M42 23h16M64 23h3M121 23h4M127 23h3M134 23h1M136 23h1M147 23h4M24 24h1M42 24h5M49 24h5M60 24h2M63 24h4M126 24h4M136 24h1M143 24h2M148 24h1M150 24h1M37 25h2M41 25h4M46 25h2M49 25h5M58 25h3M66 25h1M111 25h1M124 25h2M128 25h2M133 25h3M140 25h5M148 25h1M150 25h1M51 26h4M59 26h1M62 26h1M129 26h1M131 26h1M139 26h1M141 26h4M146 26h1M150 26h1M1 27h1M48 27h6M56 27h2M121 27h5M128 27h2M132 27h6M141 27h4M146 27h2M37 28h1M48 28h2M51 28h6M63 28h2M113 28h1M124 28h2M143 28h2M49 29h6M130 29h1M143 29h3M49 30h6M129 30h2M134 30h1M143 30h1M51 31h3M119 31h1M129 31h1M133 31h1M45 32h1M57 32h1M110 32h1M136 32h1M59 34h1M129 34h1M104 36h2M129 37h1M128 38h1M23 41h1M105 41h1M120 43h1M18 44h1M38 45h1M48 46h4M52 47h1M46 48h1M50 51h1M115 51h1M52 52h2M112 60h1M121 68h1M117 71h3M117 72h3M30 75h4M27 76h1M25 78h2M65 80h1M72 81h1M29 82h1M84 84h1M93 86h1M88 89h1"/>
<path stroke="#ccff00" d="M0 0h4M13 0h2M22 0h11M64 0h1M88 0h1M94 0h4M133 0h3M0 1h5M14 1h11M26 1h5M95 1h6M126 1h3M5 2h3M13 2h5M19 2h7M27 2h3M31 2h1M61 2h1M80 2h1M88 2h1M92 2h9M121 2h1M123 2h7M147 2h1M14 3h17M87 3h4M97 3h5M118 3h2M6 4h1M8 4h2M13 4h9M25 4h3M32 4h1M38 4h2M97 4h4M117 4h2M9 5h2M14 5h7M91 5h1M98 5h3M1 6h1M3 6h1M6 6h8M16 6h2M89 6h4M98 6h3M107 6h3M116 6h1M0 7h9M95 7h7M1 8h9M11 8h1M90 8h1M93 8h9M0 9h2M3 9h4M74 9h1M90 9h12M4 10h3M78 10h3M97 10h4M5 11h3M96 11h6M8 12h1M10 12h1M96 12h5M10 13h1M95 13h6M22 14h1M24 14h1M85 14h1M94 14h2M97 14h3M94 15h7M115 15h1M21 16h1M76 16h1M78 16h1M95 16h4M1 17h1M96 17h3M0 18h2M97 18h4M0 19h2M5 19h4M82 19h2M85 19h1M87 19h2M91 19h10M0 20h16M72 20h4M82 20h3M86 20h14M106 20h1M112 20h1M4 21h9M14 21h2M72 21h8M81 21h18M107 21h2M1 22h12M14 22h3M71 22h15M87 22h12M0 23h11M16 23h5M72 23h1M74 23h11M86 23h11M98 23h2M0 24h22M31 24h1M33 24h1M73 24h11M86 24h14M106 24h1M0 25h2M5 25h4M13 25h8M22 25h1M68 25h16M86 25h10M97 25h4M0 26h2M3 26h2M6 26h3M12 26h8M23 26h5M68 26h32M12 27h13M26 27h5M32 27h1M68 27h2M71 27h1M73 27h15M89 27h8M98 27h2M4 28h1M16 28h1M20 28h3M26 28h7M34 28h1M68 28h2M72 28h1M74 28h24M100 28h2M117 28h1M120 28h1M4 29h1M8 29h9M21 29h13M67 29h25M93 29h7M108 29h1M116 29h2M10 30h7M24 30h12M67 30h13M81 30h14M96 30h1M109 30h3M1 31h2M5 31h1M10 31h10M21 31h1M23 31h6M32 31h7M64 31h27M97 31h1M123 31h1M125 31h1M13 32h10M25 32h1M28 32h2M31 32h12M64 32h18M83 32h7M93 32h6M0 33h1M12 33h5M18 33h8M28 33h17M62 33h31M94 33h7M14 34h1M20 34h1M22 34h18M43 34h2M64 34h5M70 34h29M100 34h1M126 34h2M15 35h1M20 35h20M41 35h1M43 35h3M55 35h3M65 35h1M71 35h7M80 35h19M116 35h1M23 36h21M46 36h1M57 36h1M69 36h30M112 36h5M4 37h1M27 37h6M34 37h5M41 37h9M53 37h7M73 37h19M94 37h5M108 37h7M12 38h1M32 38h5M38 38h7M46 38h18M73 38h9M83 38h1M85 38h13M33 39h19M53 39h2M56 39h5M72 39h26M122 39h3M34 40h4M41 40h7M49 40h9M59 40h4M71 40h6M79 40h19M99 40h1M124 40h1M0 41h1M40 41h27M70 41h1M72 41h12M85 41h14M41 42h30M72 42h11M84 42h15M102 42h1M117 42h1M42 43h2M46 43h2M49 43h2M53 43h3M57 43h1M59 43h25M85 43h3M89 43h11M116 43h1M34 44h1M46 44h6M53 44h3M59 44h41M30 45h1M58 45h27M86 45h4M91 45h3M98 45h4M103 45h3M117 45h1M55 46h8M67 46h7M75 46h4M80 46h1M82 46h1M86 46h6M94 46h1M96 46h10M56 47h3M67 47h2M77 47h1M88 47h4M94 47h14M109 47h1M55 48h7M88 48h5M94 48h19M55 49h8M87 49h10M101 49h7M112 49h1M42 50h2M55 50h5M61 50h2M89 50h10M102 50h4M28 51h2M56 51h8M70 51h1M75 51h3M88 51h16M105 51h4M112 51h2M19 52h2M44 52h3M57 52h8M92 52h23M19 53h3M43 53h7M55 53h10M89 53h1M92 53h11M105 53h9M19 54h7M40 54h10M54 54h11M88 54h2M92 54h11M104 54h10M20 55h18M39 55h12M55 55h9M70 55h1M82 55h2M91 55h3M95 55h17M18 56h1M21 56h1M23 56h2M31 56h3M38 56h25M69 56h1M85 56h11M98 56h10M111 56h1M18 57h3M41 57h7M49 57h17M68 57h3M83 57h2M86 57h2M92 57h3M99 57h8M111 57h1M19 58h1M46 58h4M53 58h5M62 58h4M67 58h11M81 58h5M88 58h1M98 58h2M101 58h5M21 59h2M47 59h24M72 59h4M77 59h3M82 59h10M98 59h6M19 60h1M21 60h1M48 60h7M57 60h6M65 60h2M69 60h9M82 60h8M100 60h3M111 60h1M21 61h1M40 61h1M42 61h1M60 61h4M67 61h3M71 61h6M79 61h1M82 61h7M111 61h1M21 62h5M55 62h10M67 62h13M82 62h13M111 62h2M21 63h9M52 63h13M66 63h11M78 63h1M83 63h12M112 63h1M22 64h7M53 64h23M82 64h7M91 64h1M93 64h3M112 64h1M23 65h1M25 65h9M50 65h5M57 65h3M61 65h4M66 65h10M87 65h3M25 66h5M31 66h2M59 66h16M88 66h4M23 67h3M27 67h5M59 67h2M67 67h4M72 67h2M86 67h1M91 67h2M22 68h4M27 68h4M62 68h1M65 68h1M67 68h1M23 69h11M121 69h1M24 70h1M26 70h9M94 70h1M122 70h1M125 70h1M25 71h1M27 71h8M79 71h1M97 71h3M124 71h2M25 72h1M31 72h3M75 72h1M121 72h1M125 72h1M26 73h2M29 73h5M35 73h1M85 73h1M114 73h4M27 74h3M35 74h1M81 74h1M83 74h1M114 74h2M117 74h1M35 75h5M55 75h3M114 75h1M35 76h5M65 76h1M81 76h2M99 76h1M102 76h4M113 76h1M65 77h1M92 77h1M103 77h1M109 77h3M45 78h4M105 78h1M110 78h2M49 79h1M51 79h5M60 79h1M75 79h3M99 79h8M54 80h2M57 80h5M66 80h3M73 80h2M78 80h4M98 80h2M106 80h3M54 81h1M71 81h1M81 81h3M99 81h1M83 82h1M85 82h1M99 82h1M83 83h1M100 83h2M88 84h3M102 84h1M87 85h1M90 85h1M93 85h3M97 85h3M90 86h2M89 87h2"/>
<path stroke="#ffdd00" d="M4 0h9M15 0h7M5 1h9M25 1h1M0 2h5M8 2h5M18 2h1M26 2h1M0 3h14M0 4h6M7 4h1M10 4h3M0 5h9M11 5h3M0 6h1M2 6h1M4 6h2M96 14h1M0 21h4M0 22h1M13 22h1M11 23h5M97 23h1M96 25h1M25 27h1M70 27h1M72 27h1M88 27h1M97 27h1M23 28h3M70 28h2M73 28h1M98 28h2M29 31h3M30 32h1M40 34h3M40 35h1M42 35h1M78 35h2M129 36h2M39 37h2M92 37h2M45 38h1M82 38h1M84 38h1M55 39h1M48 40h1M58 40h1M77 40h2M48 43h1M56 43h1M58 43h1M88 43h1M56 44h3M85 45h1M94 45h4M63 46h4M74 46h1M79 46h1M81 46h1M83 46h3M92 46h2M95 46h1M59 47h8M69 47h8M78 47h10M92 47h2M62 48h12M76 48h12M63 49h17M81 49h6M60 50h1M63 50h4M68 50h4M73 50h16M64 51h6M71 51h4M78 51h10M65 52h22M65 53h22M103 53h2M65 54h22M103 54h1M64 55h6M71 55h11M84 55h3M94 55h1M22 56h1M25 56h6M34 56h4M63 56h6M70 56h3M75 56h10M108 56h3M21 57h7M31 57h10M66 57h2M71 57h12M85 57h1M88 57h4M107 57h4M20 58h26M58 58h4M66 58h1M78 58h3M86 58h2M89 58h7M100 58h1M106 58h6M23 59h24M80 59h2M92 59h6M104 59h9M22 60h26M55 60h2M63 60h2M67 60h2M78 60h4M90 60h10M103 60h8M22 61h18M41 61h1M43 61h17M64 61h3M77 61h2M80 61h2M89 61h14M104 61h7M26 62h18M47 62h8M65 62h2M80 62h2M95 62h8M104 62h7M30 63h22M65 63h1M77 63h1M79 63h4M95 63h17M29 64h14M44 64h9M76 64h6M89 64h2M92 64h1M96 64h16M24 65h1M34 65h10M47 65h3M55 65h2M60 65h1M76 65h2M81 65h6M90 65h5M98 65h6M105 65h8M33 66h8M56 66h3M75 66h6M84 66h4M92 66h3M98 66h9M109 66h4M26 67h1M32 67h2M36 67h4M53 67h1M56 67h3M61 67h6M71 67h1M74 67h12M87 67h4M93 67h2M101 67h13M26 68h1M31 68h9M56 68h6M63 68h2M66 68h1M68 68h27M101 68h5M107 68h1M110 68h5M120 68h1M34 69h6M56 69h19M77 69h30M108 69h10M119 69h2M123 69h1M35 70h5M56 70h12M69 70h25M95 70h13M109 70h13M123 70h2M26 71h1M35 71h4M58 71h7M70 71h9M80 71h7M89 71h3M93 71h4M100 71h7M109 71h1M111 71h3M115 71h2M120 71h4M26 72h5M34 72h6M57 72h7M70 72h5M76 72h15M92 72h1M94 72h23M28 73h1M34 73h1M36 73h6M57 73h5M63 73h2M66 73h19M86 73h7M95 73h6M103 73h11M36 74h4M55 74h11M68 74h6M75 74h6M82 74h1M84 74h30M40 75h3M54 75h1M58 75h8M68 75h20M89 75h3M93 75h21M41 76h4M47 76h1M55 76h4M60 76h5M66 76h15M83 76h16M100 76h2M106 76h7M45 77h6M55 77h10M66 77h7M76 77h9M86 77h6M93 77h10M104 77h5M49 78h37M87 78h18M106 78h4M56 79h4M61 79h14M78 79h21M107 79h3M56 80h1M62 80h3M69 80h4M82 80h4M89 80h9M84 81h15M84 82h1M86 82h2M89 82h1M91 82h8M84 83h9M94 83h6M85 84h3M91 84h11M91 85h2"/>
<path stroke="#ffaa00" d="M116 46h1M115 47h2M74 48h2M116 48h1M80 49h1M67 50h1M72 50h1M87 52h3M87 53h2M90 53h2M87 54h1M90 54h2M88 55h3M19 56h2M73 56h2M28 57h3M96 57h2M97 58h1M103 61h1M44 62h3M103 62h1M43 64h1M44 65h3M78 65h3M41 66h15M81 66h3M107 66h2M34 67h2M40 67h2M43 67h10M54 67h2M40 68h16M106 68h1M108 68h2M40 69h8M50 69h6M75 69h2M107 69h1M40 70h16M68 70h1M108 70h1M39 71h13M54 71h4M65 71h5M87 71h2M92 71h1M107 71h2M110 71h1M114 71h1M126 71h1M40 72h2M43 72h7M51 72h2M55 72h2M64 72h6M91 72h1M93 72h1M42 73h12M56 73h1M62 73h1M65 73h1M93 73h2M101 73h2M40 74h15M66 74h2M74 74h1M43 75h11M66 75h2M88 75h1M92 75h1M45 76h2M48 76h7M59 76h1M51 77h4M73 77h3M85 77h1M86 78h1M86 80h3M88 82h1M90 82h1M93 83h1M88 85h2M88 86h2"/>
<path stroke="#ff5500" d="M90 52h2M87 55h1M96 56h2M95 57h1M98 57h1M96 58h1M95 65h3M114 65h1M95 66h3M42 67h1M95 67h4M95 68h4M48 69h2M52 71h2M42 72h1M50 72h1M53 72h2M54 73h2"/>
<path stroke="#ee0000" d="M18 55h2M104 65h1M113 65h1M115 65h1M113 66h6M99 67h2M114 67h6M99 68h2M115 68h3M119 68h1M123 72h1M88 87h1M88 88h1"/>
<path stroke="#880000" d="M118 68h1M118 69h1M122 72h1"/>
</g></g>
</g>
<rect x="1512.50" y="880" width="448.40" height="1" fill="#fff" shape-rendering="crispEdges"/>
<rect x="1511.50" y="747.50" width="450.40" height="335.40" fill="none" stroke="#000" stroke-width="0.75"/>
<text x="1736.70" y="745.10" font-size="12.3" text-anchor="middle" font-weight="normal" >2018.11</text>
<g shape-rendering="crispEdges">
<clipPath id="c12"><rect x="0" y="0" width="449.40" height="334.40"/></clipPath>
<g transform="translate(1969.90,748.00)" clip-path="url(#c12)"><g transform="scale(3,3) translate(0,0.5)" stroke-width="1" fill="none">
<path stroke="#44ff00" d="M0 0h151M0 1h151M0 2h151M0 3h151M0 4h151M0 5h151M0 6h151M0 7h151M0 8h151M0 9h151M0 10h151M0 11h151M0 12h147M150 12h1M0 13h151M0 14h151M0 15h151M0 16h151M0 17h151M0 18h151M0 19h151M0 20h151M0 21h151M0 22h151M0 23h151M0 24h151M0 25h151M0 26h151M0 27h151M0 28h149M0 29h146M0 30h144M0 31h142M0 32h140M0 33h138M0 34h136M0 35h134M0 36h132M0 37h131M0 38h129M0 39h127M0 40h126M0 41h124M0 42h123M0 43h9M16 43h105M0 44h6M18 44h102M0 45h3M19 45h100M0 46h2M19 46h99M19 47h98M20 48h97M20 49h97M19 50h97M19 51h97M18 52h98M17 53h98M16 54h98M17 55h97M17 56h97M18 57h95M18 58h95M18 59h95M18 60h95M19 61h94M19 62h94M20 63h93M20 64h95M21 65h96M21 66h98M22 67h99M22 68h100M23 69h101M24 70h103M24 71h103M25 72h102M26 73h96M26 74h92M27 75h88M27 76h2M34 76h80M26 77h2M42 77h71M25 78h2M45 78h67M24 79h2M49 79h62M24 80h2M53 80h3M59 80h50M54 81h1M69 81h10M80 81h28M75 82h1M81 82h25M82 83h23M83 84h20M85 85h16M86 86h9M87 87h4M88 88h2M88 89h2"/>
<path stroke="#0099ff" d="M120 67h1M125 70h1M26 73h1M35 76h1M100 85h1M92 86h1"/>
<path stroke="#00ffcc" d="M135 34h1M133 35h1M122 42h1M112 59h1M114 64h1M37 76h1M44 77h1M25 79h1M110 79h1"/>
<path stroke="#00ff44" d="M125 1h2M133 1h3M126 2h1M130 2h3M129 3h1M107 4h1M117 4h1M106 5h1M115 5h2M125 5h3M147 5h1M117 6h1M119 6h3M133 6h3M113 7h2M116 7h4M121 7h1M129 7h10M144 7h1M48 8h1M116 8h2M121 8h2M134 8h3M139 8h1M143 8h1M118 9h1M124 9h1M132 9h5M145 9h2M112 10h1M118 10h4M124 10h1M130 10h2M143 10h3M147 10h4M14 11h1M34 11h4M41 11h4M49 11h1M127 11h4M132 11h1M143 11h3M148 11h3M5 12h1M11 12h2M39 12h1M44 12h1M48 12h3M110 12h2M113 12h5M124 12h2M131 12h3M138 12h1M142 12h1M144 12h1M2 13h1M17 13h1M38 13h3M53 13h1M111 13h1M113 13h5M121 13h3M125 13h1M137 13h1M145 13h1M147 13h2M150 13h1M0 14h1M2 14h1M5 14h1M32 14h1M38 14h1M51 14h2M109 14h3M113 14h6M124 14h1M130 14h3M136 14h1M144 14h1M0 15h1M10 15h1M33 15h1M39 15h1M114 15h1M116 15h3M124 15h8M139 15h2M144 15h1M149 15h2M24 16h4M46 16h2M86 16h2M116 16h6M127 16h2M132 16h3M138 16h2M149 16h2M13 17h2M26 17h2M115 17h8M130 17h1M146 17h1M13 18h2M30 18h1M34 18h2M87 18h1M113 18h4M125 18h1M33 19h1M46 19h1M108 19h1M112 19h6M122 19h1M125 19h2M143 19h1M148 19h1M22 20h1M114 20h1M120 20h2M123 20h1M128 20h1M143 20h3M22 21h1M28 21h3M34 21h1M38 21h1M54 21h3M121 21h2M137 21h2M143 21h5M150 21h1M28 22h1M54 22h3M114 22h1M116 22h2M123 22h4M138 22h3M145 22h2M38 23h3M124 23h3M144 23h1M40 24h1M47 24h1M49 24h1M132 24h2M135 24h3M142 24h3M150 24h1M38 25h6M50 25h2M62 25h1M107 25h1M125 25h1M131 25h4M136 25h1M140 25h1M143 25h3M149 25h1M42 26h2M45 26h1M51 26h2M54 26h1M56 26h1M59 26h3M117 26h1M121 26h11M144 26h2M30 27h2M43 27h2M61 27h1M106 27h2M115 27h3M122 27h12M138 27h1M145 27h1M53 28h1M109 28h1M113 28h4M121 28h1M123 28h1M132 28h4M144 28h2M48 29h1M114 29h1M121 29h1M131 29h4M139 29h1M142 29h1M46 30h1M55 30h2M103 30h1M131 30h2M143 30h1M118 31h1M122 31h5M112 32h8M123 32h3M56 33h1M122 33h3M126 33h1M117 34h3M134 34h1M7 35h1M66 35h3M116 35h3M129 35h1M45 36h1M66 36h2M109 36h1M25 38h1M67 39h3M104 39h1M107 39h1M0 40h1M123 41h1M121 42h1M18 43h1M28 43h1M33 43h1M36 43h4M4 44h1M25 44h1M33 45h2M43 47h3M40 48h1M113 48h1M116 48h1M113 49h3M113 50h3M108 51h2M18 52h1M66 52h1M39 53h1M27 54h2M46 56h3M49 58h2M18 59h1M43 59h1M118 66h1M117 71h3M117 72h3M122 72h1M28 76h1M96 76h1M26 77h2M102 77h1M104 77h2M25 78h2M47 78h1M96 78h1M111 78h1M24 79h1M95 79h2M25 80h1M59 80h1M94 80h1M72 81h1M93 81h3M104 81h1M96 84h1M101 84h1"/>
<path stroke="#ccff00" d="M0 0h4M5 0h2M16 0h9M27 0h2M31 0h15M49 0h3M53 0h8M62 0h13M76 0h7M84 0h6M92 0h9M111 0h1M113 0h2M118 0h4M0 1h5M13 1h25M39 1h1M41 1h3M46 1h22M73 1h2M77 1h16M95 1h2M100 1h1M110 1h1M142 1h3M0 2h2M3 2h1M11 2h1M13 2h1M20 2h7M31 2h2M34 2h48M83 2h12M99 2h4M6 3h1M9 3h1M11 3h12M26 3h1M32 3h58M92 3h1M94 3h6M143 3h1M6 4h17M32 4h53M86 4h2M92 4h8M6 5h5M13 5h6M22 5h3M33 5h1M36 5h3M45 5h13M60 5h25M86 5h2M95 5h2M98 5h3M5 6h11M22 6h2M44 6h3M52 6h13M66 6h9M76 6h13M95 6h7M0 7h11M51 7h2M54 7h1M57 7h18M77 7h10M94 7h4M125 7h2M0 8h1M2 8h6M21 8h1M28 8h1M56 8h1M58 8h9M68 8h12M81 8h5M90 8h1M93 8h9M126 8h1M1 9h7M59 9h1M61 9h5M68 9h17M90 9h1M96 9h8M0 10h4M61 10h25M97 10h6M0 11h1M17 11h1M62 11h10M73 11h11M97 11h4M24 12h1M58 12h24M94 12h2M98 12h6M64 13h21M92 13h1M96 13h5M103 13h1M64 14h8M73 14h14M89 14h3M103 14h3M56 15h1M64 15h4M69 15h5M75 15h9M58 16h1M60 16h1M65 16h4M70 16h14M97 16h3M66 17h8M75 17h2M78 17h6M97 17h3M105 17h1M69 18h12M84 18h2M93 18h1M95 18h6M104 18h1M6 19h2M10 19h3M67 19h20M93 19h8M7 20h2M63 20h2M67 20h17M85 20h2M90 20h12M0 21h7M62 21h1M68 21h3M73 21h14M90 21h11M102 21h1M132 21h3M0 22h9M11 22h5M66 22h2M69 22h14M84 22h17M107 22h1M2 23h7M10 23h5M21 23h1M63 23h1M66 23h4M71 23h23M95 23h7M4 24h6M13 24h3M20 24h2M27 24h1M66 24h36M110 24h1M0 25h17M19 25h3M67 25h10M79 25h10M91 25h10M116 25h1M2 26h5M8 26h12M21 26h2M67 26h35M1 27h6M13 27h14M64 27h5M70 27h8M79 27h1M81 27h4M86 27h6M93 27h6M101 27h1M0 28h10M13 28h5M19 28h8M28 28h1M65 28h5M71 28h11M83 28h7M93 28h7M0 29h4M5 29h1M12 29h1M15 29h14M66 29h14M84 29h1M96 29h4M4 30h2M7 30h3M13 30h1M15 30h1M20 30h1M23 30h8M66 30h16M94 30h7M6 31h2M10 31h10M23 31h4M28 31h5M34 31h4M62 31h11M74 31h8M92 31h9M110 31h1M112 31h1M8 32h3M12 32h6M20 32h12M35 32h6M68 32h2M74 32h3M78 32h5M92 32h6M99 32h2M138 32h1M0 33h2M16 33h1M19 33h1M21 33h20M53 33h1M63 33h2M72 33h8M92 33h7M100 33h2M11 34h1M17 34h7M27 34h1M29 34h2M32 34h3M36 34h2M39 34h2M53 34h1M63 34h1M75 34h5M84 34h5M92 34h2M95 34h10M17 35h3M21 35h9M31 35h5M37 35h5M60 35h3M75 35h4M83 35h5M89 35h1M93 35h2M96 35h1M101 35h1M16 36h1M18 36h1M24 36h1M26 36h2M29 36h2M34 36h5M41 36h1M51 36h1M60 36h3M74 36h2M77 36h3M90 36h1M93 36h8M23 37h1M29 37h2M33 37h10M59 37h6M74 37h10M92 37h6M99 37h3M119 37h2M124 37h2M10 38h2M14 38h1M27 38h9M37 38h1M39 38h12M58 38h8M76 38h5M82 38h7M93 38h10M114 38h2M15 39h1M28 39h9M38 39h16M55 39h8M76 39h15M94 39h5M13 40h2M34 40h3M43 40h13M57 40h6M76 40h4M82 40h3M86 40h5M93 40h7M121 40h3M11 41h1M34 41h3M44 41h4M50 41h13M76 41h6M84 41h11M96 41h5M43 42h11M55 42h8M64 42h1M73 42h8M82 42h17M100 42h1M43 43h22M70 43h1M72 43h16M22 44h1M45 44h4M52 44h8M61 44h7M69 44h15M85 44h7M95 44h1M97 44h1M104 44h1M21 45h4M27 45h1M50 45h1M54 45h1M56 45h15M72 45h13M87 45h6M96 45h5M104 45h2M50 46h6M57 46h48M20 47h1M49 47h2M52 47h21M76 47h1M78 47h26M22 48h2M50 48h11M62 48h7M70 48h1M72 48h4M78 48h5M87 48h1M89 48h2M93 48h11M109 48h1M22 49h1M47 49h1M49 49h9M59 49h1M61 49h10M72 49h13M86 49h4M92 49h12M41 50h2M49 50h1M51 50h6M58 50h9M69 50h5M77 50h9M87 50h11M100 50h3M22 51h1M41 51h1M47 51h10M60 51h6M68 51h6M75 51h9M85 51h7M94 51h7M113 51h1M48 52h13M70 52h17M92 52h8M113 52h1M31 53h2M49 53h10M63 53h1M69 53h9M79 53h3M83 53h4M92 53h10M105 53h2M108 53h5M20 54h3M31 54h3M49 54h9M61 54h3M65 54h2M68 54h14M84 54h3M89 54h1M92 54h11M20 55h3M24 55h10M51 55h3M55 55h6M62 55h10M73 55h10M85 55h2M91 55h11M17 56h2M21 56h5M29 56h5M53 56h22M76 56h13M90 56h6M98 56h4M105 56h4M20 57h13M34 57h9M54 57h11M66 57h22M91 57h1M93 57h2M99 57h8M108 57h4M21 58h12M55 58h1M57 58h2M61 58h28M93 58h3M98 58h7M109 58h4M22 59h6M41 59h1M59 59h2M62 59h9M75 59h3M79 59h10M94 59h1M98 59h7M110 59h2M19 60h10M43 60h1M48 60h2M53 60h1M58 60h5M64 60h1M66 60h20M89 60h2M92 60h1M94 60h2M97 60h7M111 60h1M20 61h2M24 61h6M51 61h4M56 61h1M59 61h27M88 61h1M98 61h1M112 61h1M20 62h7M29 62h4M46 62h1M48 62h1M52 62h3M56 62h10M67 62h25M95 62h1M112 62h1M21 63h3M25 63h9M59 63h35M96 63h1M106 63h1M22 64h10M58 64h3M62 64h1M66 64h1M68 64h4M74 64h24M24 65h6M59 65h5M66 65h3M70 65h1M74 65h5M80 65h9M91 65h4M98 65h2M24 66h6M37 66h1M59 66h8M68 66h6M77 66h1M83 66h3M90 66h3M94 66h1M98 66h7M22 67h7M60 67h5M66 67h6M77 67h3M101 67h4M113 67h1M22 68h6M60 68h1M62 68h2M67 68h2M87 68h2M101 68h1M114 68h1M120 68h1M23 69h4M56 69h1M60 69h1M102 69h2M121 69h2M24 70h5M124 70h1M26 71h3M76 71h2M120 71h5M26 72h3M120 72h1M125 72h2M27 73h1M98 73h1M108 73h2M117 73h5M27 74h5M68 74h3M89 74h1M91 74h6M99 74h1M104 74h3M109 74h6M27 75h1M29 75h1M79 75h3M88 75h3M100 75h3M108 75h3M34 76h1M36 76h1M38 76h3M42 76h2M78 76h13M103 76h1M110 76h2M45 77h1M69 77h1M76 77h3M82 77h5M90 77h1M110 77h2M61 78h3M68 78h5M77 78h12M52 79h1M57 79h8M67 79h2M86 79h1M63 80h4M54 81h1M76 81h1M82 81h1M84 82h2M86 83h1M88 83h1"/>
<path stroke="#ffdd00" d="M7 0h9M25 0h2M29 0h2M90 0h2M5 1h8M38 1h1M40 1h1M44 1h2M68 1h5M75 1h2M2 2h1M4 2h7M12 2h1M14 2h6M33 2h1M0 3h2M3 3h3M7 3h2M10 3h1M0 4h6M85 4h1M0 5h6M58 5h2M85 5h1M97 5h1M0 6h5M65 6h1M72 11h1M72 14h1M81 18h3M71 21h2M0 23h2M70 23h1M94 23h1M0 24h4M10 24h3M89 25h2M20 26h1M0 27h1M69 27h1M78 27h1M80 27h1M85 27h1M18 28h1M70 28h1M8 31h2M27 31h1M77 32h1M98 32h1M99 33h1M35 34h1M36 35h1M76 36h1M129 36h2M80 40h2M82 41h2M54 42h1M71 45h1M51 47h1M73 47h3M77 47h1M61 48h1M69 48h1M71 48h1M76 48h2M83 48h4M88 48h1M91 48h2M58 49h1M60 49h1M85 49h1M90 49h2M74 50h3M86 50h1M98 50h2M74 51h1M92 51h2M82 53h1M89 53h1M82 54h2M88 54h1M54 55h1M72 55h1M83 55h2M26 56h3M75 56h1M89 56h1M33 57h1M65 57h1M88 57h3M92 57h1M107 57h1M33 58h9M89 58h4M105 58h4M28 59h2M31 59h6M39 59h2M78 59h1M89 59h5M95 59h3M105 59h5M29 60h8M40 60h3M63 60h1M65 60h1M86 60h3M91 60h1M93 60h1M96 60h1M104 60h7M22 61h2M30 61h7M39 61h12M86 61h2M89 61h9M99 61h13M27 62h2M33 62h4M39 62h7M47 62h1M49 62h3M66 62h1M92 62h3M96 62h13M110 62h2M34 63h12M47 63h12M97 63h3M102 63h4M107 63h5M32 64h7M40 64h9M54 64h4M98 64h10M111 64h2M30 65h9M41 65h18M79 65h1M89 65h2M100 65h4M105 65h5M111 65h2M30 66h7M38 66h8M48 66h11M74 66h3M78 66h5M86 66h4M93 66h1M105 66h2M109 66h4M29 67h22M52 67h8M65 67h1M72 67h5M80 67h15M105 67h8M28 68h32M61 68h1M64 68h3M69 68h6M76 68h6M83 68h4M89 68h6M102 68h3M108 68h1M110 68h4M27 69h5M35 69h16M54 69h2M57 69h3M61 69h19M83 69h19M104 69h5M110 69h3M114 69h4M119 69h2M29 70h3M33 70h12M51 70h58M113 70h1M116 70h8M29 71h17M56 71h20M78 71h25M104 71h1M106 71h3M112 71h2M116 71h1M29 72h18M56 72h12M69 72h26M96 72h6M103 72h11M121 72h1M28 73h17M55 73h8M64 73h12M78 73h20M99 73h2M102 73h6M110 73h7M32 74h13M57 74h11M71 74h18M90 74h1M100 74h4M107 74h2M31 75h13M49 75h1M52 75h1M58 75h2M61 75h18M82 75h6M44 76h5M52 76h1M57 76h21M46 77h1M53 77h2M56 77h13M70 77h6M79 77h3M49 78h4M54 78h7M64 78h4M53 79h3M65 79h2M54 80h1"/>
<path stroke="#ffaa00" d="M2 3h1M116 46h1M115 47h2M87 52h3M87 53h2M90 53h2M87 54h1M90 54h2M88 55h3M19 56h2M97 57h1M96 58h2M30 59h1M37 59h2M37 60h3M37 61h2M37 62h2M109 62h1M46 63h1M100 63h2M39 64h1M49 64h5M108 64h3M39 65h2M96 65h2M110 65h1M46 66h2M107 66h2M51 67h1M75 68h1M82 68h1M95 68h4M105 68h3M109 68h1M32 69h3M51 69h3M80 69h3M109 69h1M113 69h1M123 69h1M32 70h1M45 70h6M109 70h4M114 70h2M46 71h10M103 71h1M105 71h1M109 71h3M114 71h2M47 72h9M68 72h1M95 72h1M102 72h1M114 72h3M45 73h10M63 73h1M76 73h2M101 73h1M45 74h12M44 75h5M50 75h2M53 75h5M60 75h1M49 76h3M53 76h4M47 77h6M55 77h1M53 78h1M88 85h2M88 86h2"/>
<path stroke="#ff5500" d="M90 52h2M87 55h1M96 56h2M95 57h2M98 57h1M95 65h1M95 66h3M95 67h4"/>
<path stroke="#ee0000" d="M18 55h2M104 65h1M113 65h3M113 66h5M99 67h2M114 67h6M99 68h2M115 68h3M119 68h1M123 72h1M88 87h1M88 88h1"/>
<path stroke="#880000" d="M118 68h1M118 69h1"/>
</g></g>
</g>
<rect x="1970.40" y="880" width="448.40" height="1" fill="#fff" shape-rendering="crispEdges"/>
<rect x="1969.40" y="747.50" width="450.40" height="335.40" fill="none" stroke="#000" stroke-width="0.75"/>
<text x="2194.60" y="745.10" font-size="12.3" text-anchor="middle" font-weight="normal" >2018.12</text>
<path d="M595.70 74.50h-6" stroke="#000" stroke-width="0.75"/>
<text x="583.40" y="78.90" font-size="8.6" text-anchor="end" font-weight="normal" letter-spacing="0.3">50<tspan dy="-3.1" font-size="6.6">o</tspan><tspan dy="3.1" dx="0.6">N</tspan></text>
<path d="M595.70 138.60h-6" stroke="#000" stroke-width="0.75"/>
<text x="583.40" y="143.00" font-size="8.6" text-anchor="end" font-weight="normal" letter-spacing="0.3">49.8<tspan dy="-3.1" font-size="6.6">o</tspan><tspan dy="3.1" dx="0.6">N</tspan></text>
<path d="M595.70 202.70h-6" stroke="#000" stroke-width="0.75"/>
<text x="583.40" y="207.10" font-size="8.6" text-anchor="end" font-weight="normal" letter-spacing="0.3">49.6<tspan dy="-3.1" font-size="6.6">o</tspan><tspan dy="3.1" dx="0.6">N</tspan></text>
<path d="M595.70 266.80h-6" stroke="#000" stroke-width="0.75"/>
<text x="583.40" y="271.20" font-size="8.6" text-anchor="end" font-weight="normal" letter-spacing="0.3">49.4<tspan dy="-3.1" font-size="6.6">o</tspan><tspan dy="3.1" dx="0.6">N</tspan></text>
<path d="M595.70 330.90h-6" stroke="#000" stroke-width="0.75"/>
<text x="583.40" y="335.30" font-size="8.6" text-anchor="end" font-weight="normal" letter-spacing="0.3">49.2<tspan dy="-3.1" font-size="6.6">o</tspan><tspan dy="3.1" dx="0.6">N</tspan></text>
<path d="M595.70 427.50h-6" stroke="#000" stroke-width="0.75"/>
<path d="M595.70 491.60h-6" stroke="#000" stroke-width="0.75"/>
<path d="M595.70 555.70h-6" stroke="#000" stroke-width="0.75"/>
<path d="M595.70 619.80h-6" stroke="#000" stroke-width="0.75"/>
<path d="M595.70 683.90h-6" stroke="#000" stroke-width="0.75"/>
<path d="M595.70 780.50h-6" stroke="#000" stroke-width="0.75"/>
<text x="583.40" y="784.90" font-size="8.6" text-anchor="end" font-weight="normal" letter-spacing="0.3">50<tspan dy="-3.1" font-size="6.6">o</tspan><tspan dy="3.1" dx="0.6">N</tspan></text>
<path d="M595.70 844.60h-6" stroke="#000" stroke-width="0.75"/>
<text x="583.40" y="849.00" font-size="8.6" text-anchor="end" font-weight="normal" letter-spacing="0.3">49.8<tspan dy="-3.1" font-size="6.6">o</tspan><tspan dy="3.1" dx="0.6">N</tspan></text>
<path d="M595.70 908.70h-6" stroke="#000" stroke-width="0.75"/>
<text x="583.40" y="913.10" font-size="8.6" text-anchor="end" font-weight="normal" letter-spacing="0.3">49.6<tspan dy="-3.1" font-size="6.6">o</tspan><tspan dy="3.1" dx="0.6">N</tspan></text>
<path d="M595.70 972.80h-6" stroke="#000" stroke-width="0.75"/>
<text x="583.40" y="977.20" font-size="8.6" text-anchor="end" font-weight="normal" letter-spacing="0.3">49.4<tspan dy="-3.1" font-size="6.6">o</tspan><tspan dy="3.1" dx="0.6">N</tspan></text>
<path d="M595.70 1036.90h-6" stroke="#000" stroke-width="0.75"/>
<text x="583.40" y="1041.30" font-size="8.6" text-anchor="end" font-weight="normal" letter-spacing="0.3">49.2<tspan dy="-3.1" font-size="6.6">o</tspan><tspan dy="3.1" dx="0.6">N</tspan></text>
<path d="M603.50 1082.90v6" stroke="#000" stroke-width="0.75"/>
<path d="M707.00 1082.90v6" stroke="#000" stroke-width="0.75"/>
<text x="707.50" y="1102.30" font-size="8.6" text-anchor="middle" font-weight="normal" letter-spacing="0.3">1<tspan dy="-3.1" font-size="6.6">o</tspan><tspan dy="3.1" dx="0.6">W</tspan></text>
<path d="M810.50 1082.90v6" stroke="#000" stroke-width="0.75"/>
<text x="811.00" y="1102.30" font-size="8.6" text-anchor="middle" font-weight="normal" letter-spacing="0.3">0.5<tspan dy="-3.1" font-size="6.6">o</tspan><tspan dy="3.1" dx="0.6">W</tspan></text>
<path d="M914.00 1082.90v6" stroke="#000" stroke-width="0.75"/>
<text x="914.50" y="1102.30" font-size="8.6" text-anchor="middle" font-weight="normal" letter-spacing="0.3">0<tspan dy="-3.1" font-size="6.6">o</tspan></text>
<path d="M1017.50 1082.90v6" stroke="#000" stroke-width="0.75"/>
<text x="1018.00" y="1102.30" font-size="8.6" text-anchor="middle" font-weight="normal" letter-spacing="0.3">0.5<tspan dy="-3.1" font-size="6.6">o</tspan><tspan dy="3.1" dx="0.6">E</tspan></text>
<path d="M1061.40 1082.90v6" stroke="#000" stroke-width="0.75"/>
<path d="M1164.90 1082.90v6" stroke="#000" stroke-width="0.75"/>
<path d="M1268.40 1082.90v6" stroke="#000" stroke-width="0.75"/>
<path d="M1371.90 1082.90v6" stroke="#000" stroke-width="0.75"/>
<path d="M1475.40 1082.90v6" stroke="#000" stroke-width="0.75"/>
<path d="M1519.30 1082.90v6" stroke="#000" stroke-width="0.75"/>
<path d="M1622.80 1082.90v6" stroke="#000" stroke-width="0.75"/>
<text x="1623.30" y="1102.30" font-size="8.6" text-anchor="middle" font-weight="normal" letter-spacing="0.3">1<tspan dy="-3.1" font-size="6.6">o</tspan><tspan dy="3.1" dx="0.6">W</tspan></text>
<path d="M1726.30 1082.90v6" stroke="#000" stroke-width="0.75"/>
<text x="1726.80" y="1102.30" font-size="8.6" text-anchor="middle" font-weight="normal" letter-spacing="0.3">0.5<tspan dy="-3.1" font-size="6.6">o</tspan><tspan dy="3.1" dx="0.6">W</tspan></text>
<path d="M1829.80 1082.90v6" stroke="#000" stroke-width="0.75"/>
<text x="1830.30" y="1102.30" font-size="8.6" text-anchor="middle" font-weight="normal" letter-spacing="0.3">0<tspan dy="-3.1" font-size="6.6">o</tspan></text>
<path d="M1933.30 1082.90v6" stroke="#000" stroke-width="0.75"/>
<text x="1933.80" y="1102.30" font-size="8.6" text-anchor="middle" font-weight="normal" letter-spacing="0.3">0.5<tspan dy="-3.1" font-size="6.6">o</tspan><tspan dy="3.1" dx="0.6">E</tspan></text>
<path d="M1977.20 1082.90v6" stroke="#000" stroke-width="0.75"/>
<path d="M2080.70 1082.90v6" stroke="#000" stroke-width="0.75"/>
<path d="M2184.20 1082.90v6" stroke="#000" stroke-width="0.75"/>
<path d="M2287.70 1082.90v6" stroke="#000" stroke-width="0.75"/>
<path d="M2391.20 1082.90v6" stroke="#000" stroke-width="0.75"/>
<text x="1507.30" y="1122.60" font-size="12.35" text-anchor="middle" font-weight="normal" >Longitude</text>
<text transform="translate(541.5,562.3) rotate(-90)" font-size="12.35" text-anchor="middle">Latitude</text>
<defs><linearGradient id="cb" x1="0" y1="1" x2="0" y2="0">
<stop offset="0.0009" stop-color="#ffffff"/>
<stop offset="0.0372" stop-color="#f7ffff"/>
<stop offset="0.0875" stop-color="#d8f8ff"/>
<stop offset="0.1379" stop-color="#8fe4ff"/>
<stop offset="0.1681" stop-color="#7fd0ff"/>
<stop offset="0.2084" stop-color="#4a78ff"/>
<stop offset="0.2386" stop-color="#2a4cff"/>
<stop offset="0.2789" stop-color="#0a22ff"/>
<stop offset="0.2990" stop-color="#0033ff"/>
<stop offset="0.3393" stop-color="#0099ff"/>
<stop offset="0.3796" stop-color="#00d0e8"/>
<stop offset="0.4047" stop-color="#00ffcc"/>
<stop offset="0.4400" stop-color="#00ff88"/>
<stop offset="0.4803" stop-color="#10f838"/>
<stop offset="0.5105" stop-color="#22ff22"/>
<stop offset="0.5407" stop-color="#44ff10"/>
<stop offset="0.5709" stop-color="#99ff00"/>
<stop offset="0.5911" stop-color="#ccff00"/>
<stop offset="0.6213" stop-color="#ebf000"/>
<stop offset="0.6414" stop-color="#ffe000"/>
<stop offset="0.6918" stop-color="#ffc000"/>
<stop offset="0.7421" stop-color="#ff8c00"/>
<stop offset="0.7925" stop-color="#ff4c00"/>
<stop offset="0.8428" stop-color="#ff0800"/>
<stop offset="0.8730" stop-color="#c80000"/>
<stop offset="0.9033" stop-color="#800000"/>
<stop offset="0.9435" stop-color="#2a0000"/>
<stop offset="0.9687" stop-color="#000000"/>
<stop offset="1.0000" stop-color="#000000"/>
</linearGradient></defs>
<rect x="2426.20" y="26.50" width="17.60" height="1056.50" fill="url(#cb)" stroke="#000" stroke-width="0.75"/>
<path d="M2443.80 1075.78h4.5M2443.80 1067.35h4.5M2443.80 1060.23h4.5M2443.80 1054.06h4.5M2443.80 1048.62h4.5M2443.80 1043.75h4.5M2443.80 1011.72h4.5M2443.80 992.98h4.5M2443.80 979.69h4.5M2443.80 969.38h4.5M2443.80 960.95h4.5M2443.80 953.83h4.5M2443.80 947.66h4.5M2443.80 942.22h4.5M2443.80 937.35h4.5M2443.80 905.32h4.5M2443.80 886.58h4.5M2443.80 873.29h4.5M2443.80 862.98h4.5M2443.80 854.55h4.5M2443.80 847.43h4.5M2443.80 841.26h4.5M2443.80 835.82h4.5M2443.80 830.95h4.5M2443.80 798.92h4.5M2443.80 780.18h4.5M2443.80 766.89h4.5M2443.80 756.58h4.5M2443.80 748.15h4.5M2443.80 741.03h4.5M2443.80 734.86h4.5M2443.80 729.42h4.5M2443.80 724.55h4.5M2443.80 692.52h4.5M2443.80 673.78h4.5M2443.80 660.49h4.5M2443.80 650.18h4.5M2443.80 641.75h4.5M2443.80 634.63h4.5M2443.80 628.46h4.5M2443.80 623.02h4.5M2443.80 618.15h4.5M2443.80 586.12h4.5M2443.80 567.38h4.5M2443.80 554.09h4.5M2443.80 543.78h4.5M2443.80 535.35h4.5M2443.80 528.23h4.5M2443.80 522.06h4.5M2443.80 516.62h4.5M2443.80 511.75h4.5M2443.80 479.72h4.5M2443.80 460.98h4.5M2443.80 447.69h4.5M2443.80 437.38h4.5M2443.80 428.95h4.5M2443.80 421.83h4.5M2443.80 415.66h4.5M2443.80 410.22h4.5M2443.80 405.35h4.5M2443.80 373.32h4.5M2443.80 354.58h4.5M2443.80 341.29h4.5M2443.80 330.98h4.5M2443.80 322.55h4.5M2443.80 315.43h4.5M2443.80 309.26h4.5M2443.80 303.82h4.5M2443.80 298.95h4.5M2443.80 266.92h4.5M2443.80 248.18h4.5M2443.80 234.89h4.5M2443.80 224.58h4.5M2443.80 216.15h4.5M2443.80 209.03h4.5M2443.80 202.86h4.5M2443.80 197.42h4.5M2443.80 192.55h4.5M2443.80 160.52h4.5M2443.80 141.78h4.5M2443.80 128.49h4.5M2443.80 118.18h4.5M2443.80 109.75h4.5M2443.80 102.63h4.5M2443.80 96.46h4.5M2443.80 91.02h4.5M2443.80 86.15h4.5M2443.80 54.12h4.5M2443.80 35.38h4.5" stroke="#000" stroke-width="0.75"/>
<text x="2452.30" y="1047.15" font-size="6.7" text-anchor="start" font-weight="normal" >10<tspan dy="-2.9" font-size="5.3">−5</tspan></text>
<text x="2452.30" y="940.75" font-size="6.7" text-anchor="start" font-weight="normal" >10<tspan dy="-2.9" font-size="5.3">−4</tspan></text>
<text x="2452.30" y="834.35" font-size="6.7" text-anchor="start" font-weight="normal" >10<tspan dy="-2.9" font-size="5.3">−3</tspan></text>
<text x="2452.30" y="727.95" font-size="6.7" text-anchor="start" font-weight="normal" >10<tspan dy="-2.9" font-size="5.3">−2</tspan></text>
<text x="2452.30" y="621.55" font-size="6.7" text-anchor="start" font-weight="normal" >10<tspan dy="-2.9" font-size="5.3">−1</tspan></text>
<text x="2452.30" y="515.15" font-size="6.7" text-anchor="start" font-weight="normal" >10<tspan dy="-2.9" font-size="5.3">0</tspan></text>
<text x="2452.30" y="408.75" font-size="6.7" text-anchor="start" font-weight="normal" >10<tspan dy="-2.9" font-size="5.3">1</tspan></text>
<text x="2452.30" y="302.35" font-size="6.7" text-anchor="start" font-weight="normal" >10<tspan dy="-2.9" font-size="5.3">2</tspan></text>
<text x="2452.30" y="195.95" font-size="6.7" text-anchor="start" font-weight="normal" >10<tspan dy="-2.9" font-size="5.3">3</tspan></text>
<text x="2452.30" y="89.55" font-size="6.7" text-anchor="start" font-weight="normal" >10<tspan dy="-2.9" font-size="5.3">4</tspan></text>
</svg></body></html>
